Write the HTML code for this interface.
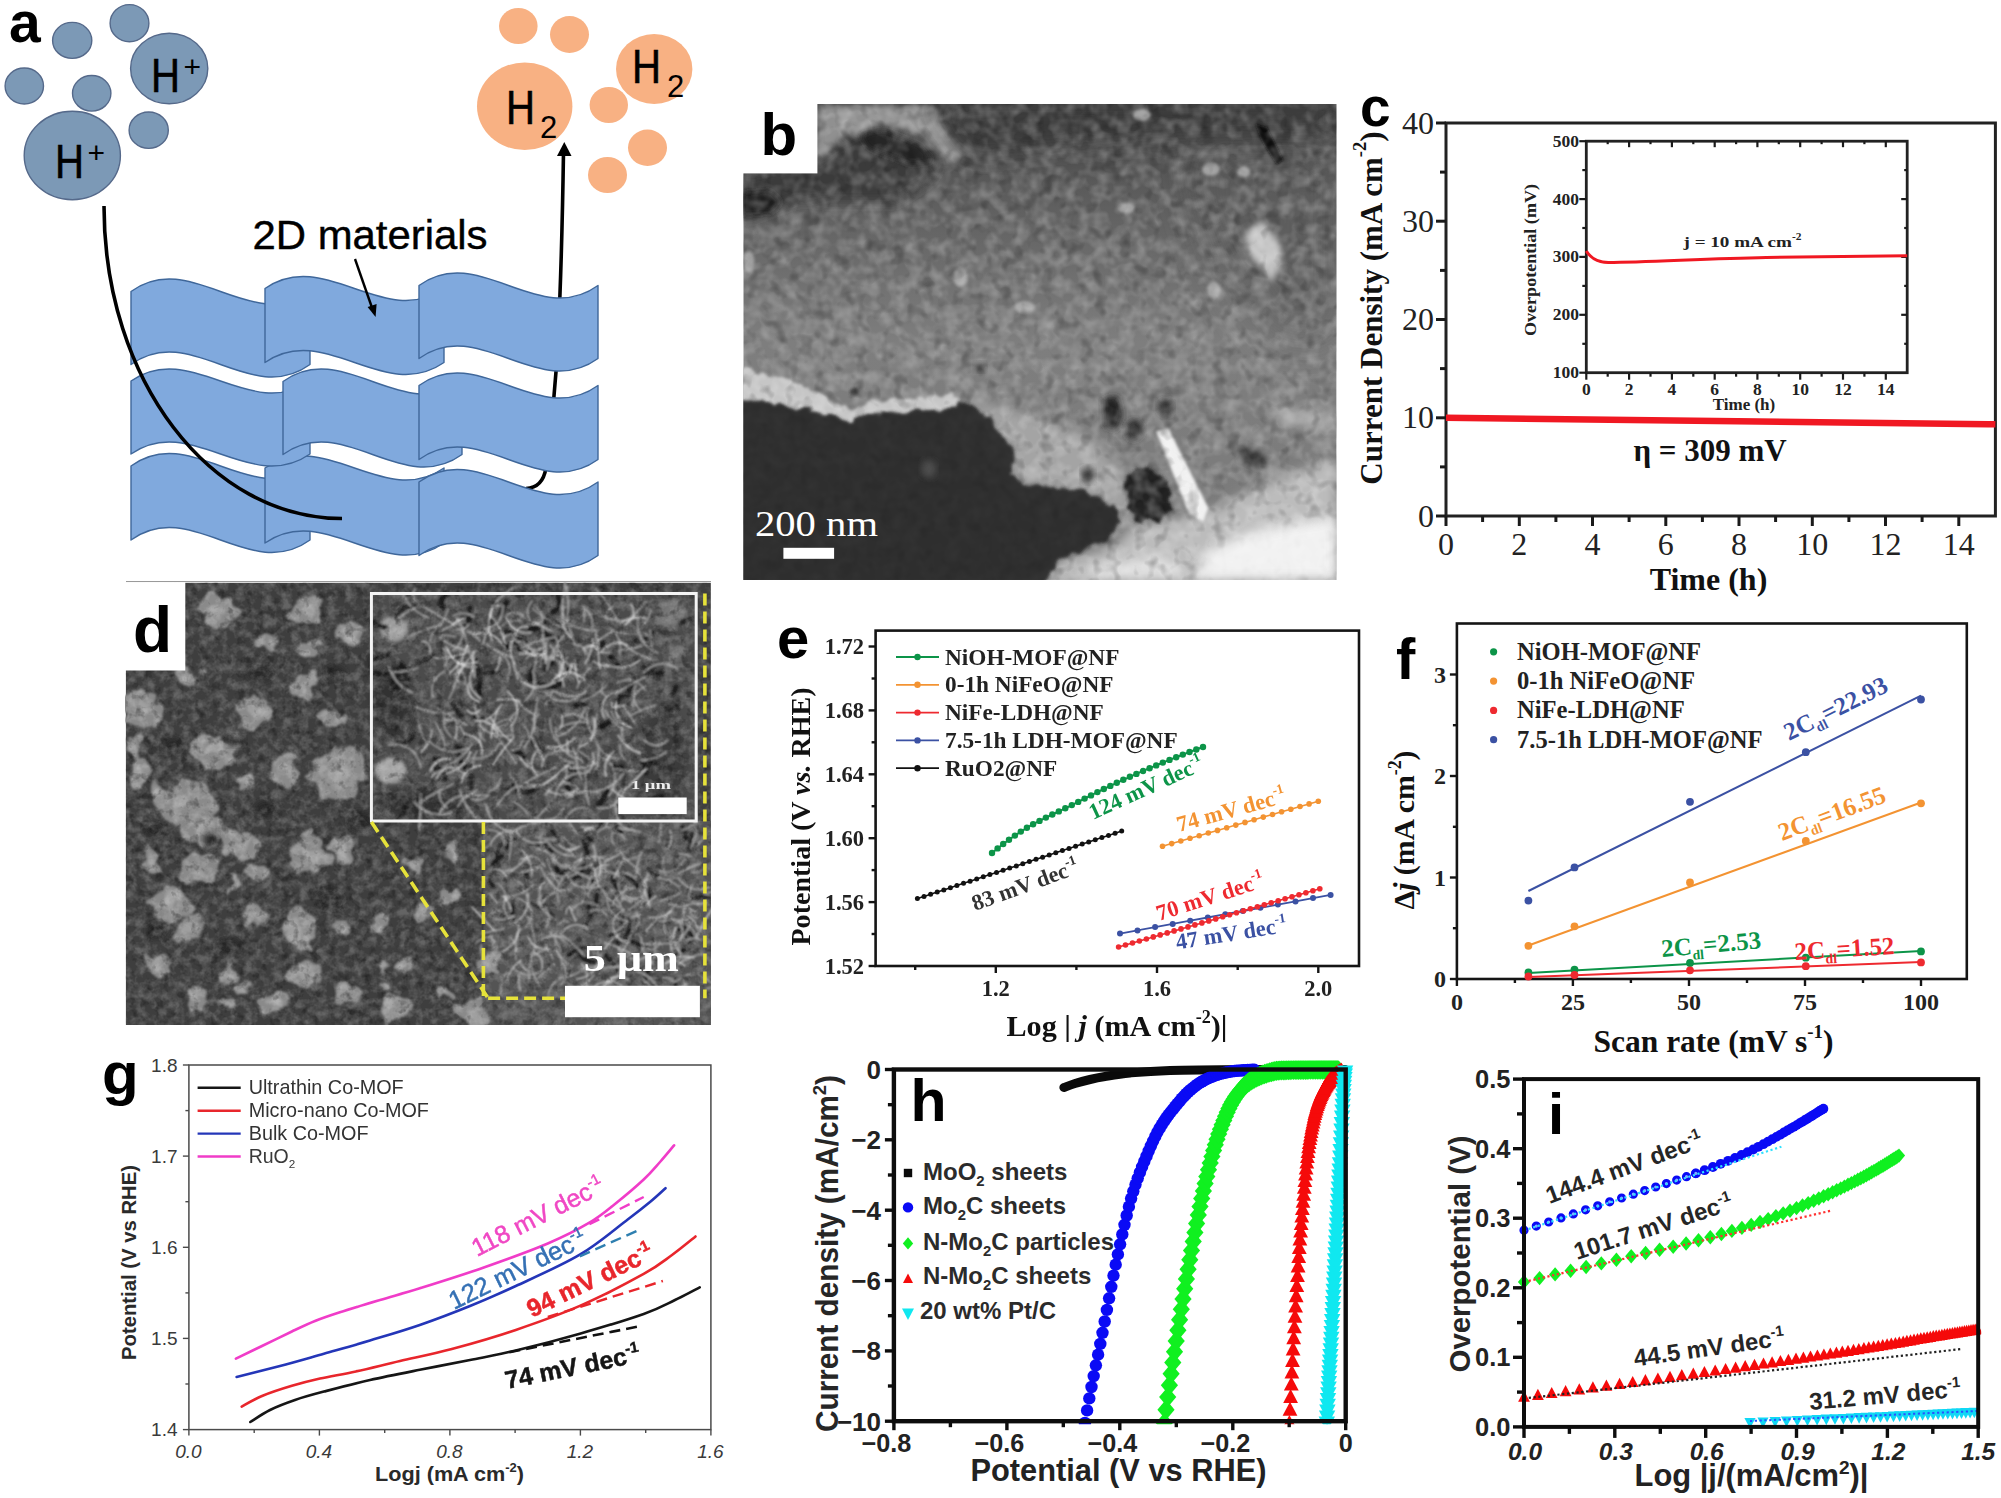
<!DOCTYPE html>
<html lang="en"><head><meta charset="utf-8"><title>2D materials electrocatalysis figure</title>
<style>
html,body{margin:0;padding:0;background:#fff;}
body{width:2001px;height:1498px;overflow:hidden;}
svg{display:block;}
.sa{font-family:"Liberation Sans", sans-serif;}
.se{font-family:"Liberation Serif", serif;}
.dj{font-family:"DejaVu Sans", "Liberation Sans", sans-serif;}
</style></head><body>
<svg width="2001" height="1498" viewBox="0 0 2001 1498">
<defs>

<filter id="bl2" x="-20%" y="-20%" width="140%" height="140%"><feGaussianBlur stdDeviation="1.6"/></filter>
<filter id="bl1" x="-20%" y="-20%" width="140%" height="140%"><feGaussianBlur stdDeviation="0.8"/></filter>
<filter id="bl3" x="-20%" y="-20%" width="140%" height="140%"><feGaussianBlur stdDeviation="3"/></filter>
<filter id="bl6" x="-30%" y="-30%" width="160%" height="160%"><feGaussianBlur stdDeviation="6"/></filter>
<filter id="bl12" x="-40%" y="-40%" width="180%" height="180%"><feGaussianBlur stdDeviation="12"/></filter>
<filter id="bl25" x="-50%" y="-50%" width="200%" height="200%"><feGaussianBlur stdDeviation="25"/></filter>
<filter id="roughb" x="-5%" y="-5%" width="110%" height="110%">
<feTurbulence type="fractalNoise" baseFrequency="0.09" numOctaves="2" seed="9" result="t"/>
<feDisplacementMap in="SourceGraphic" in2="t" scale="12" xChannelSelector="R" yChannelSelector="G" result="d"/>
<feGaussianBlur in="d" stdDeviation="1.4"/>
</filter>
<filter id="grainb" x="0" y="0" width="100%" height="100%">
<feTurbulence type="fractalNoise" baseFrequency="0.075" numOctaves="2" seed="7" result="n"/>
<feColorMatrix in="n" type="matrix" values="0 0 0 0 0  0 0 0 0 0  0 0 0 0 0  2.0 0 0 0 -0.75" result="a"/>
<feFlood flood-color="#fff"/><feComposite in2="a" operator="in"/>
</filter>
<filter id="graind" x="0" y="0" width="100%" height="100%">
<feTurbulence type="fractalNoise" baseFrequency="0.075" numOctaves="2" seed="3" result="n"/>
<feColorMatrix in="n" type="matrix" values="0 0 0 0 0  0 0 0 0 0  0 0 0 0 0  -2.0 0 0 0 0.95" result="a"/>
<feFlood flood-color="#000"/><feComposite in2="a" operator="in"/>
</filter>
<clipPath id="clipb"><rect x="743.3" y="104.0" width="593.3" height="475.9"/></clipPath>
<linearGradient id="gb1" x1="0" y1="0" x2="0" y2="1"><stop offset="0" stop-color="#454545"/><stop offset="0.22" stop-color="#606060"/><stop offset="0.5" stop-color="#7e7e7e"/><stop offset="0.75" stop-color="#7c7c7c"/><stop offset="1" stop-color="#787878"/></linearGradient>

<clipPath id="clipd"><rect x="125.7" y="582.6" width="585.2" height="442.4"/></clipPath>
<filter id="rough" x="-5%" y="-5%" width="110%" height="110%">
<feTurbulence type="fractalNoise" baseFrequency="0.055" numOctaves="2" seed="4" result="t"/>
<feDisplacementMap in="SourceGraphic" in2="t" scale="22" xChannelSelector="R" yChannelSelector="G" result="d"/>
<feGaussianBlur in="d" stdDeviation="1.3"/>
</filter>
<filter id="grainw2" x="0" y="0" width="100%" height="100%">
<feTurbulence type="fractalNoise" baseFrequency="0.11" numOctaves="3" seed="11" result="n"/>
<feColorMatrix in="n" type="matrix" values="0 0 0 0 0  0 0 0 0 0  0 0 0 0 0  2.4 0 0 0 -0.9" result="a"/>
<feFlood flood-color="#fff"/><feComposite in2="a" operator="in"/>
</filter>
<filter id="graink2" x="0" y="0" width="100%" height="100%">
<feTurbulence type="fractalNoise" baseFrequency="0.11" numOctaves="3" seed="23" result="n"/>
<feColorMatrix in="n" type="matrix" values="0 0 0 0 0  0 0 0 0 0  0 0 0 0 0  -2.4 0 0 0 1.1" result="a"/>
<feFlood flood-color="#000"/><feComposite in2="a" operator="in"/>
</filter>
<clipPath id="cliph"><rect x="885.9" y="1060.5" width="467.8" height="363.7"/></clipPath><clipPath id="clipi"><rect x="1516.0" y="1079.1" width="465.2" height="353.8"/></clipPath>
</defs>
<rect width="2001" height="1498" fill="#fff"/>
<g id="pa"><text class="sa" font-size="57" font-weight="bold" x="9.0" y="42.0">a</text>
<ellipse cx="72.2" cy="40.4" rx="19.6" ry="18" fill="#7c99b6" stroke="#55698a" stroke-width="1.4"/>
<ellipse cx="129.5" cy="23.2" rx="19.4" ry="18.6" fill="#7c99b6" stroke="#55698a" stroke-width="1.4"/>
<ellipse cx="24.3" cy="86" rx="19.2" ry="18" fill="#7c99b6" stroke="#55698a" stroke-width="1.4"/>
<ellipse cx="91.7" cy="93.3" rx="19.2" ry="17.8" fill="#7c99b6" stroke="#55698a" stroke-width="1.4"/>
<ellipse cx="148.7" cy="130.2" rx="19.6" ry="18.2" fill="#7c99b6" stroke="#55698a" stroke-width="1.4"/>
<ellipse cx="169.2" cy="68.5" rx="38.6" ry="35.3" fill="#7c99b6" stroke="#55698a" stroke-width="1.4"/>
<ellipse cx="72.3" cy="155.5" rx="48.1" ry="44.3" fill="#7c99b6" stroke="#55698a" stroke-width="1.4"/>
<text class="sa" font-size="48" textLength="29" lengthAdjust="spacingAndGlyphs" x="151.0" y="92.0" stroke="#000" stroke-width="0.6">H</text>
<text class="sa" font-size="30" x="183.5" y="77.0">+</text>
<text class="sa" font-size="48" textLength="29" lengthAdjust="spacingAndGlyphs" x="55.0" y="178.0" stroke="#000" stroke-width="0.6">H</text>
<text class="sa" font-size="30" x="87.5" y="163.0">+</text>
<ellipse cx="518.3" cy="26" rx="19.3" ry="18" fill="#f8b183"/>
<ellipse cx="569.5" cy="34.5" rx="19.5" ry="18.5" fill="#f8b183"/>
<ellipse cx="608.8" cy="105" rx="19.2" ry="18" fill="#f8b183"/>
<ellipse cx="647.5" cy="147.8" rx="19.5" ry="18.2" fill="#f8b183"/>
<ellipse cx="607.5" cy="175" rx="19.5" ry="18" fill="#f8b183"/>
<ellipse cx="524.7" cy="106.2" rx="47.7" ry="43.8" fill="#f8b183"/>
<ellipse cx="654.2" cy="69" rx="38.2" ry="35" fill="#f8b183"/>
<text class="sa" font-size="48" textLength="29" lengthAdjust="spacingAndGlyphs" x="506.0" y="124.0" stroke="#000" stroke-width="0.6">H</text>
<text class="sa" font-size="31" x="540.0" y="138.0">2</text>
<text class="sa" font-size="48" textLength="29" lengthAdjust="spacingAndGlyphs" x="632.0" y="83.0" stroke="#000" stroke-width="0.6">H</text>
<text class="sa" font-size="31" x="667.0" y="97.0">2</text>
<path d="M526,488.5 C538,488 544,480 546,468 C551,430 556,380 558,340 C560,300 562,250 563.5,152" fill="none" stroke="#000" stroke-width="3.6"/>
<path d="M564.3,142 L571.5,156 L557,156 Z" fill="#000"/>
<path d="M131,466 C190.7,422.7 250.3,509.3 310,466 L310,540 C250.3,583.3 190.7,496.7 131,540 Z" fill="#80a9dd" stroke="#3f679a" stroke-width="1.4" stroke-linejoin="round"/>
<path d="M265,468 C324.7,426.4 384.3,509.6 444,468 L444,543 C384.3,584.6 324.7,501.4 265,543 Z" fill="#80a9dd" stroke="#3f679a" stroke-width="1.4" stroke-linejoin="round"/>
<path d="M419,482 C478.7,438.7 538.3,525.3 598,482 L598,555.5 C538.3,598.8 478.7,512.2 419,555.5 Z" fill="#80a9dd" stroke="#3f679a" stroke-width="1.4" stroke-linejoin="round"/>
<path d="M131,381 C190.7,339.4 250.3,422.6 310,381 L310,454 C250.3,495.6 190.7,412.4 131,454 Z" fill="#80a9dd" stroke="#3f679a" stroke-width="1.4" stroke-linejoin="round"/>
<path d="M283,381.5 C342.7,338.2 402.3,424.8 462,381.5 L462,454.5 C402.3,497.8 342.7,411.2 283,454.5 Z" fill="#80a9dd" stroke="#3f679a" stroke-width="1.4" stroke-linejoin="round"/>
<path d="M419,385.5 C478.7,342.2 538.3,428.8 598,385.5 L598,459.5 C538.3,502.8 478.7,416.2 419,459.5 Z" fill="#80a9dd" stroke="#3f679a" stroke-width="1.4" stroke-linejoin="round"/>
<path d="M131,291.5 C190.7,248.2 250.3,334.8 310,291.5 L310,364.5 C250.3,407.8 190.7,321.2 131,364.5 Z" fill="#80a9dd" stroke="#3f679a" stroke-width="1.4" stroke-linejoin="round"/>
<path d="M265,288.5 C324.7,246.9 384.3,330.1 444,288.5 L444,362.5 C384.3,404.1 324.7,320.9 265,362.5 Z" fill="#80a9dd" stroke="#3f679a" stroke-width="1.4" stroke-linejoin="round"/>
<path d="M419,285.5 C478.7,242.2 538.3,328.8 598,285.5 L598,358.5 C538.3,401.8 478.7,315.2 419,358.5 Z" fill="#80a9dd" stroke="#3f679a" stroke-width="1.4" stroke-linejoin="round"/>
<path d="M104,206 C104,380 210,518.5 342,518.5" fill="none" stroke="#000" stroke-width="3.6"/>
<text class="sa" font-size="40" textLength="235" lengthAdjust="spacingAndGlyphs" x="252.5" y="249.0" stroke="#000" stroke-width="0.4">2D materials</text>
<line x1="355.0" y1="259.0" x2="372.8" y2="310.0" stroke="#000" stroke-width="2.4" />
<path d="M375.6,317 L367.6,307 L376.6,304 Z" fill="#000"/></g>
<g id="pb"><g clip-path="url(#clipb)">
<rect x="743.3" y="104.0" width="593.3" height="475.9" fill="url(#gb1)" />
<polygon points="1189.8,145.0 1336.7,145.0 1336.7,339.9 1279.7,339.9 1219.8,249.9" fill="#5c5c5c" filter="url(#bl25)" opacity="0.7"/>
<polygon points="815.0,160.0 839.0,142.0 865.9,130.0 919.9,145.0 937.9,163.0 931.9,178.0 895.9,201.9 830.0,201.9 800.0,199.0 743.0,219.9 743.0,175.0" fill="#3a3a3a" filter="url(#bl6)"/>
<polygon points="817.4,106.0 931.9,106.0 963.4,154.0 948.4,161.5 922.9,134.5 883.9,124.0 841.9,137.5 817.4,161.5" fill="#909090" filter="url(#bl3)"/>
<polygon points="859.9,134.5 883.9,130.0 919.9,145.0 933.4,161.5 910.9,164.5 868.9,148.0" fill="#262626" filter="url(#bl3)"/>
<polygon points="743.0,193.0 770.0,190.0 782.0,201.9 773.0,212.4 743.0,215.4" fill="#1e1e1e" filter="url(#bl3)"/>
<polygon points="931.9,103.0 1336.7,103.0 1336.7,133.0 1189.8,136.0 1069.8,145.0 1009.9,151.0 967.9,154.0" fill="#383838" filter="url(#bl12)" opacity="0.9"/>
<polygon points="1255.1,124.0 1267.1,127.6 1283.3,160.0 1276.7,164.5 1262.3,142.0" fill="#101010" filter="url(#bl2)"/>
<polygon points="1245.2,233.4 1261.7,219.9 1279.7,243.9 1283.3,258.9 1271.3,283.5 1262.3,267.9 1246.7,251.4" fill="#c2c2c2" filter="url(#bl3)"/>
<ellipse cx="960.4" cy="276.9" rx="7.2" ry="9.6" fill="#a6a6a6" filter="url(#bl2)" opacity="0.9"/>
<ellipse cx="1213.8" cy="290.4" rx="6.6" ry="9.0" fill="#a6a6a6" filter="url(#bl2)" opacity="0.9"/>
<ellipse cx="1024.9" cy="306.9" rx="10.2" ry="6.0" fill="#a6a6a6" filter="url(#bl2)" opacity="0.9"/>
<ellipse cx="749.0" cy="261.9" rx="5.4" ry="10.8" fill="#a6a6a6" filter="url(#bl2)" opacity="0.9"/>
<ellipse cx="1210.8" cy="169.0" rx="9.0" ry="6.6" fill="#a6a6a6" filter="url(#bl2)" opacity="0.9"/>
<ellipse cx="1141.8" cy="115.0" rx="9.0" ry="6.0" fill="#a6a6a6" filter="url(#bl2)" opacity="0.9"/>
<ellipse cx="1243.7" cy="172.0" rx="6.6" ry="5.4" fill="#a6a6a6" filter="url(#bl2)" opacity="0.9"/>
<ellipse cx="1126.8" cy="207.9" rx="7.8" ry="5.4" fill="#a6a6a6" filter="url(#bl2)" opacity="0.9"/>
<polygon points="949.9,391.0 988.9,404.5 1039.9,418.0 1084.8,436.0 1117.8,465.9 1129.8,495.9 1126.8,525.9 1111.8,507.9 1084.8,491.4 1024.9,485.4 1006.9,471.9 1015.9,453.9 1000.9,436.0 976.9,409.0" fill="#a4a4a4" filter="url(#bl6)"/>
<polygon points="1273.7,404.5 1336.7,415.0 1336.7,433.0 1273.7,421.0" fill="#a8a8a8" filter="url(#bl6)"/>
<polygon points="1039.9,579.9 1063.8,560.4 1114.8,546.9 1132.8,525.9 1174.8,519.9 1219.8,507.9 1264.7,483.9 1336.7,458.4 1336.7,579.9" fill="#bcbcbc" filter="url(#bl6)"/>
<polygon points="1069.8,579.9 1114.8,561.9 1165.8,555.9 1189.8,579.9" fill="#dedede" filter="url(#bl6)"/>
<polygon points="728.0,365.5 764.0,373.0 785.0,379.0 809.0,389.5 830.0,400.0 850.9,408.4 874.9,400.9 919.9,397.6 949.9,395.8 958.9,400.0 949.9,409.6 919.9,411.4 874.9,415.0 850.9,422.5 830.0,416.5 785.0,406.0 728.0,401.5" fill="#c6c6c6" filter="url(#roughb)"/>
<polygon points="1102.8,398.5 1117.8,395.5 1122.3,415.0 1116.3,431.5 1104.3,427.0" fill="#232323" filter="url(#bl3)"/>
<ellipse cx="1134.3" cy="430.0" rx="8.4" ry="10.2" fill="#2a2a2a" filter="url(#bl3)"/>
<ellipse cx="1165.8" cy="407.5" rx="7.2" ry="8.4" fill="#2e2e2e" filter="url(#bl3)"/>
<polygon points="1126.8,474.9 1147.8,467.4 1168.8,480.9 1171.8,507.9 1159.8,521.4 1132.8,519.9 1125.3,495.9" fill="#222" filter="url(#roughb)"/>
<ellipse cx="1252.7" cy="456.9" rx="15.6" ry="9.0" fill="#3a3a3a" filter="url(#bl3)" transform="rotate(25 1252.7 456.9)"/>
<ellipse cx="853.9" cy="391.6" rx="3.9" ry="3.9" fill="#3a3a3a" filter="url(#bl2)"/>
<ellipse cx="979.9" cy="367.0" rx="5.4" ry="4.8" fill="#444" filter="url(#bl3)"/>
<ellipse cx="1087.8" cy="474.9" rx="6.0" ry="7.8" fill="#3a3a3a" filter="url(#bl3)"/>
<polygon points="1156.2,431.5 1168.2,427.9 1208.4,507.9 1203.3,521.7 1189.2,513.9" fill="#f0f0f0" filter="url(#bl2)"/>
<rect x="743.3" y="104.0" width="593.3" height="475.9" filter="url(#grainb)" opacity="0.27"/>
<rect x="743.3" y="104.0" width="593.3" height="475.9" filter="url(#graind)" opacity="0.34"/>
<polygon points="728.0,398.5 785.0,404.2 830.0,415.0 850.9,421.3 874.9,413.8 919.9,410.8 949.9,409.0 956.5,401.2 976.9,407.8 989.5,418.6 1003.9,439.0 1016.5,453.9 1009.9,471.9 1024.9,483.9 1054.8,487.5 1084.8,490.5 1109.4,502.5 1121.4,520.5 1109.4,538.5 1084.8,550.5 1060.8,559.5 1039.9,594.9 728.0,594.9" fill="#202020" filter="url(#roughb)" opacity="0.86"/>
<ellipse cx="928.9" cy="468.9" rx="7.2" ry="9.0" fill="#4e4e4e" filter="url(#bl3)"/>
<polygon points="1189.8,579.9 1207.8,551.4 1249.7,531.9 1294.7,522.9 1336.7,516.9 1336.7,579.9" fill="#fbfbfb" filter="url(#bl6)" opacity="0.85"/>
</g>
<rect x="742.3" y="103.0" width="75.1" height="70.4" fill="#fff" />
<text class="sa" font-size="60" font-weight="bold" x="760.5" y="155.0">b</text>
<rect x="783.4" y="547.8" width="50.7" height="11.0" fill="#fff" />
<text class="se" font-size="36" fill="#fff" textLength="123" lengthAdjust="spacingAndGlyphs" x="755.0" y="535.5">200 nm</text></g>
<g id="pc"><rect x="1446.0" y="123.0" width="549.4" height="393.0" fill="none" stroke="#222" stroke-width="3.0" />
<line x1="1436.0" y1="516.0" x2="1446.0" y2="516.0" stroke="#1a1a1a" stroke-width="3" />
<line x1="1440.0" y1="466.9" x2="1446.0" y2="466.9" stroke="#1a1a1a" stroke-width="3" />
<line x1="1436.0" y1="417.8" x2="1446.0" y2="417.8" stroke="#1a1a1a" stroke-width="3" />
<line x1="1440.0" y1="368.6" x2="1446.0" y2="368.6" stroke="#1a1a1a" stroke-width="3" />
<line x1="1436.0" y1="319.5" x2="1446.0" y2="319.5" stroke="#1a1a1a" stroke-width="3" />
<line x1="1440.0" y1="270.4" x2="1446.0" y2="270.4" stroke="#1a1a1a" stroke-width="3" />
<line x1="1436.0" y1="221.2" x2="1446.0" y2="221.2" stroke="#1a1a1a" stroke-width="3" />
<line x1="1440.0" y1="172.1" x2="1446.0" y2="172.1" stroke="#1a1a1a" stroke-width="3" />
<line x1="1436.0" y1="123.0" x2="1446.0" y2="123.0" stroke="#1a1a1a" stroke-width="3" />
<line x1="1446.0" y1="516.0" x2="1446.0" y2="526.0" stroke="#1a1a1a" stroke-width="3" />
<line x1="1482.6" y1="516.0" x2="1482.6" y2="522.0" stroke="#1a1a1a" stroke-width="3" />
<line x1="1519.3" y1="516.0" x2="1519.3" y2="526.0" stroke="#1a1a1a" stroke-width="3" />
<line x1="1555.9" y1="516.0" x2="1555.9" y2="522.0" stroke="#1a1a1a" stroke-width="3" />
<line x1="1592.5" y1="516.0" x2="1592.5" y2="526.0" stroke="#1a1a1a" stroke-width="3" />
<line x1="1629.1" y1="516.0" x2="1629.1" y2="522.0" stroke="#1a1a1a" stroke-width="3" />
<line x1="1665.8" y1="516.0" x2="1665.8" y2="526.0" stroke="#1a1a1a" stroke-width="3" />
<line x1="1702.4" y1="516.0" x2="1702.4" y2="522.0" stroke="#1a1a1a" stroke-width="3" />
<line x1="1739.0" y1="516.0" x2="1739.0" y2="526.0" stroke="#1a1a1a" stroke-width="3" />
<line x1="1775.6" y1="516.0" x2="1775.6" y2="522.0" stroke="#1a1a1a" stroke-width="3" />
<line x1="1812.3" y1="516.0" x2="1812.3" y2="526.0" stroke="#1a1a1a" stroke-width="3" />
<line x1="1848.9" y1="516.0" x2="1848.9" y2="522.0" stroke="#1a1a1a" stroke-width="3" />
<line x1="1885.5" y1="516.0" x2="1885.5" y2="526.0" stroke="#1a1a1a" stroke-width="3" />
<line x1="1922.1" y1="516.0" x2="1922.1" y2="522.0" stroke="#1a1a1a" stroke-width="3" />
<line x1="1958.8" y1="516.0" x2="1958.8" y2="526.0" stroke="#1a1a1a" stroke-width="3" />
<text class="se" font-size="32" fill="#222" text-anchor="end" x="1434.0" y="526.5">0</text>
<text class="se" font-size="32" fill="#222" text-anchor="end" x="1434.0" y="428.2">10</text>
<text class="se" font-size="32" fill="#222" text-anchor="end" x="1434.0" y="330.0">20</text>
<text class="se" font-size="32" fill="#222" text-anchor="end" x="1434.0" y="231.8">30</text>
<text class="se" font-size="32" fill="#222" text-anchor="end" x="1434.0" y="133.5">40</text>
<text class="se" font-size="32" fill="#222" text-anchor="middle" x="1446.0" y="555.0">0</text>
<text class="se" font-size="32" fill="#222" text-anchor="middle" x="1519.3" y="555.0">2</text>
<text class="se" font-size="32" fill="#222" text-anchor="middle" x="1592.5" y="555.0">4</text>
<text class="se" font-size="32" fill="#222" text-anchor="middle" x="1665.8" y="555.0">6</text>
<text class="se" font-size="32" fill="#222" text-anchor="middle" x="1739.0" y="555.0">8</text>
<text class="se" font-size="32" fill="#222" text-anchor="middle" x="1812.3" y="555.0">10</text>
<text class="se" font-size="32" fill="#222" text-anchor="middle" x="1885.5" y="555.0">12</text>
<text class="se" font-size="32" fill="#222" text-anchor="middle" x="1958.8" y="555.0">14</text>
<text class="se" font-size="32" font-weight="bold" fill="#111" text-anchor="middle" x="1708.5" y="590.0">Time (h)</text>
<text class="se" font-size="31" font-weight="bold" fill="#111" text-anchor="middle" transform="translate(1381.5 308.0) rotate(-90)">Current Density (mA cm<tspan dy="-15.50" font-size="18.60">-2</tspan><tspan dy="15.50">&#8203;</tspan>)</text>
<text class="sa" font-size="55" font-weight="bold" x="1360.0" y="126.0">c</text>
<path d="M1446,417.8 C1596,421 1796,423 1995.4,424.2" fill="none" stroke="#f01822" stroke-width="6.5"/>
<text class="se" font-size="31" font-weight="bold" fill="#111" text-anchor="middle" x="1710.0" y="461.0">η = 309 mV</text>
<rect x="1586.3" y="141.2" width="320.9" height="231.5" fill="none" stroke="#222" stroke-width="2.8" />
<line x1="1579.3" y1="372.7" x2="1586.3" y2="372.7" stroke="#1a1a1a" stroke-width="2.2" />
<line x1="1582.3" y1="343.8" x2="1586.3" y2="343.8" stroke="#1a1a1a" stroke-width="2.2" />
<line x1="1904.2" y1="343.8" x2="1907.2" y2="343.8" stroke="#1a1a1a" stroke-width="2.2" />
<line x1="1579.3" y1="314.8" x2="1586.3" y2="314.8" stroke="#1a1a1a" stroke-width="2.2" />
<line x1="1901.2" y1="314.8" x2="1907.2" y2="314.8" stroke="#1a1a1a" stroke-width="2.2" />
<line x1="1582.3" y1="285.9" x2="1586.3" y2="285.9" stroke="#1a1a1a" stroke-width="2.2" />
<line x1="1904.2" y1="285.9" x2="1907.2" y2="285.9" stroke="#1a1a1a" stroke-width="2.2" />
<line x1="1579.3" y1="256.9" x2="1586.3" y2="256.9" stroke="#1a1a1a" stroke-width="2.2" />
<line x1="1901.2" y1="256.9" x2="1907.2" y2="256.9" stroke="#1a1a1a" stroke-width="2.2" />
<line x1="1582.3" y1="228.0" x2="1586.3" y2="228.0" stroke="#1a1a1a" stroke-width="2.2" />
<line x1="1904.2" y1="228.0" x2="1907.2" y2="228.0" stroke="#1a1a1a" stroke-width="2.2" />
<line x1="1579.3" y1="199.1" x2="1586.3" y2="199.1" stroke="#1a1a1a" stroke-width="2.2" />
<line x1="1901.2" y1="199.1" x2="1907.2" y2="199.1" stroke="#1a1a1a" stroke-width="2.2" />
<line x1="1582.3" y1="170.1" x2="1586.3" y2="170.1" stroke="#1a1a1a" stroke-width="2.2" />
<line x1="1904.2" y1="170.1" x2="1907.2" y2="170.1" stroke="#1a1a1a" stroke-width="2.2" />
<line x1="1579.3" y1="141.2" x2="1586.3" y2="141.2" stroke="#1a1a1a" stroke-width="2.2" />
<line x1="1586.3" y1="372.7" x2="1586.3" y2="379.7" stroke="#1a1a1a" stroke-width="2.2" />
<line x1="1607.7" y1="372.7" x2="1607.7" y2="376.7" stroke="#1a1a1a" stroke-width="2.2" />
<line x1="1607.7" y1="141.2" x2="1607.7" y2="144.2" stroke="#1a1a1a" stroke-width="2.2" />
<line x1="1629.1" y1="372.7" x2="1629.1" y2="379.7" stroke="#1a1a1a" stroke-width="2.2" />
<line x1="1629.1" y1="141.2" x2="1629.1" y2="147.2" stroke="#1a1a1a" stroke-width="2.2" />
<line x1="1650.5" y1="372.7" x2="1650.5" y2="376.7" stroke="#1a1a1a" stroke-width="2.2" />
<line x1="1650.5" y1="141.2" x2="1650.5" y2="144.2" stroke="#1a1a1a" stroke-width="2.2" />
<line x1="1671.9" y1="372.7" x2="1671.9" y2="379.7" stroke="#1a1a1a" stroke-width="2.2" />
<line x1="1671.9" y1="141.2" x2="1671.9" y2="147.2" stroke="#1a1a1a" stroke-width="2.2" />
<line x1="1693.3" y1="372.7" x2="1693.3" y2="376.7" stroke="#1a1a1a" stroke-width="2.2" />
<line x1="1693.3" y1="141.2" x2="1693.3" y2="144.2" stroke="#1a1a1a" stroke-width="2.2" />
<line x1="1714.7" y1="372.7" x2="1714.7" y2="379.7" stroke="#1a1a1a" stroke-width="2.2" />
<line x1="1714.7" y1="141.2" x2="1714.7" y2="147.2" stroke="#1a1a1a" stroke-width="2.2" />
<line x1="1736.1" y1="372.7" x2="1736.1" y2="376.7" stroke="#1a1a1a" stroke-width="2.2" />
<line x1="1736.1" y1="141.2" x2="1736.1" y2="144.2" stroke="#1a1a1a" stroke-width="2.2" />
<line x1="1757.4" y1="372.7" x2="1757.4" y2="379.7" stroke="#1a1a1a" stroke-width="2.2" />
<line x1="1757.4" y1="141.2" x2="1757.4" y2="147.2" stroke="#1a1a1a" stroke-width="2.2" />
<line x1="1778.8" y1="372.7" x2="1778.8" y2="376.7" stroke="#1a1a1a" stroke-width="2.2" />
<line x1="1778.8" y1="141.2" x2="1778.8" y2="144.2" stroke="#1a1a1a" stroke-width="2.2" />
<line x1="1800.2" y1="372.7" x2="1800.2" y2="379.7" stroke="#1a1a1a" stroke-width="2.2" />
<line x1="1800.2" y1="141.2" x2="1800.2" y2="147.2" stroke="#1a1a1a" stroke-width="2.2" />
<line x1="1821.6" y1="372.7" x2="1821.6" y2="376.7" stroke="#1a1a1a" stroke-width="2.2" />
<line x1="1821.6" y1="141.2" x2="1821.6" y2="144.2" stroke="#1a1a1a" stroke-width="2.2" />
<line x1="1843.0" y1="372.7" x2="1843.0" y2="379.7" stroke="#1a1a1a" stroke-width="2.2" />
<line x1="1843.0" y1="141.2" x2="1843.0" y2="147.2" stroke="#1a1a1a" stroke-width="2.2" />
<line x1="1864.4" y1="372.7" x2="1864.4" y2="376.7" stroke="#1a1a1a" stroke-width="2.2" />
<line x1="1864.4" y1="141.2" x2="1864.4" y2="144.2" stroke="#1a1a1a" stroke-width="2.2" />
<line x1="1885.8" y1="372.7" x2="1885.8" y2="379.7" stroke="#1a1a1a" stroke-width="2.2" />
<line x1="1885.8" y1="141.2" x2="1885.8" y2="147.2" stroke="#1a1a1a" stroke-width="2.2" />
<text class="se" font-size="17.5" font-weight="bold" fill="#222" text-anchor="end" x="1579.0" y="378.2">100</text>
<text class="se" font-size="17.5" font-weight="bold" fill="#222" text-anchor="end" x="1579.0" y="320.3">200</text>
<text class="se" font-size="17.5" font-weight="bold" fill="#222" text-anchor="end" x="1579.0" y="262.4">300</text>
<text class="se" font-size="17.5" font-weight="bold" fill="#222" text-anchor="end" x="1579.0" y="204.6">400</text>
<text class="se" font-size="17.5" font-weight="bold" fill="#222" text-anchor="end" x="1579.0" y="146.7">500</text>
<text class="se" font-size="17.5" font-weight="bold" fill="#222" text-anchor="middle" x="1586.3" y="394.5">0</text>
<text class="se" font-size="17.5" font-weight="bold" fill="#222" text-anchor="middle" x="1629.1" y="394.5">2</text>
<text class="se" font-size="17.5" font-weight="bold" fill="#222" text-anchor="middle" x="1671.9" y="394.5">4</text>
<text class="se" font-size="17.5" font-weight="bold" fill="#222" text-anchor="middle" x="1714.7" y="394.5">6</text>
<text class="se" font-size="17.5" font-weight="bold" fill="#222" text-anchor="middle" x="1757.4" y="394.5">8</text>
<text class="se" font-size="17.5" font-weight="bold" fill="#222" text-anchor="middle" x="1800.2" y="394.5">10</text>
<text class="se" font-size="17.5" font-weight="bold" fill="#222" text-anchor="middle" x="1843.0" y="394.5">12</text>
<text class="se" font-size="17.5" font-weight="bold" fill="#222" text-anchor="middle" x="1885.8" y="394.5">14</text>
<text class="se" font-size="17" font-weight="bold" fill="#222" text-anchor="middle" x="1744.0" y="410.0">Time (h)</text>
<text class="se" font-size="16.5" font-weight="bold" fill="#222" text-anchor="middle" textLength="152" lengthAdjust="spacingAndGlyphs" transform="translate(1535.5 260.0) rotate(-90)">Overpotential (mV)</text>
<text class="se" font-size="15.5" font-weight="bold" fill="#222" textLength="118" lengthAdjust="spacingAndGlyphs" x="1683.5" y="246.5">j = 10 mA cm<tspan dy="-6.98" font-size="9.30">-2</tspan><tspan dy="6.98">&#8203;</tspan></text>
<path d="M1586.3,251 C1589.3,256 1596.3,262.5 1608.3,262.5 C1646.3,262.5 1706.3,258.5 1766.3,257.5 C1826.3,256.6 1876.3,256 1907.2,255.8" fill="none" stroke="#f01822" stroke-width="3"/></g>
<g id="pd"><line x1="126.0" y1="581.5" x2="711.0" y2="581.5" stroke="#9a9a9a" stroke-width="1.2" />
<g clip-path="url(#clipd)">
<rect x="125.7" y="582.6" width="585.2" height="442.4" fill="#3e3e3e" />
<rect x="483.4" y="821.0" width="227.5" height="204.0" fill="#545454" />
<g filter="url(#rough)">
<ellipse cx="215.0" cy="604.1" rx="10.2" ry="8.5" fill="#8a8a8a" opacity="0.95"/>
<ellipse cx="226.4" cy="612.9" rx="11.9" ry="10.0" fill="#8a8a8a" opacity="0.95"/>
<ellipse cx="215.1" cy="612.6" rx="12.2" ry="10.3" fill="#8a8a8a" opacity="0.95"/>
<ellipse cx="220.7" cy="606.9" rx="11.4" ry="9.6" fill="#8a8a8a" opacity="0.95"/>
<ellipse cx="225.9" cy="613.1" rx="9.6" ry="8.0" fill="#8a8a8a" opacity="0.95"/>
<ellipse cx="210.6" cy="611.0" rx="10.0" ry="8.4" fill="#8a8a8a" opacity="0.95"/>
<ellipse cx="217.3" cy="603.9" rx="12.4" ry="10.4" fill="#8a8a8a" opacity="0.95"/>
<ellipse cx="219.0" cy="608.3" rx="11.5" ry="9.6" fill="#8a8a8a" opacity="0.95"/>
<ellipse cx="216.5" cy="612.5" rx="6.6" ry="5.5" fill="#a6a6a6" opacity="0.75"/>
<ellipse cx="303.3" cy="614.6" rx="11.9" ry="10.7" fill="#8a8a8a" opacity="0.95"/>
<ellipse cx="308.8" cy="605.6" rx="9.7" ry="8.8" fill="#8a8a8a" opacity="0.95"/>
<ellipse cx="298.7" cy="611.2" rx="9.8" ry="8.9" fill="#8a8a8a" opacity="0.95"/>
<ellipse cx="303.5" cy="614.4" rx="8.5" ry="7.7" fill="#8a8a8a" opacity="0.95"/>
<ellipse cx="299.4" cy="615.3" rx="11.7" ry="10.6" fill="#8a8a8a" opacity="0.95"/>
<ellipse cx="301.3" cy="607.8" rx="9.2" ry="8.4" fill="#8a8a8a" opacity="0.95"/>
<ellipse cx="307.4" cy="612.4" rx="11.0" ry="10.0" fill="#8a8a8a" opacity="0.95"/>
<ellipse cx="306.4" cy="610.1" rx="5.5" ry="5.0" fill="#a6a6a6" opacity="0.75"/>
<ellipse cx="305.7" cy="647.5" rx="9.1" ry="10.1" fill="#8a8a8a" opacity="0.95"/>
<ellipse cx="301.9" cy="648.3" rx="8.0" ry="8.9" fill="#8a8a8a" opacity="0.95"/>
<ellipse cx="303.7" cy="650.0" rx="8.4" ry="9.4" fill="#8a8a8a" opacity="0.95"/>
<ellipse cx="305.1" cy="647.8" rx="7.8" ry="8.6" fill="#8a8a8a" opacity="0.95"/>
<ellipse cx="308.9" cy="651.4" rx="8.7" ry="9.7" fill="#8a8a8a" opacity="0.95"/>
<ellipse cx="308.7" cy="653.5" rx="7.6" ry="8.5" fill="#8a8a8a" opacity="0.95"/>
<ellipse cx="302.8" cy="649.4" rx="9.5" ry="10.6" fill="#8a8a8a" opacity="0.95"/>
<ellipse cx="305.3" cy="654.6" rx="4.7" ry="5.3" fill="#a6a6a6" opacity="0.75"/>
<ellipse cx="298.7" cy="687.9" rx="9.3" ry="8.2" fill="#8a8a8a" opacity="0.95"/>
<ellipse cx="302.9" cy="682.0" rx="9.6" ry="8.6" fill="#8a8a8a" opacity="0.95"/>
<ellipse cx="304.7" cy="681.4" rx="10.1" ry="9.0" fill="#8a8a8a" opacity="0.95"/>
<ellipse cx="305.3" cy="683.6" rx="8.6" ry="7.6" fill="#8a8a8a" opacity="0.95"/>
<ellipse cx="304.2" cy="688.7" rx="10.0" ry="8.8" fill="#8a8a8a" opacity="0.95"/>
<ellipse cx="296.6" cy="685.1" rx="9.2" ry="8.2" fill="#8a8a8a" opacity="0.95"/>
<ellipse cx="301.1" cy="682.3" rx="9.4" ry="8.4" fill="#8a8a8a" opacity="0.95"/>
<ellipse cx="301.8" cy="685.4" rx="4.7" ry="4.2" fill="#a6a6a6" opacity="0.75"/>
<ellipse cx="137.7" cy="711.4" rx="16.2" ry="14.4" fill="#8a8a8a" opacity="0.95"/>
<ellipse cx="139.0" cy="702.3" rx="11.8" ry="10.5" fill="#8a8a8a" opacity="0.95"/>
<ellipse cx="147.9" cy="712.8" rx="15.5" ry="13.7" fill="#8a8a8a" opacity="0.95"/>
<ellipse cx="146.1" cy="715.2" rx="15.4" ry="13.6" fill="#8a8a8a" opacity="0.95"/>
<ellipse cx="150.9" cy="709.6" rx="13.0" ry="11.5" fill="#8a8a8a" opacity="0.95"/>
<ellipse cx="148.2" cy="709.2" rx="13.5" ry="12.0" fill="#8a8a8a" opacity="0.95"/>
<ellipse cx="146.4" cy="711.6" rx="11.9" ry="10.5" fill="#8a8a8a" opacity="0.95"/>
<ellipse cx="138.8" cy="709.2" rx="15.2" ry="13.5" fill="#8a8a8a" opacity="0.95"/>
<ellipse cx="140.5" cy="705.8" rx="16.9" ry="15.0" fill="#8a8a8a" opacity="0.95"/>
<ellipse cx="142.0" cy="707.6" rx="8.2" ry="7.2" fill="#a6a6a6" opacity="0.75"/>
<ellipse cx="253.4" cy="719.0" rx="10.4" ry="9.6" fill="#8a8a8a" opacity="0.95"/>
<ellipse cx="256.7" cy="710.4" rx="10.0" ry="9.2" fill="#8a8a8a" opacity="0.95"/>
<ellipse cx="252.0" cy="712.5" rx="12.5" ry="11.5" fill="#8a8a8a" opacity="0.95"/>
<ellipse cx="251.0" cy="719.2" rx="14.5" ry="13.4" fill="#8a8a8a" opacity="0.95"/>
<ellipse cx="256.5" cy="710.0" rx="13.8" ry="12.7" fill="#8a8a8a" opacity="0.95"/>
<ellipse cx="251.3" cy="710.8" rx="10.5" ry="9.7" fill="#8a8a8a" opacity="0.95"/>
<ellipse cx="249.3" cy="711.1" rx="14.5" ry="13.4" fill="#8a8a8a" opacity="0.95"/>
<ellipse cx="260.6" cy="713.2" rx="11.5" ry="10.6" fill="#8a8a8a" opacity="0.95"/>
<ellipse cx="256.3" cy="711.8" rx="6.9" ry="6.3" fill="#a6a6a6" opacity="0.75"/>
<ellipse cx="222.0" cy="752.6" rx="14.3" ry="12.3" fill="#8a8a8a" opacity="0.95"/>
<ellipse cx="221.3" cy="753.7" rx="15.8" ry="13.6" fill="#8a8a8a" opacity="0.95"/>
<ellipse cx="212.5" cy="752.4" rx="12.2" ry="10.5" fill="#8a8a8a" opacity="0.95"/>
<ellipse cx="214.2" cy="757.0" rx="13.0" ry="11.2" fill="#8a8a8a" opacity="0.95"/>
<ellipse cx="225.8" cy="746.9" rx="14.2" ry="12.2" fill="#8a8a8a" opacity="0.95"/>
<ellipse cx="216.1" cy="757.3" rx="13.6" ry="11.7" fill="#8a8a8a" opacity="0.95"/>
<ellipse cx="212.3" cy="751.1" rx="16.3" ry="14.0" fill="#8a8a8a" opacity="0.95"/>
<ellipse cx="211.9" cy="749.1" rx="13.5" ry="11.7" fill="#8a8a8a" opacity="0.95"/>
<ellipse cx="214.8" cy="749.5" rx="7.6" ry="6.6" fill="#a6a6a6" opacity="0.75"/>
<ellipse cx="332.4" cy="772.9" rx="22.3" ry="18.3" fill="#8a8a8a" opacity="0.95"/>
<ellipse cx="341.0" cy="767.8" rx="20.3" ry="16.7" fill="#8a8a8a" opacity="0.95"/>
<ellipse cx="337.0" cy="782.2" rx="22.3" ry="18.3" fill="#8a8a8a" opacity="0.95"/>
<ellipse cx="339.2" cy="776.5" rx="17.2" ry="14.2" fill="#8a8a8a" opacity="0.95"/>
<ellipse cx="346.2" cy="770.4" rx="20.9" ry="17.2" fill="#8a8a8a" opacity="0.95"/>
<ellipse cx="328.3" cy="772.2" rx="20.8" ry="17.2" fill="#8a8a8a" opacity="0.95"/>
<ellipse cx="338.8" cy="766.5" rx="22.1" ry="18.2" fill="#8a8a8a" opacity="0.95"/>
<ellipse cx="336.0" cy="778.4" rx="18.7" ry="15.4" fill="#8a8a8a" opacity="0.95"/>
<ellipse cx="336.3" cy="778.4" rx="19.7" ry="16.2" fill="#8a8a8a" opacity="0.95"/>
<ellipse cx="331.4" cy="778.4" rx="20.7" ry="17.1" fill="#8a8a8a" opacity="0.95"/>
<ellipse cx="345.6" cy="772.1" rx="19.6" ry="16.2" fill="#8a8a8a" opacity="0.95"/>
<ellipse cx="341.1" cy="772.8" rx="11.2" ry="9.2" fill="#a6a6a6" opacity="0.75"/>
<ellipse cx="283.7" cy="770.3" rx="11.0" ry="10.5" fill="#8a8a8a" opacity="0.95"/>
<ellipse cx="281.2" cy="772.9" rx="10.7" ry="10.2" fill="#8a8a8a" opacity="0.95"/>
<ellipse cx="282.7" cy="767.6" rx="11.5" ry="11.0" fill="#8a8a8a" opacity="0.95"/>
<ellipse cx="282.7" cy="773.4" rx="11.3" ry="10.7" fill="#8a8a8a" opacity="0.95"/>
<ellipse cx="286.9" cy="774.0" rx="11.2" ry="10.7" fill="#8a8a8a" opacity="0.95"/>
<ellipse cx="291.6" cy="773.3" rx="10.7" ry="10.1" fill="#8a8a8a" opacity="0.95"/>
<ellipse cx="282.5" cy="772.2" rx="11.0" ry="10.5" fill="#8a8a8a" opacity="0.95"/>
<ellipse cx="287.8" cy="769.0" rx="5.5" ry="5.3" fill="#a6a6a6" opacity="0.75"/>
<ellipse cx="172.4" cy="803.1" rx="20.0" ry="14.1" fill="#8a8a8a" opacity="0.95"/>
<ellipse cx="179.4" cy="805.7" rx="20.7" ry="14.6" fill="#8a8a8a" opacity="0.95"/>
<ellipse cx="184.0" cy="799.1" rx="17.8" ry="12.6" fill="#8a8a8a" opacity="0.95"/>
<ellipse cx="187.4" cy="794.2" rx="21.3" ry="15.0" fill="#8a8a8a" opacity="0.95"/>
<ellipse cx="193.7" cy="803.5" rx="23.8" ry="16.8" fill="#8a8a8a" opacity="0.95"/>
<ellipse cx="193.6" cy="802.1" rx="16.4" ry="11.6" fill="#8a8a8a" opacity="0.95"/>
<ellipse cx="185.6" cy="798.4" rx="21.2" ry="14.9" fill="#8a8a8a" opacity="0.95"/>
<ellipse cx="193.3" cy="799.8" rx="17.1" ry="12.1" fill="#8a8a8a" opacity="0.95"/>
<ellipse cx="178.5" cy="811.6" rx="17.2" ry="12.1" fill="#8a8a8a" opacity="0.95"/>
<ellipse cx="175.7" cy="798.4" rx="17.3" ry="12.2" fill="#8a8a8a" opacity="0.95"/>
<ellipse cx="179.0" cy="800.0" rx="16.9" ry="11.9" fill="#8a8a8a" opacity="0.95"/>
<ellipse cx="181.6" cy="800.0" rx="11.2" ry="7.9" fill="#a6a6a6" opacity="0.75"/>
<ellipse cx="211.9" cy="829.4" rx="18.1" ry="12.9" fill="#8a8a8a" opacity="0.95"/>
<ellipse cx="207.4" cy="825.1" rx="16.0" ry="11.4" fill="#8a8a8a" opacity="0.95"/>
<ellipse cx="200.8" cy="832.9" rx="16.4" ry="11.7" fill="#8a8a8a" opacity="0.95"/>
<ellipse cx="210.2" cy="825.5" rx="13.5" ry="9.7" fill="#8a8a8a" opacity="0.95"/>
<ellipse cx="202.6" cy="824.2" rx="17.3" ry="12.4" fill="#8a8a8a" opacity="0.95"/>
<ellipse cx="192.8" cy="827.0" rx="16.8" ry="12.0" fill="#8a8a8a" opacity="0.95"/>
<ellipse cx="200.1" cy="824.5" rx="16.8" ry="12.0" fill="#8a8a8a" opacity="0.95"/>
<ellipse cx="203.9" cy="834.4" rx="16.6" ry="11.8" fill="#8a8a8a" opacity="0.95"/>
<ellipse cx="207.7" cy="830.1" rx="15.6" ry="11.2" fill="#8a8a8a" opacity="0.95"/>
<ellipse cx="205.3" cy="825.7" rx="9.2" ry="6.6" fill="#a6a6a6" opacity="0.75"/>
<ellipse cx="240.2" cy="837.3" rx="10.8" ry="8.8" fill="#8a8a8a" opacity="0.95"/>
<ellipse cx="240.2" cy="840.7" rx="11.0" ry="9.0" fill="#8a8a8a" opacity="0.95"/>
<ellipse cx="238.3" cy="841.1" rx="14.9" ry="12.2" fill="#8a8a8a" opacity="0.95"/>
<ellipse cx="237.0" cy="843.5" rx="14.5" ry="11.8" fill="#8a8a8a" opacity="0.95"/>
<ellipse cx="249.2" cy="844.1" rx="10.6" ry="8.7" fill="#8a8a8a" opacity="0.95"/>
<ellipse cx="247.1" cy="849.1" rx="13.9" ry="11.4" fill="#8a8a8a" opacity="0.95"/>
<ellipse cx="242.4" cy="845.7" rx="15.4" ry="12.6" fill="#8a8a8a" opacity="0.95"/>
<ellipse cx="237.6" cy="837.2" rx="11.1" ry="9.1" fill="#8a8a8a" opacity="0.95"/>
<ellipse cx="242.4" cy="842.3" rx="7.2" ry="5.9" fill="#a6a6a6" opacity="0.75"/>
<ellipse cx="201.5" cy="875.2" rx="13.5" ry="11.1" fill="#8a8a8a" opacity="0.95"/>
<ellipse cx="197.9" cy="874.7" rx="11.1" ry="9.0" fill="#8a8a8a" opacity="0.95"/>
<ellipse cx="204.4" cy="866.2" rx="14.5" ry="11.9" fill="#8a8a8a" opacity="0.95"/>
<ellipse cx="193.3" cy="874.0" rx="13.0" ry="10.7" fill="#8a8a8a" opacity="0.95"/>
<ellipse cx="195.5" cy="868.3" rx="14.2" ry="11.6" fill="#8a8a8a" opacity="0.95"/>
<ellipse cx="198.4" cy="872.9" rx="10.5" ry="8.6" fill="#8a8a8a" opacity="0.95"/>
<ellipse cx="201.8" cy="873.5" rx="15.0" ry="12.2" fill="#8a8a8a" opacity="0.95"/>
<ellipse cx="193.2" cy="872.0" rx="10.4" ry="8.5" fill="#8a8a8a" opacity="0.95"/>
<ellipse cx="200.8" cy="873.2" rx="7.2" ry="5.9" fill="#a6a6a6" opacity="0.75"/>
<ellipse cx="306.4" cy="849.0" rx="13.9" ry="11.6" fill="#8a8a8a" opacity="0.95"/>
<ellipse cx="314.0" cy="854.3" rx="12.2" ry="10.2" fill="#8a8a8a" opacity="0.95"/>
<ellipse cx="306.8" cy="855.8" rx="16.3" ry="13.6" fill="#8a8a8a" opacity="0.95"/>
<ellipse cx="313.5" cy="855.6" rx="12.9" ry="10.7" fill="#8a8a8a" opacity="0.95"/>
<ellipse cx="313.4" cy="855.9" rx="12.6" ry="10.5" fill="#8a8a8a" opacity="0.95"/>
<ellipse cx="307.8" cy="852.7" rx="16.5" ry="13.8" fill="#8a8a8a" opacity="0.95"/>
<ellipse cx="304.1" cy="858.4" rx="15.2" ry="12.7" fill="#8a8a8a" opacity="0.95"/>
<ellipse cx="307.9" cy="847.7" rx="16.6" ry="13.9" fill="#8a8a8a" opacity="0.95"/>
<ellipse cx="316.6" cy="856.8" rx="12.9" ry="10.8" fill="#8a8a8a" opacity="0.95"/>
<ellipse cx="311.7" cy="853.5" rx="7.9" ry="6.6" fill="#a6a6a6" opacity="0.75"/>
<ellipse cx="346.8" cy="853.0" rx="7.6" ry="6.7" fill="#8a8a8a" opacity="0.95"/>
<ellipse cx="345.6" cy="852.8" rx="9.0" ry="7.9" fill="#8a8a8a" opacity="0.95"/>
<ellipse cx="349.0" cy="850.3" rx="8.7" ry="7.6" fill="#8a8a8a" opacity="0.95"/>
<ellipse cx="342.1" cy="851.4" rx="10.3" ry="9.0" fill="#8a8a8a" opacity="0.95"/>
<ellipse cx="344.8" cy="848.5" rx="8.4" ry="7.4" fill="#8a8a8a" opacity="0.95"/>
<ellipse cx="342.2" cy="845.7" rx="10.0" ry="8.7" fill="#8a8a8a" opacity="0.95"/>
<ellipse cx="339.2" cy="853.3" rx="7.6" ry="6.6" fill="#8a8a8a" opacity="0.95"/>
<ellipse cx="343.1" cy="852.2" rx="5.3" ry="4.6" fill="#a6a6a6" opacity="0.75"/>
<ellipse cx="256.0" cy="873.6" rx="7.7" ry="7.2" fill="#8a8a8a" opacity="0.95"/>
<ellipse cx="261.1" cy="872.6" rx="7.1" ry="6.6" fill="#8a8a8a" opacity="0.95"/>
<ellipse cx="259.0" cy="873.7" rx="8.7" ry="8.2" fill="#8a8a8a" opacity="0.95"/>
<ellipse cx="252.2" cy="873.1" rx="6.2" ry="5.8" fill="#8a8a8a" opacity="0.95"/>
<ellipse cx="257.5" cy="874.4" rx="7.2" ry="6.8" fill="#8a8a8a" opacity="0.95"/>
<ellipse cx="259.8" cy="873.7" rx="7.3" ry="6.8" fill="#8a8a8a" opacity="0.95"/>
<ellipse cx="256.5" cy="870.5" rx="4.2" ry="4.0" fill="#a6a6a6" opacity="0.75"/>
<ellipse cx="181.8" cy="904.4" rx="11.3" ry="9.2" fill="#8a8a8a" opacity="0.95"/>
<ellipse cx="167.4" cy="902.4" rx="13.1" ry="10.7" fill="#8a8a8a" opacity="0.95"/>
<ellipse cx="176.9" cy="904.6" rx="10.9" ry="8.9" fill="#8a8a8a" opacity="0.95"/>
<ellipse cx="164.1" cy="900.7" rx="13.5" ry="11.0" fill="#8a8a8a" opacity="0.95"/>
<ellipse cx="175.3" cy="900.0" rx="10.4" ry="8.5" fill="#8a8a8a" opacity="0.95"/>
<ellipse cx="167.0" cy="901.4" rx="13.3" ry="10.9" fill="#8a8a8a" opacity="0.95"/>
<ellipse cx="167.8" cy="906.6" rx="14.1" ry="11.5" fill="#8a8a8a" opacity="0.95"/>
<ellipse cx="176.8" cy="900.6" rx="12.7" ry="10.4" fill="#8a8a8a" opacity="0.95"/>
<ellipse cx="174.4" cy="901.2" rx="7.2" ry="5.9" fill="#a6a6a6" opacity="0.75"/>
<ellipse cx="190.0" cy="930.0" rx="9.4" ry="7.9" fill="#8a8a8a" opacity="0.95"/>
<ellipse cx="187.9" cy="921.8" rx="10.5" ry="8.7" fill="#8a8a8a" opacity="0.95"/>
<ellipse cx="188.8" cy="929.4" rx="10.1" ry="8.5" fill="#8a8a8a" opacity="0.95"/>
<ellipse cx="191.1" cy="929.7" rx="11.6" ry="9.7" fill="#8a8a8a" opacity="0.95"/>
<ellipse cx="187.0" cy="929.9" rx="12.2" ry="10.2" fill="#8a8a8a" opacity="0.95"/>
<ellipse cx="190.2" cy="928.6" rx="10.3" ry="8.6" fill="#8a8a8a" opacity="0.95"/>
<ellipse cx="184.9" cy="929.4" rx="10.9" ry="9.1" fill="#8a8a8a" opacity="0.95"/>
<ellipse cx="184.2" cy="932.9" rx="11.5" ry="9.6" fill="#8a8a8a" opacity="0.95"/>
<ellipse cx="188.9" cy="928.5" rx="6.3" ry="5.3" fill="#a6a6a6" opacity="0.75"/>
<ellipse cx="295.6" cy="924.3" rx="14.3" ry="12.6" fill="#8a8a8a" opacity="0.95"/>
<ellipse cx="298.4" cy="924.3" rx="17.2" ry="15.3" fill="#8a8a8a" opacity="0.95"/>
<ellipse cx="294.0" cy="923.5" rx="13.2" ry="11.7" fill="#8a8a8a" opacity="0.95"/>
<ellipse cx="297.4" cy="926.0" rx="12.4" ry="11.0" fill="#8a8a8a" opacity="0.95"/>
<ellipse cx="299.0" cy="932.4" rx="13.2" ry="11.7" fill="#8a8a8a" opacity="0.95"/>
<ellipse cx="292.8" cy="926.8" rx="12.0" ry="10.7" fill="#8a8a8a" opacity="0.95"/>
<ellipse cx="295.8" cy="924.4" rx="11.8" ry="10.5" fill="#8a8a8a" opacity="0.95"/>
<ellipse cx="298.9" cy="931.9" rx="13.8" ry="12.2" fill="#8a8a8a" opacity="0.95"/>
<ellipse cx="301.7" cy="923.8" rx="15.2" ry="13.5" fill="#8a8a8a" opacity="0.95"/>
<ellipse cx="293.8" cy="930.5" rx="8.2" ry="7.2" fill="#a6a6a6" opacity="0.75"/>
<ellipse cx="255.2" cy="917.3" rx="7.6" ry="6.1" fill="#8a8a8a" opacity="0.95"/>
<ellipse cx="252.3" cy="912.7" rx="10.3" ry="8.2" fill="#8a8a8a" opacity="0.95"/>
<ellipse cx="261.2" cy="917.2" rx="8.2" ry="6.5" fill="#8a8a8a" opacity="0.95"/>
<ellipse cx="256.4" cy="912.0" rx="11.1" ry="8.9" fill="#8a8a8a" opacity="0.95"/>
<ellipse cx="258.2" cy="913.2" rx="8.7" ry="7.0" fill="#8a8a8a" opacity="0.95"/>
<ellipse cx="261.1" cy="913.4" rx="9.2" ry="7.3" fill="#8a8a8a" opacity="0.95"/>
<ellipse cx="252.1" cy="916.8" rx="11.1" ry="8.8" fill="#8a8a8a" opacity="0.95"/>
<ellipse cx="257.6" cy="917.5" rx="5.3" ry="4.2" fill="#a6a6a6" opacity="0.75"/>
<ellipse cx="302.2" cy="973.4" rx="12.7" ry="10.6" fill="#8a8a8a" opacity="0.95"/>
<ellipse cx="302.3" cy="975.8" rx="13.5" ry="11.2" fill="#8a8a8a" opacity="0.95"/>
<ellipse cx="310.2" cy="975.7" rx="11.2" ry="9.3" fill="#8a8a8a" opacity="0.95"/>
<ellipse cx="307.9" cy="972.2" rx="10.0" ry="8.3" fill="#8a8a8a" opacity="0.95"/>
<ellipse cx="304.0" cy="977.6" rx="11.6" ry="9.6" fill="#8a8a8a" opacity="0.95"/>
<ellipse cx="300.3" cy="979.2" rx="10.1" ry="8.4" fill="#8a8a8a" opacity="0.95"/>
<ellipse cx="302.3" cy="977.3" rx="13.5" ry="11.2" fill="#8a8a8a" opacity="0.95"/>
<ellipse cx="308.5" cy="969.6" rx="11.8" ry="9.9" fill="#8a8a8a" opacity="0.95"/>
<ellipse cx="304.0" cy="973.0" rx="6.3" ry="5.3" fill="#a6a6a6" opacity="0.75"/>
<ellipse cx="158.8" cy="962.7" rx="6.1" ry="5.4" fill="#8a8a8a" opacity="0.95"/>
<ellipse cx="158.0" cy="966.8" rx="8.2" ry="7.2" fill="#8a8a8a" opacity="0.95"/>
<ellipse cx="158.9" cy="964.2" rx="8.4" ry="7.4" fill="#8a8a8a" opacity="0.95"/>
<ellipse cx="155.2" cy="968.7" rx="8.6" ry="7.5" fill="#8a8a8a" opacity="0.95"/>
<ellipse cx="153.7" cy="962.5" rx="7.2" ry="6.3" fill="#8a8a8a" opacity="0.95"/>
<ellipse cx="160.6" cy="965.6" rx="7.8" ry="6.8" fill="#8a8a8a" opacity="0.95"/>
<ellipse cx="155.5" cy="964.8" rx="4.2" ry="3.7" fill="#a6a6a6" opacity="0.75"/>
<ellipse cx="272.4" cy="1002.8" rx="8.3" ry="6.5" fill="#8a8a8a" opacity="0.95"/>
<ellipse cx="270.2" cy="1003.6" rx="9.7" ry="7.6" fill="#8a8a8a" opacity="0.95"/>
<ellipse cx="267.9" cy="1004.5" rx="10.1" ry="8.0" fill="#8a8a8a" opacity="0.95"/>
<ellipse cx="277.7" cy="999.6" rx="9.6" ry="7.5" fill="#8a8a8a" opacity="0.95"/>
<ellipse cx="267.7" cy="1000.4" rx="8.5" ry="6.7" fill="#8a8a8a" opacity="0.95"/>
<ellipse cx="269.0" cy="999.2" rx="9.0" ry="7.1" fill="#8a8a8a" opacity="0.95"/>
<ellipse cx="272.7" cy="1003.1" rx="7.5" ry="5.9" fill="#8a8a8a" opacity="0.95"/>
<ellipse cx="272.4" cy="1001.8" rx="5.0" ry="4.0" fill="#a6a6a6" opacity="0.75"/>
<ellipse cx="392.7" cy="1001.2" rx="9.1" ry="7.8" fill="#8a8a8a" opacity="0.95"/>
<ellipse cx="395.5" cy="1004.9" rx="10.7" ry="9.2" fill="#8a8a8a" opacity="0.95"/>
<ellipse cx="397.7" cy="1008.4" rx="10.6" ry="9.0" fill="#8a8a8a" opacity="0.95"/>
<ellipse cx="398.9" cy="1004.6" rx="10.6" ry="9.1" fill="#8a8a8a" opacity="0.95"/>
<ellipse cx="395.5" cy="1001.9" rx="10.3" ry="8.8" fill="#8a8a8a" opacity="0.95"/>
<ellipse cx="393.6" cy="1010.0" rx="11.5" ry="9.8" fill="#8a8a8a" opacity="0.95"/>
<ellipse cx="392.9" cy="1012.2" rx="10.1" ry="8.6" fill="#8a8a8a" opacity="0.95"/>
<ellipse cx="391.9" cy="1003.7" rx="5.5" ry="4.7" fill="#a6a6a6" opacity="0.75"/>
<ellipse cx="487.7" cy="963.5" rx="9.0" ry="7.5" fill="#8a8a8a" opacity="0.95"/>
<ellipse cx="494.4" cy="959.4" rx="8.9" ry="7.4" fill="#8a8a8a" opacity="0.95"/>
<ellipse cx="488.0" cy="963.4" rx="9.1" ry="7.6" fill="#8a8a8a" opacity="0.95"/>
<ellipse cx="485.0" cy="960.9" rx="8.0" ry="6.7" fill="#8a8a8a" opacity="0.95"/>
<ellipse cx="491.7" cy="960.8" rx="7.8" ry="6.5" fill="#8a8a8a" opacity="0.95"/>
<ellipse cx="489.2" cy="965.9" rx="9.8" ry="8.2" fill="#8a8a8a" opacity="0.95"/>
<ellipse cx="491.9" cy="965.5" rx="9.4" ry="7.8" fill="#8a8a8a" opacity="0.95"/>
<ellipse cx="488.3" cy="960.0" rx="4.7" ry="4.0" fill="#a6a6a6" opacity="0.75"/>
<ellipse cx="466.8" cy="1010.0" rx="14.1" ry="10.8" fill="#8a8a8a" opacity="0.95"/>
<ellipse cx="473.3" cy="1008.5" rx="11.9" ry="9.1" fill="#8a8a8a" opacity="0.95"/>
<ellipse cx="465.8" cy="1011.3" rx="11.3" ry="8.7" fill="#8a8a8a" opacity="0.95"/>
<ellipse cx="472.8" cy="1017.3" rx="14.5" ry="11.2" fill="#8a8a8a" opacity="0.95"/>
<ellipse cx="475.0" cy="1014.3" rx="10.4" ry="8.0" fill="#8a8a8a" opacity="0.95"/>
<ellipse cx="468.1" cy="1010.5" rx="10.7" ry="8.2" fill="#8a8a8a" opacity="0.95"/>
<ellipse cx="476.3" cy="1017.0" rx="13.0" ry="10.0" fill="#8a8a8a" opacity="0.95"/>
<ellipse cx="471.3" cy="1007.3" rx="10.1" ry="7.8" fill="#8a8a8a" opacity="0.95"/>
<ellipse cx="473.9" cy="1014.1" rx="6.9" ry="5.3" fill="#a6a6a6" opacity="0.75"/>
<ellipse cx="413.7" cy="864.3" rx="8.0" ry="7.0" fill="#8a8a8a" opacity="0.95"/>
<ellipse cx="408.2" cy="861.6" rx="6.3" ry="5.5" fill="#8a8a8a" opacity="0.95"/>
<ellipse cx="409.7" cy="861.2" rx="7.0" ry="6.1" fill="#8a8a8a" opacity="0.95"/>
<ellipse cx="412.9" cy="866.0" rx="6.1" ry="5.3" fill="#8a8a8a" opacity="0.95"/>
<ellipse cx="412.9" cy="865.9" rx="7.4" ry="6.4" fill="#8a8a8a" opacity="0.95"/>
<ellipse cx="414.6" cy="867.2" rx="7.7" ry="6.7" fill="#8a8a8a" opacity="0.95"/>
<ellipse cx="412.8" cy="866.5" rx="4.0" ry="3.4" fill="#a6a6a6" opacity="0.75"/>
<ellipse cx="451.0" cy="848.6" rx="7.2" ry="6.7" fill="#8a8a8a" opacity="0.95"/>
<ellipse cx="448.9" cy="849.5" rx="5.1" ry="4.8" fill="#8a8a8a" opacity="0.95"/>
<ellipse cx="453.2" cy="853.2" rx="5.4" ry="5.0" fill="#8a8a8a" opacity="0.95"/>
<ellipse cx="450.1" cy="854.2" rx="6.6" ry="6.1" fill="#8a8a8a" opacity="0.95"/>
<ellipse cx="451.9" cy="851.0" rx="5.9" ry="5.4" fill="#8a8a8a" opacity="0.95"/>
<ellipse cx="449.7" cy="851.8" rx="5.2" ry="4.8" fill="#8a8a8a" opacity="0.95"/>
<ellipse cx="452.5" cy="851.8" rx="3.4" ry="3.2" fill="#a6a6a6" opacity="0.75"/>
<ellipse cx="422.6" cy="909.6" rx="7.3" ry="6.7" fill="#8a8a8a" opacity="0.95"/>
<ellipse cx="425.1" cy="911.6" rx="6.8" ry="6.2" fill="#8a8a8a" opacity="0.95"/>
<ellipse cx="423.4" cy="910.0" rx="5.2" ry="4.8" fill="#8a8a8a" opacity="0.95"/>
<ellipse cx="421.4" cy="912.3" rx="6.7" ry="6.2" fill="#8a8a8a" opacity="0.95"/>
<ellipse cx="425.9" cy="910.9" rx="5.6" ry="5.2" fill="#8a8a8a" opacity="0.95"/>
<ellipse cx="420.3" cy="912.0" rx="6.8" ry="6.3" fill="#8a8a8a" opacity="0.95"/>
<ellipse cx="424.2" cy="911.0" rx="3.4" ry="3.2" fill="#a6a6a6" opacity="0.75"/>
<ellipse cx="345.3" cy="994.4" rx="9.5" ry="7.1" fill="#8a8a8a" opacity="0.95"/>
<ellipse cx="352.3" cy="991.4" rx="8.4" ry="6.3" fill="#8a8a8a" opacity="0.95"/>
<ellipse cx="347.3" cy="989.0" rx="8.6" ry="6.4" fill="#8a8a8a" opacity="0.95"/>
<ellipse cx="352.0" cy="992.3" rx="11.2" ry="8.4" fill="#8a8a8a" opacity="0.95"/>
<ellipse cx="344.8" cy="989.7" rx="11.0" ry="8.3" fill="#8a8a8a" opacity="0.95"/>
<ellipse cx="351.5" cy="992.0" rx="10.6" ry="7.9" fill="#8a8a8a" opacity="0.95"/>
<ellipse cx="354.2" cy="990.6" rx="8.9" ry="6.7" fill="#8a8a8a" opacity="0.95"/>
<ellipse cx="346.0" cy="989.2" rx="5.3" ry="4.0" fill="#a6a6a6" opacity="0.75"/>
<ellipse cx="226.0" cy="975.5" rx="8.3" ry="6.6" fill="#8a8a8a" opacity="0.95"/>
<ellipse cx="231.7" cy="975.5" rx="9.8" ry="7.8" fill="#8a8a8a" opacity="0.95"/>
<ellipse cx="225.8" cy="975.8" rx="6.9" ry="5.5" fill="#8a8a8a" opacity="0.95"/>
<ellipse cx="228.2" cy="979.4" rx="8.9" ry="7.1" fill="#8a8a8a" opacity="0.95"/>
<ellipse cx="227.4" cy="974.7" rx="7.9" ry="6.3" fill="#8a8a8a" opacity="0.95"/>
<ellipse cx="229.9" cy="972.0" rx="8.5" ry="6.8" fill="#8a8a8a" opacity="0.95"/>
<ellipse cx="231.3" cy="975.5" rx="4.6" ry="3.7" fill="#a6a6a6" opacity="0.75"/>
<ellipse cx="137.2" cy="769.3" rx="5.7" ry="7.6" fill="#8a8a8a" opacity="0.95"/>
<ellipse cx="138.6" cy="766.9" rx="8.1" ry="10.8" fill="#8a8a8a" opacity="0.95"/>
<ellipse cx="140.5" cy="765.1" rx="6.7" ry="9.0" fill="#8a8a8a" opacity="0.95"/>
<ellipse cx="142.5" cy="770.8" rx="8.2" ry="10.9" fill="#8a8a8a" opacity="0.95"/>
<ellipse cx="140.8" cy="775.5" rx="6.8" ry="9.1" fill="#8a8a8a" opacity="0.95"/>
<ellipse cx="143.3" cy="769.6" rx="6.3" ry="8.3" fill="#8a8a8a" opacity="0.95"/>
<ellipse cx="137.8" cy="769.7" rx="4.0" ry="5.3" fill="#a6a6a6" opacity="0.75"/>
<ellipse cx="147.9" cy="862.3" rx="8.8" ry="7.5" fill="#8a8a8a" opacity="0.95"/>
<ellipse cx="152.5" cy="863.2" rx="8.1" ry="6.9" fill="#8a8a8a" opacity="0.95"/>
<ellipse cx="153.8" cy="863.1" rx="9.5" ry="8.2" fill="#8a8a8a" opacity="0.95"/>
<ellipse cx="152.7" cy="860.4" rx="6.7" ry="5.7" fill="#8a8a8a" opacity="0.95"/>
<ellipse cx="153.6" cy="857.4" rx="8.6" ry="7.3" fill="#8a8a8a" opacity="0.95"/>
<ellipse cx="152.6" cy="863.6" rx="9.6" ry="8.2" fill="#8a8a8a" opacity="0.95"/>
<ellipse cx="153.0" cy="859.5" rx="4.6" ry="4.0" fill="#a6a6a6" opacity="0.75"/>
<ellipse cx="349.9" cy="635.5" rx="7.5" ry="6.4" fill="#8a8a8a" opacity="0.95"/>
<ellipse cx="348.5" cy="629.9" rx="9.1" ry="7.8" fill="#8a8a8a" opacity="0.95"/>
<ellipse cx="350.7" cy="635.5" rx="9.8" ry="8.4" fill="#8a8a8a" opacity="0.95"/>
<ellipse cx="347.9" cy="631.1" rx="7.0" ry="6.0" fill="#8a8a8a" opacity="0.95"/>
<ellipse cx="346.4" cy="630.5" rx="7.8" ry="6.7" fill="#8a8a8a" opacity="0.95"/>
<ellipse cx="344.3" cy="633.3" rx="9.8" ry="8.4" fill="#8a8a8a" opacity="0.95"/>
<ellipse cx="347.2" cy="633.1" rx="4.6" ry="4.0" fill="#a6a6a6" opacity="0.75"/>
<ellipse cx="329.4" cy="720.5" rx="7.7" ry="6.7" fill="#8a8a8a" opacity="0.95"/>
<ellipse cx="331.8" cy="719.6" rx="7.6" ry="6.6" fill="#8a8a8a" opacity="0.95"/>
<ellipse cx="334.0" cy="717.7" rx="6.8" ry="5.9" fill="#8a8a8a" opacity="0.95"/>
<ellipse cx="325.9" cy="717.4" rx="7.9" ry="6.8" fill="#8a8a8a" opacity="0.95"/>
<ellipse cx="332.7" cy="718.5" rx="5.8" ry="5.0" fill="#8a8a8a" opacity="0.95"/>
<ellipse cx="327.6" cy="719.0" rx="5.7" ry="4.9" fill="#8a8a8a" opacity="0.95"/>
<ellipse cx="328.6" cy="717.2" rx="4.0" ry="3.4" fill="#a6a6a6" opacity="0.75"/>
<ellipse cx="264.1" cy="638.7" rx="6.7" ry="5.8" fill="#8a8a8a" opacity="0.95"/>
<ellipse cx="262.9" cy="641.5" rx="8.3" ry="7.2" fill="#8a8a8a" opacity="0.95"/>
<ellipse cx="271.8" cy="640.8" rx="6.5" ry="5.6" fill="#8a8a8a" opacity="0.95"/>
<ellipse cx="269.3" cy="645.9" rx="5.9" ry="5.1" fill="#8a8a8a" opacity="0.95"/>
<ellipse cx="262.9" cy="643.3" rx="7.1" ry="6.2" fill="#8a8a8a" opacity="0.95"/>
<ellipse cx="263.1" cy="644.9" rx="6.5" ry="5.6" fill="#8a8a8a" opacity="0.95"/>
<ellipse cx="267.1" cy="643.8" rx="4.0" ry="3.4" fill="#a6a6a6" opacity="0.75"/>
<ellipse cx="190.8" cy="675.6" rx="9.4" ry="7.0" fill="#8a8a8a" opacity="0.95"/>
<ellipse cx="185.8" cy="672.7" rx="9.2" ry="6.9" fill="#8a8a8a" opacity="0.95"/>
<ellipse cx="190.6" cy="674.2" rx="8.8" ry="6.6" fill="#8a8a8a" opacity="0.95"/>
<ellipse cx="192.6" cy="677.5" rx="8.5" ry="6.4" fill="#8a8a8a" opacity="0.95"/>
<ellipse cx="187.5" cy="677.9" rx="10.3" ry="7.7" fill="#8a8a8a" opacity="0.95"/>
<ellipse cx="188.0" cy="678.1" rx="9.9" ry="7.4" fill="#8a8a8a" opacity="0.95"/>
<ellipse cx="184.6" cy="676.0" rx="8.5" ry="6.3" fill="#8a8a8a" opacity="0.95"/>
<ellipse cx="187.3" cy="675.4" rx="5.3" ry="4.0" fill="#a6a6a6" opacity="0.75"/>
<ellipse cx="375.4" cy="926.1" rx="6.1" ry="5.3" fill="#8a8a8a" opacity="0.95"/>
<ellipse cx="380.9" cy="925.6" rx="7.7" ry="6.7" fill="#8a8a8a" opacity="0.95"/>
<ellipse cx="378.5" cy="924.1" rx="5.8" ry="5.0" fill="#8a8a8a" opacity="0.95"/>
<ellipse cx="381.3" cy="922.0" rx="8.1" ry="7.0" fill="#8a8a8a" opacity="0.95"/>
<ellipse cx="383.4" cy="925.3" rx="6.0" ry="5.2" fill="#8a8a8a" opacity="0.95"/>
<ellipse cx="379.2" cy="921.4" rx="7.4" ry="6.4" fill="#8a8a8a" opacity="0.95"/>
<ellipse cx="378.4" cy="926.8" rx="4.0" ry="3.4" fill="#a6a6a6" opacity="0.75"/>
<ellipse cx="343.0" cy="928.1" rx="7.0" ry="6.4" fill="#8a8a8a" opacity="0.95"/>
<ellipse cx="343.1" cy="928.0" rx="6.4" ry="5.9" fill="#8a8a8a" opacity="0.95"/>
<ellipse cx="339.3" cy="924.0" rx="7.1" ry="6.5" fill="#8a8a8a" opacity="0.95"/>
<ellipse cx="345.1" cy="928.6" rx="7.4" ry="6.8" fill="#8a8a8a" opacity="0.95"/>
<ellipse cx="344.7" cy="929.7" rx="5.9" ry="5.4" fill="#8a8a8a" opacity="0.95"/>
<ellipse cx="341.5" cy="928.4" rx="7.2" ry="6.6" fill="#8a8a8a" opacity="0.95"/>
<ellipse cx="341.9" cy="929.3" rx="3.6" ry="3.4" fill="#a6a6a6" opacity="0.75"/>
<ellipse cx="380.7" cy="989.3" rx="3.8" ry="4.3" fill="#8a8a8a" opacity="0.95"/>
<ellipse cx="381.6" cy="992.4" rx="3.8" ry="4.3" fill="#8a8a8a" opacity="0.95"/>
<ellipse cx="383.3" cy="990.0" rx="3.6" ry="4.0" fill="#8a8a8a" opacity="0.95"/>
<ellipse cx="379.8" cy="990.2" rx="4.6" ry="5.2" fill="#8a8a8a" opacity="0.95"/>
<ellipse cx="382.4" cy="990.2" rx="4.3" ry="4.8" fill="#8a8a8a" opacity="0.95"/>
<ellipse cx="382.8" cy="988.7" rx="2.4" ry="2.7" fill="#a6a6a6" opacity="0.75"/>
<ellipse cx="447.3" cy="894.3" rx="5.8" ry="3.5" fill="#8a8a8a" opacity="0.95"/>
<ellipse cx="451.1" cy="897.4" rx="6.9" ry="4.1" fill="#8a8a8a" opacity="0.95"/>
<ellipse cx="454.2" cy="894.3" rx="7.2" ry="4.3" fill="#8a8a8a" opacity="0.95"/>
<ellipse cx="447.8" cy="896.7" rx="7.7" ry="4.6" fill="#8a8a8a" opacity="0.95"/>
<ellipse cx="451.0" cy="896.5" rx="6.1" ry="3.6" fill="#8a8a8a" opacity="0.95"/>
<ellipse cx="448.6" cy="897.6" rx="6.1" ry="3.7" fill="#8a8a8a" opacity="0.95"/>
<ellipse cx="452.1" cy="896.2" rx="3.8" ry="2.3" fill="#a6a6a6" opacity="0.75"/>
<ellipse cx="290.7" cy="757.5" rx="6.4" ry="5.7" fill="#8a8a8a" opacity="0.95"/>
<ellipse cx="288.5" cy="759.0" rx="6.1" ry="5.4" fill="#8a8a8a" opacity="0.95"/>
<ellipse cx="290.9" cy="755.7" rx="4.7" ry="4.2" fill="#8a8a8a" opacity="0.95"/>
<ellipse cx="291.6" cy="757.5" rx="6.1" ry="5.4" fill="#8a8a8a" opacity="0.95"/>
<ellipse cx="288.9" cy="756.2" rx="5.6" ry="4.9" fill="#8a8a8a" opacity="0.95"/>
<ellipse cx="288.6" cy="759.0" rx="4.8" ry="4.2" fill="#8a8a8a" opacity="0.95"/>
<ellipse cx="290.3" cy="757.4" rx="3.2" ry="2.9" fill="#a6a6a6" opacity="0.75"/>
<ellipse cx="134.1" cy="746.7" rx="4.6" ry="5.5" fill="#8a8a8a" opacity="0.95"/>
<ellipse cx="134.8" cy="751.4" rx="5.6" ry="6.6" fill="#8a8a8a" opacity="0.95"/>
<ellipse cx="135.2" cy="746.0" rx="4.2" ry="5.0" fill="#8a8a8a" opacity="0.95"/>
<ellipse cx="131.9" cy="748.6" rx="4.1" ry="4.8" fill="#8a8a8a" opacity="0.95"/>
<ellipse cx="131.7" cy="746.8" rx="4.2" ry="5.0" fill="#8a8a8a" opacity="0.95"/>
<ellipse cx="133.4" cy="749.8" rx="2.8" ry="3.3" fill="#a6a6a6" opacity="0.75"/>
<ellipse cx="341.8" cy="716.0" rx="3.6" ry="4.9" fill="#8a8a8a" opacity="0.95"/>
<ellipse cx="340.1" cy="715.4" rx="4.3" ry="5.9" fill="#8a8a8a" opacity="0.95"/>
<ellipse cx="342.7" cy="719.0" rx="4.3" ry="5.9" fill="#8a8a8a" opacity="0.95"/>
<ellipse cx="338.7" cy="717.6" rx="4.3" ry="5.9" fill="#8a8a8a" opacity="0.95"/>
<ellipse cx="341.8" cy="716.5" rx="3.7" ry="5.1" fill="#8a8a8a" opacity="0.95"/>
<ellipse cx="340.1" cy="719.0" rx="2.4" ry="3.3" fill="#a6a6a6" opacity="0.75"/>
<ellipse cx="197.7" cy="749.4" rx="8.2" ry="6.8" fill="#8a8a8a" opacity="0.95"/>
<ellipse cx="198.4" cy="750.5" rx="7.1" ry="5.9" fill="#8a8a8a" opacity="0.95"/>
<ellipse cx="201.5" cy="748.3" rx="8.2" ry="6.8" fill="#8a8a8a" opacity="0.95"/>
<ellipse cx="197.5" cy="747.8" rx="8.2" ry="6.8" fill="#8a8a8a" opacity="0.95"/>
<ellipse cx="197.5" cy="746.0" rx="6.4" ry="5.3" fill="#8a8a8a" opacity="0.95"/>
<ellipse cx="200.4" cy="745.3" rx="6.9" ry="5.7" fill="#8a8a8a" opacity="0.95"/>
<ellipse cx="201.8" cy="747.8" rx="3.9" ry="3.3" fill="#a6a6a6" opacity="0.75"/>
<ellipse cx="229.0" cy="1003.6" rx="6.2" ry="5.8" fill="#8a8a8a" opacity="0.95"/>
<ellipse cx="227.6" cy="1001.0" rx="6.9" ry="6.4" fill="#8a8a8a" opacity="0.95"/>
<ellipse cx="228.9" cy="1003.5" rx="4.8" ry="4.5" fill="#8a8a8a" opacity="0.95"/>
<ellipse cx="224.9" cy="1003.3" rx="6.6" ry="6.1" fill="#8a8a8a" opacity="0.95"/>
<ellipse cx="229.5" cy="1005.0" rx="4.8" ry="4.5" fill="#8a8a8a" opacity="0.95"/>
<ellipse cx="226.1" cy="1001.5" rx="5.4" ry="5.1" fill="#8a8a8a" opacity="0.95"/>
<ellipse cx="225.5" cy="1003.5" rx="3.2" ry="3.0" fill="#a6a6a6" opacity="0.75"/>
<ellipse cx="201.6" cy="997.9" rx="5.8" ry="5.6" fill="#8a8a8a" opacity="0.95"/>
<ellipse cx="196.1" cy="993.6" rx="6.2" ry="6.0" fill="#8a8a8a" opacity="0.95"/>
<ellipse cx="201.9" cy="992.4" rx="5.6" ry="5.5" fill="#8a8a8a" opacity="0.95"/>
<ellipse cx="196.8" cy="998.9" rx="5.3" ry="5.2" fill="#8a8a8a" opacity="0.95"/>
<ellipse cx="196.6" cy="996.6" rx="7.4" ry="7.2" fill="#8a8a8a" opacity="0.95"/>
<ellipse cx="201.2" cy="997.8" rx="6.8" ry="6.7" fill="#8a8a8a" opacity="0.95"/>
<ellipse cx="200.0" cy="992.9" rx="3.5" ry="3.4" fill="#a6a6a6" opacity="0.75"/>
<ellipse cx="254.0" cy="729.8" rx="5.3" ry="4.5" fill="#8a8a8a" opacity="0.95"/>
<ellipse cx="251.3" cy="728.9" rx="5.3" ry="4.4" fill="#8a8a8a" opacity="0.95"/>
<ellipse cx="251.6" cy="729.0" rx="5.1" ry="4.3" fill="#8a8a8a" opacity="0.95"/>
<ellipse cx="249.7" cy="730.2" rx="4.9" ry="4.1" fill="#8a8a8a" opacity="0.95"/>
<ellipse cx="252.7" cy="729.2" rx="4.6" ry="3.9" fill="#8a8a8a" opacity="0.95"/>
<ellipse cx="249.9" cy="731.8" rx="2.6" ry="2.2" fill="#a6a6a6" opacity="0.75"/>
<ellipse cx="232.3" cy="876.4" rx="3.5" ry="4.4" fill="#8a8a8a" opacity="0.95"/>
<ellipse cx="230.0" cy="879.3" rx="3.6" ry="4.5" fill="#8a8a8a" opacity="0.95"/>
<ellipse cx="232.8" cy="883.5" rx="4.8" ry="6.1" fill="#8a8a8a" opacity="0.95"/>
<ellipse cx="232.1" cy="883.3" rx="4.5" ry="5.7" fill="#8a8a8a" opacity="0.95"/>
<ellipse cx="230.2" cy="881.7" rx="3.8" ry="4.8" fill="#8a8a8a" opacity="0.95"/>
<ellipse cx="230.8" cy="877.4" rx="2.4" ry="3.0" fill="#a6a6a6" opacity="0.75"/>
<ellipse cx="242.5" cy="777.5" rx="7.2" ry="5.4" fill="#8a8a8a" opacity="0.95"/>
<ellipse cx="241.6" cy="779.5" rx="6.0" ry="4.5" fill="#8a8a8a" opacity="0.95"/>
<ellipse cx="244.2" cy="777.6" rx="6.8" ry="5.1" fill="#8a8a8a" opacity="0.95"/>
<ellipse cx="244.5" cy="777.4" rx="7.0" ry="5.3" fill="#8a8a8a" opacity="0.95"/>
<ellipse cx="246.4" cy="780.2" rx="7.4" ry="5.6" fill="#8a8a8a" opacity="0.95"/>
<ellipse cx="245.3" cy="780.5" rx="5.3" ry="3.9" fill="#8a8a8a" opacity="0.95"/>
<ellipse cx="245.7" cy="777.6" rx="3.7" ry="2.7" fill="#a6a6a6" opacity="0.75"/>
<ellipse cx="234.2" cy="838.6" rx="7.0" ry="4.4" fill="#8a8a8a" opacity="0.95"/>
<ellipse cx="233.9" cy="838.4" rx="5.0" ry="3.2" fill="#8a8a8a" opacity="0.95"/>
<ellipse cx="237.9" cy="835.8" rx="6.5" ry="4.1" fill="#8a8a8a" opacity="0.95"/>
<ellipse cx="238.5" cy="836.4" rx="6.8" ry="4.2" fill="#8a8a8a" opacity="0.95"/>
<ellipse cx="238.8" cy="836.5" rx="5.0" ry="3.2" fill="#8a8a8a" opacity="0.95"/>
<ellipse cx="240.2" cy="836.2" rx="5.5" ry="3.4" fill="#8a8a8a" opacity="0.95"/>
<ellipse cx="234.7" cy="837.3" rx="3.5" ry="2.2" fill="#a6a6a6" opacity="0.75"/>
<ellipse cx="386.6" cy="963.8" rx="3.6" ry="4.7" fill="#8a8a8a" opacity="0.95"/>
<ellipse cx="385.4" cy="963.6" rx="4.2" ry="5.5" fill="#8a8a8a" opacity="0.95"/>
<ellipse cx="384.5" cy="965.7" rx="4.1" ry="5.4" fill="#8a8a8a" opacity="0.95"/>
<ellipse cx="386.8" cy="965.9" rx="5.0" ry="6.5" fill="#8a8a8a" opacity="0.95"/>
<ellipse cx="384.8" cy="960.9" rx="4.1" ry="5.4" fill="#8a8a8a" opacity="0.95"/>
<ellipse cx="385.0" cy="962.0" rx="2.4" ry="3.1" fill="#a6a6a6" opacity="0.75"/>
<ellipse cx="255.9" cy="871.7" rx="4.7" ry="4.3" fill="#8a8a8a" opacity="0.95"/>
<ellipse cx="253.1" cy="869.0" rx="4.6" ry="4.2" fill="#8a8a8a" opacity="0.95"/>
<ellipse cx="254.3" cy="868.8" rx="5.0" ry="4.5" fill="#8a8a8a" opacity="0.95"/>
<ellipse cx="254.5" cy="869.8" rx="4.5" ry="4.1" fill="#8a8a8a" opacity="0.95"/>
<ellipse cx="252.5" cy="869.2" rx="4.6" ry="4.2" fill="#8a8a8a" opacity="0.95"/>
<ellipse cx="253.8" cy="869.9" rx="2.4" ry="2.2" fill="#a6a6a6" opacity="0.75"/>
<ellipse cx="190.0" cy="1001.9" rx="5.1" ry="5.9" fill="#8a8a8a" opacity="0.95"/>
<ellipse cx="190.9" cy="998.6" rx="4.9" ry="5.6" fill="#8a8a8a" opacity="0.95"/>
<ellipse cx="191.7" cy="998.4" rx="4.0" ry="4.6" fill="#8a8a8a" opacity="0.95"/>
<ellipse cx="189.2" cy="998.9" rx="4.1" ry="4.8" fill="#8a8a8a" opacity="0.95"/>
<ellipse cx="190.5" cy="1001.3" rx="4.1" ry="4.8" fill="#8a8a8a" opacity="0.95"/>
<ellipse cx="190.3" cy="998.2" rx="2.7" ry="3.1" fill="#a6a6a6" opacity="0.75"/>
<ellipse cx="449.3" cy="995.8" rx="6.2" ry="5.4" fill="#8a8a8a" opacity="0.95"/>
<ellipse cx="447.8" cy="994.3" rx="6.1" ry="5.4" fill="#8a8a8a" opacity="0.95"/>
<ellipse cx="448.1" cy="996.4" rx="4.2" ry="3.7" fill="#8a8a8a" opacity="0.95"/>
<ellipse cx="449.3" cy="996.6" rx="5.7" ry="5.1" fill="#8a8a8a" opacity="0.95"/>
<ellipse cx="443.5" cy="996.1" rx="5.1" ry="4.5" fill="#8a8a8a" opacity="0.95"/>
<ellipse cx="448.9" cy="996.3" rx="2.9" ry="2.6" fill="#a6a6a6" opacity="0.75"/>
<ellipse cx="307.0" cy="938.4" rx="4.4" ry="5.4" fill="#8a8a8a" opacity="0.95"/>
<ellipse cx="305.6" cy="940.1" rx="4.0" ry="4.9" fill="#8a8a8a" opacity="0.95"/>
<ellipse cx="307.5" cy="942.2" rx="3.8" ry="4.6" fill="#8a8a8a" opacity="0.95"/>
<ellipse cx="306.9" cy="938.4" rx="4.8" ry="5.9" fill="#8a8a8a" opacity="0.95"/>
<ellipse cx="307.3" cy="938.0" rx="5.0" ry="6.0" fill="#8a8a8a" opacity="0.95"/>
<ellipse cx="307.8" cy="937.9" rx="2.5" ry="3.1" fill="#a6a6a6" opacity="0.75"/>
<ellipse cx="403.1" cy="964.7" rx="4.0" ry="5.5" fill="#8a8a8a" opacity="0.95"/>
<ellipse cx="401.0" cy="966.1" rx="4.4" ry="6.0" fill="#8a8a8a" opacity="0.95"/>
<ellipse cx="403.5" cy="969.2" rx="5.1" ry="7.0" fill="#8a8a8a" opacity="0.95"/>
<ellipse cx="400.9" cy="966.6" rx="4.4" ry="6.0" fill="#8a8a8a" opacity="0.95"/>
<ellipse cx="399.6" cy="968.1" rx="3.7" ry="5.2" fill="#8a8a8a" opacity="0.95"/>
<ellipse cx="400.4" cy="967.3" rx="2.4" ry="3.4" fill="#a6a6a6" opacity="0.75"/>
<ellipse cx="163.0" cy="791.5" rx="5.3" ry="5.3" fill="#8a8a8a" opacity="0.95"/>
<ellipse cx="159.6" cy="791.5" rx="5.5" ry="5.5" fill="#8a8a8a" opacity="0.95"/>
<ellipse cx="161.9" cy="789.2" rx="5.0" ry="5.0" fill="#8a8a8a" opacity="0.95"/>
<ellipse cx="157.6" cy="793.5" rx="5.0" ry="4.9" fill="#8a8a8a" opacity="0.95"/>
<ellipse cx="159.0" cy="791.6" rx="6.4" ry="6.4" fill="#8a8a8a" opacity="0.95"/>
<ellipse cx="158.6" cy="790.4" rx="6.8" ry="6.8" fill="#8a8a8a" opacity="0.95"/>
<ellipse cx="159.1" cy="791.0" rx="3.3" ry="3.3" fill="#a6a6a6" opacity="0.75"/>
<ellipse cx="241.4" cy="990.5" rx="4.8" ry="3.7" fill="#8a8a8a" opacity="0.95"/>
<ellipse cx="245.4" cy="991.2" rx="5.2" ry="4.1" fill="#8a8a8a" opacity="0.95"/>
<ellipse cx="246.3" cy="987.7" rx="5.4" ry="4.2" fill="#8a8a8a" opacity="0.95"/>
<ellipse cx="241.3" cy="989.5" rx="5.9" ry="4.6" fill="#8a8a8a" opacity="0.95"/>
<ellipse cx="242.1" cy="990.4" rx="6.0" ry="4.7" fill="#8a8a8a" opacity="0.95"/>
<ellipse cx="243.1" cy="990.7" rx="4.9" ry="3.8" fill="#8a8a8a" opacity="0.95"/>
<ellipse cx="244.8" cy="991.5" rx="3.2" ry="2.5" fill="#a6a6a6" opacity="0.75"/>
<ellipse cx="236.6" cy="735.8" rx="4.6" ry="4.3" fill="#8a8a8a" opacity="0.95"/>
<ellipse cx="236.1" cy="733.6" rx="4.4" ry="4.0" fill="#8a8a8a" opacity="0.95"/>
<ellipse cx="237.1" cy="733.3" rx="3.8" ry="3.5" fill="#8a8a8a" opacity="0.95"/>
<ellipse cx="237.3" cy="731.4" rx="3.7" ry="3.4" fill="#8a8a8a" opacity="0.95"/>
<ellipse cx="239.3" cy="735.3" rx="4.1" ry="3.8" fill="#8a8a8a" opacity="0.95"/>
<ellipse cx="238.0" cy="731.9" rx="2.5" ry="2.3" fill="#a6a6a6" opacity="0.75"/>
</g>
<ellipse cx="210.4" cy="839.8" rx="6.9" ry="10.7" fill="#262626" filter="url(#bl3)" opacity="0.9"/>
<ellipse cx="235.5" cy="741.0" rx="8.8" ry="5.6" fill="#262626" filter="url(#bl3)" opacity="0.9"/>
<ellipse cx="172.8" cy="745.7" rx="9.4" ry="7.8" fill="#262626" filter="url(#bl3)" opacity="0.9"/>
<ellipse cx="266.9" cy="808.5" rx="12.6" ry="7.8" fill="#262626" filter="url(#bl3)" opacity="0.9"/>
<ellipse cx="153.9" cy="830.4" rx="9.4" ry="6.9" fill="#262626" filter="url(#bl3)" opacity="0.9"/>
<ellipse cx="361.0" cy="821.0" rx="12.6" ry="9.4" fill="#262626" filter="url(#bl3)" opacity="0.9"/>
<ellipse cx="329.6" cy="899.5" rx="12.6" ry="9.4" fill="#262626" filter="url(#bl3)" opacity="0.9"/>
<ellipse cx="229.2" cy="946.5" rx="12.6" ry="8.8" fill="#262626" filter="url(#bl3)" opacity="0.9"/>
<ellipse cx="379.8" cy="664.1" rx="12.6" ry="15.7" fill="#262626" filter="url(#bl3)" opacity="0.9"/>
<ellipse cx="335.9" cy="673.5" rx="9.4" ry="7.5" fill="#262626" filter="url(#bl3)" opacity="0.9"/>
<ellipse cx="157.1" cy="930.8" rx="9.4" ry="7.8" fill="#262626" filter="url(#bl3)" opacity="0.9"/>
<ellipse cx="260.6" cy="673.5" rx="12.6" ry="7.8" fill="#262626" filter="url(#bl3)" opacity="0.9"/>
<g filter="url(#bl1)">
<path d="M588,853Q586,847 583,841M674,964Q674,954 684,950M592,878Q594,889 604,889M569,955Q578,948 589,947M675,989Q677,985 675,980M588,872Q581,871 579,877M576,868Q567,869 560,874M587,873Q590,870 591,865M541,908Q533,901 525,908M658,876Q650,875 648,868M692,833Q690,841 689,848M498,863Q495,851 503,842M588,831Q585,838 591,840M556,867Q557,873 563,872M649,977Q647,966 653,958M525,870Q525,875 529,878M595,828Q602,825 602,818M647,946Q636,945 628,939M613,872Q613,877 613,881M515,839Q507,840 507,848M594,963Q585,961 579,953M574,878Q583,874 584,865M553,851Q548,850 546,846M490,876Q489,881 493,886M615,872Q611,883 620,890M514,923Q513,914 512,905M678,929Q688,929 693,938M590,915Q588,911 589,906M592,912Q587,921 585,930M620,933Q619,940 618,946M619,932Q614,933 610,935M531,843Q541,844 552,846M552,831Q557,835 559,841M686,839Q686,832 682,827M493,864Q497,859 502,856M544,905Q547,912 553,917M645,904Q653,897 647,889M622,833Q616,828 614,820M637,886Q633,879 625,875M690,942Q682,935 685,925M622,928Q620,923 622,919M595,912Q596,903 597,894M693,899Q701,895 709,898M644,983Q646,979 645,974M606,955Q612,963 618,971M622,941Q632,933 629,920" fill="none" stroke="#1f1f1f" stroke-width="4.0" stroke-linecap="round"/>
<path d="M502,896Q520,898 533,885M561,952Q558,941 550,932M677,943Q660,944 643,944M631,918Q636,915 642,915M597,833Q602,827 610,827M553,959Q550,952 546,945M683,904Q685,913 682,922M488,846Q482,850 483,858M693,884Q689,891 689,900M593,845Q599,857 590,868M659,843Q661,833 661,823M678,878Q691,895 710,887M581,827Q589,829 597,825M649,959Q647,964 645,969M686,975Q693,975 700,974M555,840Q544,839 535,837M556,981Q547,989 548,1001M542,895Q536,902 542,908M624,912Q618,900 611,889M568,850Q573,853 576,858M491,937Q495,945 492,955M596,860Q582,875 565,864M507,972Q499,982 501,995M498,972Q478,965 482,944M581,963Q590,973 587,987M502,912Q494,909 489,916M684,907Q684,926 704,928M677,905Q658,916 667,935M559,978Q575,978 586,966M504,872Q518,869 526,858M497,883Q506,889 506,899M601,887Q590,885 587,896M618,949Q632,965 650,956M509,858Q513,844 510,830M592,944Q601,952 599,963M513,832Q527,822 544,822M578,872Q564,882 549,873M681,978Q676,983 670,981M627,885Q623,892 622,901M598,906Q583,897 572,910M584,956Q574,943 560,933M660,943Q656,951 647,950M493,939Q501,948 492,957M493,936Q483,937 476,943M686,941Q693,936 701,940M615,932Q622,928 628,921M643,849Q636,862 636,878M649,879Q638,882 641,893M631,903Q620,897 618,884M505,844Q502,828 485,830M623,966Q607,969 590,967M591,887Q573,890 566,874M696,912Q684,906 669,904M614,845Q611,839 612,832M516,960Q514,946 519,932M517,951Q516,942 510,937M548,826Q553,815 554,803M702,863Q689,867 677,874M554,864Q551,849 536,849M620,908Q609,900 602,889M546,938Q557,934 565,942M566,939Q553,931 541,940M559,884Q551,872 547,858M682,830Q696,827 696,813M530,958Q539,950 551,949M633,931Q627,948 615,960M516,938Q516,931 522,929M530,982Q527,971 531,960M541,886Q534,907 553,918M680,938Q686,929 678,921M617,862Q630,861 641,855M521,859Q537,851 545,867M570,868Q579,874 589,878M635,878Q625,869 612,874M614,931Q610,916 624,910M513,968Q528,981 543,969M621,966Q619,983 602,985M655,942Q656,953 652,964M692,902Q700,908 707,901M527,858Q517,868 506,876M637,871Q647,881 644,894M607,896Q607,917 627,921M545,882Q537,886 540,894M567,963Q552,951 556,932M582,853Q583,863 574,867M636,912Q642,920 636,929M513,898Q507,900 502,896M656,870Q675,877 685,859M538,978Q545,971 554,964M606,868Q589,872 587,889M642,896Q643,902 641,907M569,922Q563,919 559,924M696,939Q693,920 675,923M660,901Q671,898 681,893M619,876Q605,866 593,878M706,989Q725,980 737,998M562,962Q571,974 561,985M543,847Q538,840 542,833M525,928Q530,923 531,916M679,945Q680,959 676,972M571,890Q553,888 542,903M626,840Q621,832 612,833M539,867Q530,871 521,872M690,926Q685,933 680,940M523,890Q524,883 517,881M684,924Q675,919 666,917M527,915Q532,925 534,935M670,931Q669,940 672,949M609,875Q598,879 591,887M679,887Q670,879 658,878M541,867Q547,883 561,892M545,907Q552,916 546,927M697,832Q694,826 696,819M531,953Q529,971 540,986M575,990Q587,985 594,975M517,898Q534,903 532,921M704,977Q714,987 728,987M703,954Q690,956 678,964M690,908Q689,916 697,917M643,979Q647,985 653,988M582,902Q587,895 583,886M646,896Q638,904 629,910M559,903Q553,883 570,872M634,960Q646,961 648,949M504,929Q494,930 485,933M675,929Q666,945 676,961M574,856Q557,856 548,842M683,907Q695,901 709,904M607,916Q600,906 590,912M640,870Q628,863 620,852M634,888Q617,890 612,906M553,854Q555,865 566,867M705,894Q714,893 717,884M542,876Q554,880 556,892M575,846Q568,844 564,837M687,984Q679,995 683,1009M562,969Q563,957 555,950M641,949Q648,955 652,964M697,832Q695,840 691,848M678,854Q684,853 690,856M646,900Q633,903 621,898M577,833Q562,818 573,800M533,954Q538,943 532,932M520,961Q522,969 530,972M666,876Q661,866 664,857M585,989Q593,991 597,984M705,866Q700,874 692,872M689,920Q674,920 659,921M696,847Q702,841 706,834M658,989Q652,975 636,971" fill="none" stroke="#a8a8a8" stroke-width="1.4" stroke-linecap="round"/>
<path d="M604,862Q612,858 620,854M495,931Q483,919 472,907M588,929Q574,920 563,931M681,954Q670,942 676,927M595,870Q601,864 609,865M666,963Q676,958 685,966M629,942Q618,942 614,931M631,954Q619,947 605,943M489,870Q501,866 507,878M697,938Q700,924 688,916M626,896Q638,903 646,892M521,960Q510,968 507,981M548,948Q533,951 528,936M685,983Q675,995 677,1010M514,916Q505,921 496,919M504,897Q510,903 511,911M515,830Q527,848 547,841M580,846Q569,854 559,845M606,827Q610,817 602,811M527,893Q532,913 514,923M542,968Q544,956 533,952M624,858Q619,868 614,878M622,986Q609,977 596,985M599,858Q604,872 595,884M573,906Q566,906 566,914M599,886Q596,876 593,866M576,921Q572,914 570,906M642,883Q646,895 650,907M595,829Q588,827 583,832M665,964Q677,953 694,958M521,849Q532,860 532,876M519,975Q518,983 520,990M641,832Q630,829 618,828M601,957Q606,942 620,934M497,903Q494,899 491,895M651,963Q642,951 641,937M646,931Q651,925 657,920M604,858Q588,854 574,863M672,911Q661,920 648,917M662,977Q668,978 673,979M506,898Q501,907 507,916M615,977Q608,981 604,987M656,896Q650,900 646,906M699,933Q704,919 714,907M598,963Q592,978 576,979M648,874Q644,882 647,890M629,980Q616,972 605,982M519,923Q520,943 502,952M513,831Q497,830 490,845M670,830Q673,839 669,848" fill="none" stroke="#d6d6d6" stroke-width="1.2" stroke-linecap="round"/>
</g>
<rect x="371.4" y="593.5" width="324.8" height="227.5" fill="#4b4b4b" />
<g filter="url(#bl1)">
<ellipse cx="394.0" cy="629.6" rx="14.1" ry="12.6" fill="#9a9a9a" filter="url(#bl2)"/>
<ellipse cx="390.8" cy="770.8" rx="15.7" ry="12.6" fill="#a0a0a0" filter="url(#bl2)"/>
<ellipse cx="671.7" cy="613.9" rx="12.6" ry="14.1" fill="#777" filter="url(#bl3)"/>
<ellipse cx="674.8" cy="654.7" rx="7.8" ry="9.4" fill="#777" filter="url(#bl3)"/>
<ellipse cx="392.4" cy="701.8" rx="18.8" ry="37.7" fill="#303030" filter="url(#bl3)"/>
<ellipse cx="662.2" cy="758.3" rx="25.1" ry="47.1" fill="#3a3a3a" filter="url(#bl3)"/>
<ellipse cx="423.8" cy="802.2" rx="47.1" ry="15.7" fill="#333" filter="url(#bl3)"/>
<path d="M388,655Q382,656 376,659M681,624Q684,620 690,619M545,665Q555,663 563,657M408,679Q398,679 392,672M501,614Q503,608 507,602M522,637Q516,643 507,646M617,664Q615,659 611,657M396,674Q385,675 375,673M419,662Q428,660 433,654M676,687Q675,691 672,694M397,619Q400,606 413,606M405,807Q406,813 401,817M443,608Q438,600 446,594M530,629Q542,630 546,618M543,631Q549,640 559,639M471,788Q471,782 471,776M453,704Q456,711 461,716M543,748Q535,747 533,740M540,652Q547,659 546,669M401,664Q408,671 403,680M653,667Q647,667 645,673M608,791Q604,797 600,804M397,744Q409,745 414,734M578,770Q571,771 567,765M667,709Q672,710 677,708M445,779Q443,768 432,767M476,660Q476,668 481,675M526,643Q528,648 531,652M660,768Q653,759 642,760M481,679Q478,689 480,699M553,612Q562,607 558,597M508,790Q512,789 515,785M628,695Q628,686 635,681M436,759Q436,769 438,779M535,667Q528,675 531,686M506,632Q519,636 519,649M388,675Q388,681 393,682M457,751Q463,746 468,752M417,801Q423,808 417,816M576,668Q570,668 566,672M484,719Q477,722 474,715M662,796Q655,799 647,799M609,723Q601,728 592,729M601,639Q605,646 602,652M644,667Q651,677 662,672M523,757Q521,752 516,752M468,621Q472,615 470,608M399,669Q405,682 394,690M646,773Q647,765 641,760M636,641Q647,642 652,633M540,684Q551,690 561,683M535,789Q524,796 515,788M567,630Q561,627 556,624M577,773Q564,780 569,793M478,675Q488,673 497,672M623,775Q623,766 614,766M386,628Q376,625 367,619M623,695Q618,697 617,703M576,705Q580,702 584,705M465,767Q458,758 457,747" fill="none" stroke="#1c1c1c" stroke-width="5.0" stroke-linecap="round"/>
<path d="M590,741Q595,728 597,714M540,656Q562,655 567,677M562,611Q570,628 575,645M474,703Q477,717 483,730M645,633Q654,639 651,650M414,802Q430,820 452,812M550,645Q560,661 578,670M573,748Q576,757 584,763M482,728Q496,739 514,735M646,686Q630,693 633,711M465,622Q452,625 440,631M460,796Q446,800 440,813M421,794Q421,812 419,830M421,768Q415,741 388,745M525,783Q540,774 556,767M533,609Q548,622 566,629M556,638Q563,652 549,659M507,681Q516,662 497,651M620,655Q623,639 610,628M445,671Q428,680 433,698M511,750Q520,751 522,741M643,673Q659,657 678,669M429,741Q446,758 468,748M570,701Q562,701 554,700M460,790Q464,806 476,818M555,798Q559,772 585,773M512,634Q521,651 541,650M559,736Q579,728 585,708M562,716Q576,711 588,721M577,688Q581,677 590,668M586,770Q584,788 589,805M523,725Q529,730 529,738M599,766Q590,760 581,752M540,657Q553,663 561,652M440,626Q422,628 406,639M556,728Q556,751 577,759M474,617Q464,610 453,616M550,805Q543,810 538,817M553,747Q559,761 574,763M602,616Q619,624 637,618M561,664Q558,671 560,678M539,772Q531,769 527,760M422,641Q432,643 430,653M645,677Q631,684 616,693M472,799Q482,802 489,795M618,622Q610,604 596,589M547,695Q569,710 586,690M445,713Q440,732 458,741M592,627Q594,614 583,608M651,659Q633,654 620,641M469,624Q465,631 457,629M460,669Q466,675 465,684M645,690Q634,674 617,683M609,796Q622,776 607,759M491,729Q498,720 510,719M651,651Q652,640 650,630M463,628Q467,646 473,663M612,703Q609,720 625,725M556,741Q550,731 550,719M454,676Q465,664 476,651M570,797Q583,788 599,793M621,759Q604,759 597,743M415,608Q398,616 386,630M517,786Q503,794 495,809M463,799Q470,795 477,790M447,808Q439,802 439,792M443,767Q462,761 472,744M565,634Q551,649 547,670M418,668Q405,672 391,672M503,606Q503,625 485,629M500,742Q492,761 471,758M561,727Q573,721 587,722M537,608Q544,614 542,623M453,624Q437,615 421,605M546,661Q542,643 543,625M417,602Q410,596 415,589M519,710Q506,718 513,732M640,760Q655,761 666,752M467,631Q474,634 480,641M557,645Q554,652 550,657M622,788Q610,805 620,823M479,724Q479,738 482,751M474,768Q471,758 478,750M413,693Q395,686 389,666M533,671Q539,688 525,701M651,610Q650,618 644,624M544,705Q551,700 552,691M455,637Q448,634 440,636M584,651Q598,640 614,630M440,638Q453,648 470,651M583,606Q585,614 584,622M615,769Q627,771 638,771M458,662Q458,682 449,699M573,797Q568,791 561,790M442,623Q432,630 430,641M644,740Q656,751 668,740M517,700Q525,711 538,716M582,701Q596,696 606,686M577,787Q557,776 545,795M638,618Q635,643 658,653M565,765Q570,777 560,786M441,625Q445,618 448,610M617,808Q614,823 628,830M438,709Q457,716 464,734M568,622Q569,604 567,586M598,631Q579,630 563,622M607,697Q599,693 602,685M546,647Q534,649 526,659M564,675Q558,665 568,657M551,754Q568,744 581,759M565,766Q581,771 595,763M514,802Q522,806 528,814M418,720Q420,734 428,745M524,748Q535,734 534,715M435,722Q444,735 446,751M536,658Q536,666 533,672M597,808Q621,810 625,786M534,731Q537,724 532,719M494,729Q501,725 508,724M521,648Q538,640 556,637M537,662Q533,643 514,640M416,707Q434,715 454,713M502,626Q510,618 521,621M525,783Q532,786 540,785M561,609Q566,592 565,574M470,795Q479,796 488,795M629,716Q642,709 656,705M486,804Q490,828 514,833M594,646Q600,655 611,652M431,777Q447,762 465,774M606,619Q605,610 614,606M588,808Q572,805 565,820M564,808Q554,826 534,818M625,760Q619,754 620,745M517,635Q509,633 503,638M582,780Q572,761 581,742M597,755Q604,762 612,757M453,784Q435,792 419,803M429,618Q410,611 403,593M457,618Q470,636 453,651M609,667Q600,666 593,661M537,698Q536,711 535,725M641,646Q629,650 618,651M493,733Q506,747 516,764M646,602Q636,613 625,625M586,655Q586,646 577,645M520,798Q519,784 509,774M595,738Q584,724 588,708M623,729Q611,722 605,710M469,793Q462,799 458,807M530,621Q524,610 532,601M527,625Q534,623 541,623M524,617Q516,609 507,615M636,685Q630,700 641,711M445,666Q450,657 443,648M517,671Q527,690 548,693M488,792Q499,789 501,778M486,644Q499,653 513,658M485,741Q479,736 480,727M549,753Q542,759 542,768M577,788Q573,794 567,797M623,706Q630,714 635,724M493,606Q502,594 515,587M519,786Q541,790 557,776M455,677Q465,669 462,657M608,634Q617,630 626,633M554,691Q570,701 586,692M629,747Q620,739 622,727M596,769Q602,755 596,740M596,791Q614,788 624,773" fill="none" stroke="#a4a4a4" stroke-width="1.6" stroke-linecap="round"/>
<path d="M448,649Q455,669 476,667M571,638Q558,624 564,606M498,734Q491,719 475,721M493,765Q502,750 514,737M479,702Q466,697 468,684M488,630Q485,636 483,644M585,680Q569,665 552,681M496,671Q500,664 500,656M616,702Q613,721 632,728M446,647Q455,670 478,662M625,625Q638,617 631,604M537,775Q527,764 536,752M559,651Q570,668 553,680M519,654Q531,653 543,655M474,677Q473,664 473,651M515,664Q507,652 513,638M456,738Q457,729 457,720M449,674Q463,662 467,645M625,790Q636,779 647,768M605,664Q624,673 640,660M618,735Q625,749 640,753M448,773Q465,768 471,751M486,720Q496,714 502,704M511,741Q498,732 491,718M561,715Q565,723 559,729M531,633Q512,634 506,617M568,753Q567,747 567,740M606,776Q602,761 614,751M575,738Q563,750 547,747M505,643Q502,629 493,618M585,664Q592,653 593,639M466,664Q458,672 458,682M505,650Q497,629 474,634M515,635Q518,625 527,627M446,720Q457,719 467,725M546,643Q546,653 546,664M604,718Q597,698 617,691M451,759Q436,757 430,771M481,699Q464,687 473,668M482,766Q465,766 461,783M534,770Q526,766 520,758M432,730Q431,743 421,752M512,726Q525,706 507,691M491,618Q489,608 499,605M579,789Q564,799 548,791M595,647Q588,643 583,649M625,705Q619,707 613,707M559,680Q571,676 572,663M480,710Q473,717 467,710M554,682Q537,693 520,681M579,683Q574,671 575,658M534,622Q543,627 552,631M525,651Q535,661 546,652M600,669Q598,651 596,633M491,738Q493,722 499,707M601,652Q615,636 632,648M464,734Q483,736 482,755M612,789Q625,803 643,802M518,679Q514,670 513,660M464,619Q457,620 452,625M543,785Q557,775 569,764M532,737Q537,749 544,761M520,701Q508,698 497,700M492,641Q485,623 493,605M593,753Q596,764 588,772M435,658Q452,659 468,652M621,623Q632,615 646,618M436,779Q444,763 460,768M593,717Q601,738 580,747M555,674Q564,677 564,687" fill="none" stroke="#dadada" stroke-width="1.3" stroke-linecap="round"/>
</g>
<rect x="125.7" y="582.6" width="585.2" height="442.4" filter="url(#grainw2)" opacity="0.2"/>
<rect x="125.7" y="582.6" width="585.2" height="442.4" filter="url(#graink2)" opacity="0.42"/>
</g>
<rect x="371.4" y="593.5" width="324.8" height="227.5" fill="none" stroke="#f4f4f4" stroke-width="3" />
<line x1="371.4" y1="822.0" x2="488.1" y2="998.3" stroke="#e6e23a" stroke-width="3.6" stroke-dasharray="12 6"/>
<line x1="483.4" y1="822.0" x2="483.4" y2="998.3" stroke="#e6e23a" stroke-width="3.6" stroke-dasharray="12 6"/>
<line x1="488.1" y1="998.3" x2="565.0" y2="998.3" stroke="#e6e23a" stroke-width="3.6" stroke-dasharray="12 6"/>
<line x1="704.9" y1="593.5" x2="704.9" y2="998.3" stroke="#e6e23a" stroke-width="3.6" stroke-dasharray="12 6"/>
<rect x="565.0" y="985.8" width="134.9" height="31.4" fill="#fff" />
<text class="se" font-size="38" font-weight="bold" fill="#fff" textLength="95" lengthAdjust="spacingAndGlyphs" x="583.8" y="970.7">5 μm</text>
<rect x="618.3" y="797.5" width="68.4" height="16.6" fill="#fff" />
<text class="se" font-size="13" font-weight="bold" fill="#eee" textLength="40" lengthAdjust="spacingAndGlyphs" x="630.9" y="789.0">1 μm</text>
<rect x="124.7" y="582.1" width="60.6" height="88.4" fill="#fff" />
<text class="sa" font-size="64" font-weight="bold" x="133.0" y="651.5">d</text></g>
<g id="pe"><rect x="875.6" y="630.6" width="483.4" height="335.4" fill="none" stroke="#151515" stroke-width="2.6" />
<line x1="868.6" y1="966.0" x2="875.6" y2="966.0" stroke="#151515" stroke-width="2.4" />
<line x1="871.6" y1="934.0" x2="875.6" y2="934.0" stroke="#151515" stroke-width="2.4" />
<line x1="868.6" y1="902.1" x2="875.6" y2="902.1" stroke="#151515" stroke-width="2.4" />
<line x1="871.6" y1="870.1" x2="875.6" y2="870.1" stroke="#151515" stroke-width="2.4" />
<line x1="868.6" y1="838.2" x2="875.6" y2="838.2" stroke="#151515" stroke-width="2.4" />
<line x1="871.6" y1="806.2" x2="875.6" y2="806.2" stroke="#151515" stroke-width="2.4" />
<line x1="868.6" y1="774.3" x2="875.6" y2="774.3" stroke="#151515" stroke-width="2.4" />
<line x1="871.6" y1="742.3" x2="875.6" y2="742.3" stroke="#151515" stroke-width="2.4" />
<line x1="868.6" y1="710.4" x2="875.6" y2="710.4" stroke="#151515" stroke-width="2.4" />
<line x1="871.6" y1="678.5" x2="875.6" y2="678.5" stroke="#151515" stroke-width="2.4" />
<line x1="868.6" y1="646.5" x2="875.6" y2="646.5" stroke="#151515" stroke-width="2.4" />
<line x1="915.2" y1="966.0" x2="915.2" y2="970.0" stroke="#151515" stroke-width="2.4" />
<line x1="995.8" y1="966.0" x2="995.8" y2="973.0" stroke="#151515" stroke-width="2.4" />
<line x1="1076.4" y1="966.0" x2="1076.4" y2="970.0" stroke="#151515" stroke-width="2.4" />
<line x1="1157.0" y1="966.0" x2="1157.0" y2="973.0" stroke="#151515" stroke-width="2.4" />
<line x1="1237.7" y1="966.0" x2="1237.7" y2="970.0" stroke="#151515" stroke-width="2.4" />
<line x1="1318.3" y1="966.0" x2="1318.3" y2="973.0" stroke="#151515" stroke-width="2.4" />
<text class="se" font-size="22.5" font-weight="bold" fill="#222" text-anchor="end" x="864.0" y="973.5">1.52</text>
<text class="se" font-size="22.5" font-weight="bold" fill="#222" text-anchor="end" x="864.0" y="909.6">1.56</text>
<text class="se" font-size="22.5" font-weight="bold" fill="#222" text-anchor="end" x="864.0" y="845.7">1.60</text>
<text class="se" font-size="22.5" font-weight="bold" fill="#222" text-anchor="end" x="864.0" y="781.8">1.64</text>
<text class="se" font-size="22.5" font-weight="bold" fill="#222" text-anchor="end" x="864.0" y="717.9">1.68</text>
<text class="se" font-size="22.5" font-weight="bold" fill="#222" text-anchor="end" x="864.0" y="654.0">1.72</text>
<text class="se" font-size="22.5" font-weight="bold" fill="#222" text-anchor="middle" x="995.8" y="996.0">1.2</text>
<text class="se" font-size="22.5" font-weight="bold" fill="#222" text-anchor="middle" x="1157.0" y="996.0">1.6</text>
<text class="se" font-size="22.5" font-weight="bold" fill="#222" text-anchor="middle" x="1318.3" y="996.0">2.0</text>
<text class="se" font-size="30" font-weight="bold" fill="#111" text-anchor="middle" textLength="221" lengthAdjust="spacingAndGlyphs" x="1117.0" y="1036.0">Log | <tspan font-style="italic">j</tspan> (mA cm<tspan dy="-13.50" font-size="18.00">-2</tspan><tspan dy="13.50">&#8203;</tspan>)|</text>
<text class="se" font-size="28" font-weight="bold" fill="#111" text-anchor="middle" textLength="258" lengthAdjust="spacingAndGlyphs" transform="translate(810.0 816.5) rotate(-90)">Potential (V <tspan font-style="italic">vs.</tspan> RHE)</text>
<text class="sa" font-size="58" font-weight="bold" x="777.0" y="658.0">e</text>
<line x1="896.0" y1="657.0" x2="939.0" y2="657.0" stroke="#0c9448" stroke-width="1.8" />
<circle cx="917.5" cy="657.0" r="3.2" fill="#0c9448"/>
<text class="se" font-size="23.3" font-weight="bold" fill="#222" x="945.0" y="664.5">NiOH-MOF@NF</text>
<line x1="896.0" y1="684.8" x2="939.0" y2="684.8" stroke="#f39332" stroke-width="1.8" />
<circle cx="917.5" cy="684.8" r="3.2" fill="#f39332"/>
<text class="se" font-size="23.3" font-weight="bold" fill="#222" x="945.0" y="692.3">0-1h NiFeO@NF</text>
<line x1="896.0" y1="712.6" x2="939.0" y2="712.6" stroke="#ee2a30" stroke-width="1.8" />
<circle cx="917.5" cy="712.6" r="3.2" fill="#ee2a30"/>
<text class="se" font-size="23.3" font-weight="bold" fill="#222" x="945.0" y="720.1">NiFe-LDH@NF</text>
<line x1="896.0" y1="740.4" x2="939.0" y2="740.4" stroke="#3b51a3" stroke-width="1.8" />
<circle cx="917.5" cy="740.4" r="3.2" fill="#3b51a3"/>
<text class="se" font-size="23.3" font-weight="bold" fill="#222" x="945.0" y="747.9">7.5-1h LDH-MOF@NF</text>
<line x1="896.0" y1="768.2" x2="939.0" y2="768.2" stroke="#111" stroke-width="1.8" />
<circle cx="917.5" cy="768.2" r="3.2" fill="#111"/>
<text class="se" font-size="23.3" font-weight="bold" fill="#222" x="945.0" y="775.7">RuO2@NF</text>
<polyline points="992.0,853.0 997.6,848.4 1003.2,844.0 1009.0,839.7 1014.9,835.6 1020.8,831.6 1026.9,827.8 1033.1,824.2 1039.5,820.9 1045.9,817.6 1052.3,814.5 1058.8,811.4 1065.3,808.3 1071.8,805.1 1078.2,801.9 1084.6,798.6 1091.0,795.4 1097.4,792.1 1103.8,789.0 1110.3,785.9 1116.8,782.8 1123.3,779.8 1129.9,776.8 1136.4,773.9 1143.0,771.0 1149.6,768.2 1156.2,765.4 1162.8,762.6 1169.5,759.9 1176.2,757.3 1182.8,754.6 1189.5,752.0 1196.3,749.5 1203.0,747.0" fill="none" stroke="#0c9448" stroke-width="2.0" /><g fill="#0c9448"><circle cx="992.0" cy="853.0" r="3.2"/><circle cx="997.6" cy="848.4" r="3.2"/><circle cx="1003.2" cy="844.0" r="3.2"/><circle cx="1009.0" cy="839.7" r="3.2"/><circle cx="1014.9" cy="835.6" r="3.2"/><circle cx="1020.8" cy="831.6" r="3.2"/><circle cx="1026.9" cy="827.8" r="3.2"/><circle cx="1033.1" cy="824.2" r="3.2"/><circle cx="1039.5" cy="820.9" r="3.2"/><circle cx="1045.9" cy="817.6" r="3.2"/><circle cx="1052.3" cy="814.5" r="3.2"/><circle cx="1058.8" cy="811.4" r="3.2"/><circle cx="1065.3" cy="808.3" r="3.2"/><circle cx="1071.8" cy="805.1" r="3.2"/><circle cx="1078.2" cy="801.9" r="3.2"/><circle cx="1084.6" cy="798.6" r="3.2"/><circle cx="1091.0" cy="795.4" r="3.2"/><circle cx="1097.4" cy="792.1" r="3.2"/><circle cx="1103.8" cy="789.0" r="3.2"/><circle cx="1110.3" cy="785.9" r="3.2"/><circle cx="1116.8" cy="782.8" r="3.2"/><circle cx="1123.3" cy="779.8" r="3.2"/><circle cx="1129.9" cy="776.8" r="3.2"/><circle cx="1136.4" cy="773.9" r="3.2"/><circle cx="1143.0" cy="771.0" r="3.2"/><circle cx="1149.6" cy="768.2" r="3.2"/><circle cx="1156.2" cy="765.4" r="3.2"/><circle cx="1162.8" cy="762.6" r="3.2"/><circle cx="1169.5" cy="759.9" r="3.2"/><circle cx="1176.2" cy="757.3" r="3.2"/><circle cx="1182.8" cy="754.6" r="3.2"/><circle cx="1189.5" cy="752.0" r="3.2"/><circle cx="1196.3" cy="749.5" r="3.2"/><circle cx="1203.0" cy="747.0" r="3.2"/></g>
<polyline points="917.4,898.6 924.0,896.4 930.6,894.2 937.2,892.1 943.8,889.9 950.4,887.7 956.9,885.5 963.5,883.3 970.1,881.2 976.7,879.0 983.3,876.8 989.9,874.6 996.5,872.4 1003.1,870.3 1009.7,868.1 1016.3,865.9 1022.8,863.7 1029.4,861.5 1036.0,859.3 1042.6,857.2 1049.2,855.0 1055.8,852.8 1062.4,850.6 1069.0,848.4 1075.6,846.3 1082.2,844.1 1088.7,841.9 1095.3,839.7 1101.9,837.5 1108.5,835.4 1115.1,833.2 1121.7,831.0" fill="none" stroke="#111" stroke-width="1.6" /><g fill="#111"><circle cx="917.4" cy="898.6" r="2.5"/><circle cx="924.0" cy="896.4" r="2.5"/><circle cx="930.6" cy="894.2" r="2.5"/><circle cx="937.2" cy="892.1" r="2.5"/><circle cx="943.8" cy="889.9" r="2.5"/><circle cx="950.4" cy="887.7" r="2.5"/><circle cx="956.9" cy="885.5" r="2.5"/><circle cx="963.5" cy="883.3" r="2.5"/><circle cx="970.1" cy="881.2" r="2.5"/><circle cx="976.7" cy="879.0" r="2.5"/><circle cx="983.3" cy="876.8" r="2.5"/><circle cx="989.9" cy="874.6" r="2.5"/><circle cx="996.5" cy="872.4" r="2.5"/><circle cx="1003.1" cy="870.3" r="2.5"/><circle cx="1009.7" cy="868.1" r="2.5"/><circle cx="1016.3" cy="865.9" r="2.5"/><circle cx="1022.8" cy="863.7" r="2.5"/><circle cx="1029.4" cy="861.5" r="2.5"/><circle cx="1036.0" cy="859.3" r="2.5"/><circle cx="1042.6" cy="857.2" r="2.5"/><circle cx="1049.2" cy="855.0" r="2.5"/><circle cx="1055.8" cy="852.8" r="2.5"/><circle cx="1062.4" cy="850.6" r="2.5"/><circle cx="1069.0" cy="848.4" r="2.5"/><circle cx="1075.6" cy="846.3" r="2.5"/><circle cx="1082.2" cy="844.1" r="2.5"/><circle cx="1088.7" cy="841.9" r="2.5"/><circle cx="1095.3" cy="839.7" r="2.5"/><circle cx="1101.9" cy="837.5" r="2.5"/><circle cx="1108.5" cy="835.4" r="2.5"/><circle cx="1115.1" cy="833.2" r="2.5"/><circle cx="1121.7" cy="831.0" r="2.5"/></g>
<polyline points="1162.5,846.3 1171.7,843.6 1180.8,841.0 1190.0,838.3 1199.2,835.7 1208.3,833.0 1217.5,830.4 1226.7,827.7 1235.8,825.1 1245.0,822.4 1254.1,819.8 1263.3,817.1 1272.5,814.5 1281.6,811.8 1290.8,809.2 1300.0,806.5 1309.1,803.9 1318.3,801.2" fill="none" stroke="#f39332" stroke-width="1.6" /><g fill="#f39332"><circle cx="1162.5" cy="846.3" r="2.8"/><circle cx="1171.7" cy="843.6" r="2.8"/><circle cx="1180.8" cy="841.0" r="2.8"/><circle cx="1190.0" cy="838.3" r="2.8"/><circle cx="1199.2" cy="835.7" r="2.8"/><circle cx="1208.3" cy="833.0" r="2.8"/><circle cx="1217.5" cy="830.4" r="2.8"/><circle cx="1226.7" cy="827.7" r="2.8"/><circle cx="1235.8" cy="825.1" r="2.8"/><circle cx="1245.0" cy="822.4" r="2.8"/><circle cx="1254.1" cy="819.8" r="2.8"/><circle cx="1263.3" cy="817.1" r="2.8"/><circle cx="1272.5" cy="814.5" r="2.8"/><circle cx="1281.6" cy="811.8" r="2.8"/><circle cx="1290.8" cy="809.2" r="2.8"/><circle cx="1300.0" cy="806.5" r="2.8"/><circle cx="1309.1" cy="803.9" r="2.8"/><circle cx="1318.3" cy="801.2" r="2.8"/></g>
<polyline points="1120.0,933.6 1137.5,930.4 1155.1,927.1 1172.7,923.9 1190.2,920.7 1207.8,917.5 1225.3,914.2 1242.8,911.0 1260.4,907.8 1277.9,904.6 1295.5,901.4 1313.0,898.1 1330.6,894.9" fill="none" stroke="#3b51a3" stroke-width="1.8" /><g fill="#3b51a3"><circle cx="1120.0" cy="933.6" r="3.0"/><circle cx="1137.5" cy="930.4" r="3.0"/><circle cx="1155.1" cy="927.1" r="3.0"/><circle cx="1172.7" cy="923.9" r="3.0"/><circle cx="1190.2" cy="920.7" r="3.0"/><circle cx="1207.8" cy="917.5" r="3.0"/><circle cx="1225.3" cy="914.2" r="3.0"/><circle cx="1242.8" cy="911.0" r="3.0"/><circle cx="1260.4" cy="907.8" r="3.0"/><circle cx="1277.9" cy="904.6" r="3.0"/><circle cx="1295.5" cy="901.4" r="3.0"/><circle cx="1313.0" cy="898.1" r="3.0"/><circle cx="1330.6" cy="894.9" r="3.0"/></g>
<polyline points="1118.6,947.0 1125.5,945.0 1132.5,943.0 1139.4,941.0 1146.4,939.0 1153.3,936.9 1160.2,934.9 1167.2,932.9 1174.1,930.9 1181.0,928.9 1188.0,926.9 1194.9,924.9 1201.9,922.9 1208.8,920.9 1215.7,918.9 1222.7,916.8 1229.6,914.8 1236.5,912.8 1243.5,910.8 1250.4,908.8 1257.4,906.8 1264.3,904.8 1271.2,902.8 1278.2,900.8 1285.1,898.8 1292.0,896.7 1299.0,894.7 1305.9,892.7 1312.9,890.7 1319.8,888.7" fill="none" stroke="#ee2a30" stroke-width="1.6" /><g fill="#ee2a30"><circle cx="1118.6" cy="947.0" r="2.8"/><circle cx="1125.5" cy="945.0" r="2.8"/><circle cx="1132.5" cy="943.0" r="2.8"/><circle cx="1139.4" cy="941.0" r="2.8"/><circle cx="1146.4" cy="939.0" r="2.8"/><circle cx="1153.3" cy="936.9" r="2.8"/><circle cx="1160.2" cy="934.9" r="2.8"/><circle cx="1167.2" cy="932.9" r="2.8"/><circle cx="1174.1" cy="930.9" r="2.8"/><circle cx="1181.0" cy="928.9" r="2.8"/><circle cx="1188.0" cy="926.9" r="2.8"/><circle cx="1194.9" cy="924.9" r="2.8"/><circle cx="1201.9" cy="922.9" r="2.8"/><circle cx="1208.8" cy="920.9" r="2.8"/><circle cx="1215.7" cy="918.9" r="2.8"/><circle cx="1222.7" cy="916.8" r="2.8"/><circle cx="1229.6" cy="914.8" r="2.8"/><circle cx="1236.5" cy="912.8" r="2.8"/><circle cx="1243.5" cy="910.8" r="2.8"/><circle cx="1250.4" cy="908.8" r="2.8"/><circle cx="1257.4" cy="906.8" r="2.8"/><circle cx="1264.3" cy="904.8" r="2.8"/><circle cx="1271.2" cy="902.8" r="2.8"/><circle cx="1278.2" cy="900.8" r="2.8"/><circle cx="1285.1" cy="898.8" r="2.8"/><circle cx="1292.0" cy="896.7" r="2.8"/><circle cx="1299.0" cy="894.7" r="2.8"/><circle cx="1305.9" cy="892.7" r="2.8"/><circle cx="1312.9" cy="890.7" r="2.8"/><circle cx="1319.8" cy="888.7" r="2.8"/></g>
<text class="se" font-size="22.5" font-weight="bold" fill="#0c9448" transform="translate(1093.0 820.0) rotate(-24.5)">124 mV dec<tspan dy="-10.12" font-size="13.50">-1</tspan><tspan dy="10.12">&#8203;</tspan></text>
<text class="se" font-size="22.5" font-weight="bold" fill="#333" transform="translate(975.0 911.0) rotate(-20)">83 mV dec<tspan dy="-10.12" font-size="13.50">-1</tspan><tspan dy="10.12">&#8203;</tspan></text>
<text class="se" font-size="22.5" font-weight="bold" fill="#f39332" transform="translate(1179.0 832.0) rotate(-15.5)">74 mV dec<tspan dy="-10.12" font-size="13.50">-1</tspan><tspan dy="10.12">&#8203;</tspan></text>
<text class="se" font-size="22.5" font-weight="bold" fill="#ee2a30" transform="translate(1159.0 921.0) rotate(-18)">70 mV dec<tspan dy="-10.12" font-size="13.50">-1</tspan><tspan dy="10.12">&#8203;</tspan></text>
<text class="se" font-size="22.5" font-weight="bold" fill="#3b51a3" transform="translate(1177.0 949.5) rotate(-9)">47 mV dec<tspan dy="-10.12" font-size="13.50">-1</tspan><tspan dy="10.12">&#8203;</tspan></text></g>
<g id="pf"><rect x="1456.9" y="623.5" width="509.9" height="355.5" fill="none" stroke="#151515" stroke-width="2.6" />
<line x1="1449.9" y1="979.0" x2="1456.9" y2="979.0" stroke="#151515" stroke-width="2.4" />
<line x1="1452.9" y1="928.2" x2="1456.9" y2="928.2" stroke="#151515" stroke-width="2.4" />
<line x1="1449.9" y1="877.5" x2="1456.9" y2="877.5" stroke="#151515" stroke-width="2.4" />
<line x1="1452.9" y1="826.8" x2="1456.9" y2="826.8" stroke="#151515" stroke-width="2.4" />
<line x1="1449.9" y1="776.0" x2="1456.9" y2="776.0" stroke="#151515" stroke-width="2.4" />
<line x1="1452.9" y1="725.2" x2="1456.9" y2="725.2" stroke="#151515" stroke-width="2.4" />
<line x1="1449.9" y1="674.5" x2="1456.9" y2="674.5" stroke="#151515" stroke-width="2.4" />
<line x1="1456.9" y1="979.0" x2="1456.9" y2="986.0" stroke="#151515" stroke-width="2.4" />
<line x1="1514.9" y1="979.0" x2="1514.9" y2="983.0" stroke="#151515" stroke-width="2.4" />
<line x1="1572.9" y1="979.0" x2="1572.9" y2="986.0" stroke="#151515" stroke-width="2.4" />
<line x1="1630.9" y1="979.0" x2="1630.9" y2="983.0" stroke="#151515" stroke-width="2.4" />
<line x1="1689.0" y1="979.0" x2="1689.0" y2="986.0" stroke="#151515" stroke-width="2.4" />
<line x1="1747.0" y1="979.0" x2="1747.0" y2="983.0" stroke="#151515" stroke-width="2.4" />
<line x1="1805.0" y1="979.0" x2="1805.0" y2="986.0" stroke="#151515" stroke-width="2.4" />
<line x1="1863.0" y1="979.0" x2="1863.0" y2="983.0" stroke="#151515" stroke-width="2.4" />
<line x1="1921.0" y1="979.0" x2="1921.0" y2="986.0" stroke="#151515" stroke-width="2.4" />
<text class="se" font-size="24" font-weight="bold" fill="#222" text-anchor="end" x="1446.0" y="987.0">0</text>
<text class="se" font-size="24" font-weight="bold" fill="#222" text-anchor="end" x="1446.0" y="885.5">1</text>
<text class="se" font-size="24" font-weight="bold" fill="#222" text-anchor="end" x="1446.0" y="784.0">2</text>
<text class="se" font-size="24" font-weight="bold" fill="#222" text-anchor="end" x="1446.0" y="682.5">3</text>
<text class="se" font-size="24" font-weight="bold" fill="#222" text-anchor="middle" x="1456.9" y="1010.0">0</text>
<text class="se" font-size="24" font-weight="bold" fill="#222" text-anchor="middle" x="1572.9" y="1010.0">25</text>
<text class="se" font-size="24" font-weight="bold" fill="#222" text-anchor="middle" x="1689.0" y="1010.0">50</text>
<text class="se" font-size="24" font-weight="bold" fill="#222" text-anchor="middle" x="1805.0" y="1010.0">75</text>
<text class="se" font-size="24" font-weight="bold" fill="#222" text-anchor="middle" x="1921.0" y="1010.0">100</text>
<text class="se" font-size="31" font-weight="bold" fill="#111" text-anchor="middle" textLength="240" lengthAdjust="spacingAndGlyphs" x="1713.5" y="1052.0">Scan rate (mV s<tspan dy="-13.95" font-size="18.60">-1</tspan><tspan dy="13.95">&#8203;</tspan>)</text>
<text class="se" font-size="30" font-weight="bold" fill="#111" text-anchor="middle" textLength="159" lengthAdjust="spacingAndGlyphs" transform="translate(1414.0 830.0) rotate(-90)">Δ<tspan font-style="italic">j </tspan>(mA cm<tspan dy="-13.50" font-size="18.00">-2</tspan><tspan dy="13.50">&#8203;</tspan>)</text>
<text class="sa" font-size="58" font-weight="bold" x="1396.0" y="678.5">f</text>
<circle cx="1493.6" cy="651.8" r="3.6" fill="#0c9448"/>
<text class="se" font-size="24.6" font-weight="bold" fill="#222" x="1517.0" y="659.8">NiOH-MOF@NF</text>
<circle cx="1493.6" cy="681.1" r="3.6" fill="#f39332"/>
<text class="se" font-size="24.6" font-weight="bold" fill="#222" x="1517.0" y="689.1">0-1h NiFeO@NF</text>
<circle cx="1493.6" cy="710.4" r="3.6" fill="#ee2a30"/>
<text class="se" font-size="24.6" font-weight="bold" fill="#222" x="1517.0" y="718.4">NiFe-LDH@NF</text>
<circle cx="1493.6" cy="739.7" r="3.6" fill="#3b51a3"/>
<text class="se" font-size="24.6" font-weight="bold" fill="#222" x="1517.0" y="747.7">7.5-1h LDH-MOF@NF</text>
<line x1="1528.4" y1="973.0" x2="1921.0" y2="951.0" stroke="#0c9448" stroke-width="2" />
<g fill="#0c9448"><circle cx="1528.4" cy="972.5" r="3.9"/><circle cx="1574.5" cy="969.6" r="3.9"/><circle cx="1690" cy="963" r="3.9"/><circle cx="1805.8" cy="957.7" r="3.9"/><circle cx="1921" cy="951.4" r="3.9"/></g>
<line x1="1528.4" y1="977.0" x2="1921.0" y2="962.0" stroke="#ee2a30" stroke-width="2" />
<g fill="#ee2a30"><circle cx="1528.4" cy="976.5" r="3.9"/><circle cx="1574.5" cy="975" r="3.9"/><circle cx="1690" cy="970.3" r="3.9"/><circle cx="1805.8" cy="966.2" r="3.9"/><circle cx="1921" cy="962.4" r="3.9"/></g>
<line x1="1528.4" y1="945.5" x2="1921.0" y2="802.5" stroke="#f39332" stroke-width="2" />
<g fill="#f39332"><circle cx="1528.4" cy="945.8" r="3.9"/><circle cx="1574.5" cy="926.3" r="3.9"/><circle cx="1690" cy="882.4" r="3.9"/><circle cx="1805.8" cy="841" r="3.9"/><circle cx="1921" cy="803.3" r="3.9"/></g>
<line x1="1528.4" y1="891.0" x2="1921.0" y2="695.7" stroke="#3b51a3" stroke-width="2" />
<g fill="#3b51a3"><circle cx="1528.4" cy="900.6" r="3.9"/><circle cx="1574.5" cy="867.4" r="3.9"/><circle cx="1690" cy="801.8" r="3.9"/><circle cx="1805.8" cy="752.2" r="3.9"/><circle cx="1921" cy="699.5" r="3.9"/></g>
<text class="se" font-size="25" font-weight="bold" fill="#3b51a3" transform="translate(1789.0 741.0) rotate(-26.5)">2C<tspan dy="5.50" font-size="13.75">dl</tspan><tspan dy="-5.50">&#8203;</tspan>=22.93</text>
<text class="se" font-size="25" font-weight="bold" fill="#f39332" transform="translate(1782.0 841.0) rotate(-20.5)">2C<tspan dy="5.50" font-size="13.75">dl</tspan><tspan dy="-5.50">&#8203;</tspan>=16.55</text>
<text class="se" font-size="25" font-weight="bold" fill="#0c9448" transform="translate(1662.0 957.0) rotate(-5)">2C<tspan dy="5.50" font-size="13.75">dl</tspan><tspan dy="-5.50">&#8203;</tspan>=2.53</text>
<text class="se" font-size="25" font-weight="bold" fill="#ee2a30" transform="translate(1795.0 960.0) rotate(-3.5)">2C<tspan dy="5.50" font-size="13.75">dl</tspan><tspan dy="-5.50">&#8203;</tspan>=1.52</text></g>
<g id="pg"><rect x="188.9" y="1065.0" width="522.0" height="364.6" fill="none" stroke="#4a4a4a" stroke-width="1.5" />
<line x1="182.9" y1="1429.6" x2="188.9" y2="1429.6" stroke="#4a4a4a" stroke-width="1.4" />
<line x1="185.4" y1="1384.0" x2="188.9" y2="1384.0" stroke="#4a4a4a" stroke-width="1.4" />
<line x1="182.9" y1="1338.4" x2="188.9" y2="1338.4" stroke="#4a4a4a" stroke-width="1.4" />
<line x1="185.4" y1="1292.9" x2="188.9" y2="1292.9" stroke="#4a4a4a" stroke-width="1.4" />
<line x1="182.9" y1="1247.3" x2="188.9" y2="1247.3" stroke="#4a4a4a" stroke-width="1.4" />
<line x1="185.4" y1="1201.7" x2="188.9" y2="1201.7" stroke="#4a4a4a" stroke-width="1.4" />
<line x1="182.9" y1="1156.1" x2="188.9" y2="1156.1" stroke="#4a4a4a" stroke-width="1.4" />
<line x1="185.4" y1="1110.6" x2="188.9" y2="1110.6" stroke="#4a4a4a" stroke-width="1.4" />
<line x1="182.9" y1="1065.0" x2="188.9" y2="1065.0" stroke="#4a4a4a" stroke-width="1.4" />
<line x1="188.9" y1="1429.6" x2="188.9" y2="1435.6" stroke="#4a4a4a" stroke-width="1.4" />
<line x1="254.2" y1="1429.6" x2="254.2" y2="1433.1" stroke="#4a4a4a" stroke-width="1.4" />
<line x1="319.4" y1="1429.6" x2="319.4" y2="1435.6" stroke="#4a4a4a" stroke-width="1.4" />
<line x1="384.7" y1="1429.6" x2="384.7" y2="1433.1" stroke="#4a4a4a" stroke-width="1.4" />
<line x1="449.9" y1="1429.6" x2="449.9" y2="1435.6" stroke="#4a4a4a" stroke-width="1.4" />
<line x1="515.1" y1="1429.6" x2="515.1" y2="1433.1" stroke="#4a4a4a" stroke-width="1.4" />
<line x1="580.4" y1="1429.6" x2="580.4" y2="1435.6" stroke="#4a4a4a" stroke-width="1.4" />
<line x1="645.7" y1="1429.6" x2="645.7" y2="1433.1" stroke="#4a4a4a" stroke-width="1.4" />
<line x1="710.9" y1="1429.6" x2="710.9" y2="1435.6" stroke="#4a4a4a" stroke-width="1.4" />
<text class="sa" font-size="19" fill="#3a3a3a" text-anchor="end" x="177.5" y="1436.1">1.4</text>
<text class="sa" font-size="19" fill="#3a3a3a" text-anchor="end" x="177.5" y="1344.9">1.5</text>
<text class="sa" font-size="19" fill="#3a3a3a" text-anchor="end" x="177.5" y="1253.8">1.6</text>
<text class="sa" font-size="19" fill="#3a3a3a" text-anchor="end" x="177.5" y="1162.6">1.7</text>
<text class="sa" font-size="19" fill="#3a3a3a" text-anchor="end" x="177.5" y="1071.5">1.8</text>
<text class="sa" font-size="19" font-style="italic" fill="#3a3a3a" text-anchor="middle" x="188.4" y="1457.5">0.0</text>
<text class="sa" font-size="19" font-style="italic" fill="#3a3a3a" text-anchor="middle" x="318.9" y="1457.5">0.4</text>
<text class="sa" font-size="19" font-style="italic" fill="#3a3a3a" text-anchor="middle" x="449.4" y="1457.5">0.8</text>
<text class="sa" font-size="19" font-style="italic" fill="#3a3a3a" text-anchor="middle" x="579.9" y="1457.5">1.2</text>
<text class="sa" font-size="19" font-style="italic" fill="#3a3a3a" text-anchor="middle" x="710.4" y="1457.5">1.6</text>
<text class="sa" font-size="20" font-weight="bold" fill="#2a2a2a" text-anchor="middle" textLength="149" lengthAdjust="spacingAndGlyphs" x="449.5" y="1480.5">Logj (mA cm<tspan dy="-8.40" font-size="12.00">-2</tspan><tspan dy="8.40">&#8203;</tspan>)</text>
<text class="sa" font-size="20" font-weight="bold" fill="#2a2a2a" text-anchor="middle" textLength="195" lengthAdjust="spacingAndGlyphs" transform="translate(136.0 1262.5) rotate(-90)">Potential (V vs RHE)</text>
<text class="sa" font-size="60" font-weight="bold" x="102.0" y="1094.0">g</text>
<line x1="197.6" y1="1087.7" x2="240.7" y2="1087.7" stroke="#161616" stroke-width="2.4" />
<text class="sa" font-size="19.8" fill="#333" x="248.7" y="1094.2">Ultrathin Co-MOF</text>
<line x1="197.6" y1="1110.7" x2="240.7" y2="1110.7" stroke="#e8262c" stroke-width="2.4" />
<text class="sa" font-size="19.8" fill="#333" x="248.7" y="1117.2">Micro-nano Co-MOF</text>
<line x1="197.6" y1="1133.6" x2="240.7" y2="1133.6" stroke="#2436b8" stroke-width="2.4" />
<text class="sa" font-size="19.8" fill="#333" x="248.7" y="1140.1">Bulk Co-MOF</text>
<line x1="197.6" y1="1156.5" x2="240.7" y2="1156.5" stroke="#f03cc8" stroke-width="2.4" />
<text class="sa" font-size="19.5" fill="#3a3a3a" x="248.7" y="1163.0">RuO<tspan dy="5.46" font-size="11.70">2</tspan><tspan dy="-5.46">&#8203;</tspan></text>
<path d="M250.3,1422.0 C253.6,1420.0 262.6,1413.7 270.0,1410.0 C277.4,1406.3 286.0,1403.1 295.0,1400.0 C304.0,1396.9 311.4,1394.9 323.9,1391.6 C336.4,1388.3 354.0,1383.6 370.0,1380.0 C386.0,1376.4 403.1,1373.1 419.8,1369.8 C436.5,1366.5 454.0,1363.2 470.0,1360.0 C486.0,1356.8 497.5,1355.0 515.8,1350.6 C534.1,1346.2 558.5,1339.8 579.8,1333.7 C601.1,1327.6 627.8,1319.5 643.7,1313.9 C659.6,1308.3 665.7,1304.4 675.0,1300.0 C684.3,1295.6 695.6,1289.4 699.7,1287.3" fill="none" stroke="#161616" stroke-width="2.6" stroke-linecap="round"/>
<path d="M241.7,1406.6 C245.1,1404.8 253.6,1399.5 262.0,1396.0 C270.4,1392.5 282.2,1388.7 291.9,1385.8 C301.6,1382.9 309.3,1380.9 320.0,1378.5 C330.7,1376.1 342.6,1374.3 355.9,1371.4 C369.2,1368.5 384.0,1364.7 400.0,1361.0 C416.0,1357.3 432.5,1354.2 451.8,1349.0 C471.1,1343.8 494.5,1337.1 515.8,1329.9 C537.1,1322.7 558.5,1315.2 579.8,1305.9 C601.1,1296.6 628.3,1282.4 643.7,1273.9 C659.1,1265.4 663.4,1261.2 672.0,1255.0 C680.6,1248.8 691.6,1239.6 695.5,1236.5" fill="none" stroke="#e8262c" stroke-width="2.6" stroke-linecap="round"/>
<path d="M236.6,1376.9 C243.8,1375.1 265.4,1369.8 280.0,1366.0 C294.6,1362.2 308.9,1358.0 323.9,1353.8 C338.9,1349.5 354.0,1345.3 370.0,1340.5 C386.0,1335.7 403.1,1330.8 419.8,1325.0 C436.5,1319.2 454.0,1312.5 470.0,1306.0 C486.0,1299.5 497.5,1294.5 515.8,1286.0 C534.1,1277.5 561.1,1265.8 579.8,1254.7 C598.4,1243.6 616.0,1228.3 627.7,1219.5 C639.4,1210.7 643.7,1207.2 650.0,1202.0 C656.3,1196.8 662.9,1190.5 665.5,1188.2" fill="none" stroke="#2436b8" stroke-width="2.6" stroke-linecap="round"/>
<path d="M235.9,1358.6 C240.2,1356.5 252.7,1350.5 262.0,1346.0 C271.3,1341.5 283.1,1335.7 291.9,1331.5 C300.7,1327.3 307.0,1324.2 315.0,1321.0 C323.0,1317.8 329.1,1315.8 339.9,1312.3 C350.7,1308.8 366.7,1304.0 380.0,1300.0 C393.3,1296.0 402.5,1293.7 419.8,1288.3 C437.1,1282.9 462.5,1275.0 483.8,1267.5 C505.1,1260.0 530.2,1251.0 547.8,1243.5 C565.4,1236.0 578.2,1229.3 589.4,1222.7 C600.6,1216.1 606.0,1211.2 615.0,1204.0 C624.0,1196.8 636.2,1186.5 643.7,1179.5 C651.2,1172.5 654.9,1167.7 660.0,1162.0 C665.1,1156.3 671.8,1148.1 674.1,1145.3" fill="none" stroke="#f03cc8" stroke-width="2.6" stroke-linecap="round"/>
<line x1="509.4" y1="1352.2" x2="637.3" y2="1326.7" stroke="#111" stroke-width="2.6" stroke-dasharray="11 6"/>
<line x1="547.8" y1="1317.0" x2="662.9" y2="1281.0" stroke="#e8262c" stroke-width="2.4" stroke-dasharray="11 6"/>
<line x1="579.8" y1="1256.3" x2="637.3" y2="1230.7" stroke="#2e7fb0" stroke-width="2.4" stroke-dasharray="11 6"/>
<line x1="589.4" y1="1224.3" x2="643.7" y2="1197.0" stroke="#f03cc8" stroke-width="2.4" stroke-dasharray="11 6"/>
<text class="sa" font-size="25" fill="#f048c4" transform="translate(477.0 1257.0) rotate(-27)" stroke="#f048c4" stroke-width="0.5">118 mV dec<tspan dy="-10.50" font-size="15.00">-1</tspan><tspan dy="10.50">&#8203;</tspan></text>
<text class="sa" font-size="25.5" fill="#3470b4" transform="translate(454.0 1310.0) rotate(-26)" stroke="#3470b4" stroke-width="0.5">122 mV dec<tspan dy="-10.71" font-size="15.30">-1</tspan><tspan dy="10.71">&#8203;</tspan></text>
<text class="sa" font-size="25" font-weight="bold" fill="#e8262c" transform="translate(532.0 1318.0) rotate(-26)" stroke="#e8262c" stroke-width="0.5">94 mV dec<tspan dy="-10.50" font-size="15.00">-1</tspan><tspan dy="10.50">&#8203;</tspan></text>
<text class="sa" font-size="25" font-weight="bold" fill="#161616" transform="translate(507.0 1389.0) rotate(-11.5)" stroke="#161616" stroke-width="0.5">74 mV dec<tspan dy="-10.50" font-size="15.00">-1</tspan><tspan dy="10.50">&#8203;</tspan></text></g>
<g id="ph"><g clip-path="url(#cliph)">
<path d="M1063.9,1087.5 C1065.8,1086.8 1070.7,1084.8 1075.0,1083.5 C1079.3,1082.2 1085.0,1080.7 1090.0,1079.5 C1095.0,1078.3 1098.3,1077.6 1105.0,1076.5 C1111.7,1075.4 1119.2,1074.0 1130.0,1073.0 C1140.8,1072.0 1150.0,1071.1 1170.0,1070.5 C1190.0,1069.9 1220.8,1069.7 1250.0,1069.5 C1279.2,1069.3 1329.2,1069.5 1345.0,1069.5" fill="none" stroke="#0a0a0a" stroke-width="9" stroke-linecap="round"/>
<g fill="#0a0af5"><circle cx="1084.9" cy="1423.0" r="6.2"/><circle cx="1087.1" cy="1410.4" r="6.2"/><circle cx="1089.3" cy="1398.4" r="6.2"/><circle cx="1091.5" cy="1387.0" r="6.2"/><circle cx="1093.7" cy="1376.1" r="6.2"/><circle cx="1095.9" cy="1365.3" r="6.2"/><circle cx="1098.1" cy="1354.7" r="6.2"/><circle cx="1100.3" cy="1343.9" r="6.2"/><circle cx="1102.5" cy="1332.8" r="6.2"/><circle cx="1104.7" cy="1321.5" r="6.2"/><circle cx="1106.9" cy="1309.9" r="6.2"/><circle cx="1109.1" cy="1298.3" r="6.2"/><circle cx="1111.3" cy="1286.8" r="6.2"/><circle cx="1113.5" cy="1275.6" r="6.2"/><circle cx="1115.7" cy="1264.7" r="6.2"/><circle cx="1117.9" cy="1254.4" r="6.2"/><circle cx="1120.1" cy="1244.3" r="6.2"/><circle cx="1122.3" cy="1234.4" r="6.2"/><circle cx="1124.5" cy="1224.8" r="6.2"/><circle cx="1126.7" cy="1215.5" r="6.2"/><circle cx="1128.9" cy="1206.7" r="6.2"/><circle cx="1131.1" cy="1198.6" r="6.2"/><circle cx="1133.3" cy="1191.3" r="6.2"/><circle cx="1135.5" cy="1184.6" r="6.2"/><circle cx="1137.7" cy="1178.3" r="6.2"/><circle cx="1139.9" cy="1172.4" r="6.2"/><circle cx="1142.1" cy="1166.8" r="6.2"/><circle cx="1144.3" cy="1161.4" r="6.2"/><circle cx="1146.5" cy="1156.2" r="6.2"/><circle cx="1148.7" cy="1151.0" r="6.2"/><circle cx="1150.9" cy="1146.0" r="6.2"/><circle cx="1153.1" cy="1141.1" r="6.2"/><circle cx="1155.3" cy="1136.4" r="6.2"/><circle cx="1157.5" cy="1132.1" r="6.2"/><circle cx="1159.7" cy="1128.2" r="6.2"/><circle cx="1161.9" cy="1124.6" r="6.2"/><circle cx="1164.1" cy="1121.2" r="6.2"/><circle cx="1166.3" cy="1118.0" r="6.2"/><circle cx="1168.5" cy="1115.0" r="6.2"/><circle cx="1170.7" cy="1112.1" r="6.2"/><circle cx="1172.9" cy="1109.4" r="6.2"/><circle cx="1175.1" cy="1106.6" r="6.2"/><circle cx="1177.3" cy="1103.9" r="6.2"/><circle cx="1179.5" cy="1101.3" r="6.2"/><circle cx="1181.7" cy="1098.7" r="6.2"/><circle cx="1183.9" cy="1096.3" r="6.2"/><circle cx="1186.1" cy="1094.0" r="6.2"/><circle cx="1188.3" cy="1091.8" r="6.2"/><circle cx="1190.5" cy="1089.9" r="6.2"/><circle cx="1192.7" cy="1088.1" r="6.2"/><circle cx="1194.9" cy="1086.4" r="6.2"/><circle cx="1197.1" cy="1084.7" r="6.2"/><circle cx="1199.3" cy="1083.2" r="6.2"/><circle cx="1201.5" cy="1081.8" r="6.2"/><circle cx="1203.7" cy="1080.6" r="6.2"/><circle cx="1205.9" cy="1079.4" r="6.2"/><circle cx="1208.1" cy="1078.4" r="6.2"/><circle cx="1210.3" cy="1077.4" r="6.2"/><circle cx="1212.5" cy="1076.5" r="6.2"/><circle cx="1214.7" cy="1075.6" r="6.2"/><circle cx="1216.9" cy="1074.9" r="6.2"/><circle cx="1219.1" cy="1074.2" r="6.2"/><circle cx="1221.3" cy="1073.6" r="6.2"/><circle cx="1223.5" cy="1073.1" r="6.2"/><circle cx="1225.7" cy="1072.5" r="6.2"/><circle cx="1227.9" cy="1072.1" r="6.2"/><circle cx="1230.1" cy="1071.7" r="6.2"/><circle cx="1232.3" cy="1071.3" r="6.2"/><circle cx="1234.5" cy="1071.0" r="6.2"/><circle cx="1236.7" cy="1070.8" r="6.2"/><circle cx="1238.9" cy="1070.6" r="6.2"/><circle cx="1241.1" cy="1070.5" r="6.2"/><circle cx="1243.3" cy="1070.3" r="6.2"/><circle cx="1245.5" cy="1070.1" r="6.2"/><circle cx="1247.7" cy="1070.0" r="6.2"/><circle cx="1249.9" cy="1069.9" r="6.2"/><circle cx="1252.1" cy="1069.8" r="6.2"/><circle cx="1254.3" cy="1069.8" r="6.2"/></g>
<g fill="#10f020"><path d="M1164.3,1412.8l8.6,10.2l-8.6,10.2l-8.6,-10.2z"/><path d="M1166.0,1399.5l8.6,10.2l-8.6,10.2l-8.6,-10.2z"/><path d="M1167.7,1386.9l8.6,10.2l-8.6,10.2l-8.6,-10.2z"/><path d="M1169.4,1375.0l8.6,10.2l-8.6,10.2l-8.6,-10.2z"/><path d="M1171.1,1363.5l8.6,10.2l-8.6,10.2l-8.6,-10.2z"/><path d="M1172.8,1352.4l8.6,10.2l-8.6,10.2l-8.6,-10.2z"/><path d="M1174.5,1341.6l8.6,10.2l-8.6,10.2l-8.6,-10.2z"/><path d="M1176.2,1330.8l8.6,10.2l-8.6,10.2l-8.6,-10.2z"/><path d="M1177.9,1320.1l8.6,10.2l-8.6,10.2l-8.6,-10.2z"/><path d="M1179.6,1309.5l8.6,10.2l-8.6,10.2l-8.6,-10.2z"/><path d="M1181.3,1299.1l8.6,10.2l-8.6,10.2l-8.6,-10.2z"/><path d="M1183.0,1288.8l8.6,10.2l-8.6,10.2l-8.6,-10.2z"/><path d="M1184.7,1278.6l8.6,10.2l-8.6,10.2l-8.6,-10.2z"/><path d="M1186.4,1268.7l8.6,10.2l-8.6,10.2l-8.6,-10.2z"/><path d="M1188.1,1259.1l8.6,10.2l-8.6,10.2l-8.6,-10.2z"/><path d="M1189.8,1249.6l8.6,10.2l-8.6,10.2l-8.6,-10.2z"/><path d="M1191.5,1240.4l8.6,10.2l-8.6,10.2l-8.6,-10.2z"/><path d="M1193.2,1231.2l8.6,10.2l-8.6,10.2l-8.6,-10.2z"/><path d="M1194.9,1222.2l8.6,10.2l-8.6,10.2l-8.6,-10.2z"/><path d="M1196.6,1213.3l8.6,10.2l-8.6,10.2l-8.6,-10.2z"/><path d="M1198.3,1204.7l8.6,10.2l-8.6,10.2l-8.6,-10.2z"/><path d="M1200.0,1196.4l8.6,10.2l-8.6,10.2l-8.6,-10.2z"/><path d="M1201.7,1188.3l8.6,10.2l-8.6,10.2l-8.6,-10.2z"/><path d="M1203.4,1180.7l8.6,10.2l-8.6,10.2l-8.6,-10.2z"/><path d="M1205.1,1173.4l8.6,10.2l-8.6,10.2l-8.6,-10.2z"/><path d="M1206.8,1166.4l8.6,10.2l-8.6,10.2l-8.6,-10.2z"/><path d="M1208.5,1159.5l8.6,10.2l-8.6,10.2l-8.6,-10.2z"/><path d="M1210.2,1152.9l8.6,10.2l-8.6,10.2l-8.6,-10.2z"/><path d="M1211.9,1146.4l8.6,10.2l-8.6,10.2l-8.6,-10.2z"/><path d="M1213.6,1140.3l8.6,10.2l-8.6,10.2l-8.6,-10.2z"/><path d="M1215.3,1134.5l8.6,10.2l-8.6,10.2l-8.6,-10.2z"/><path d="M1217.0,1129.0l8.6,10.2l-8.6,10.2l-8.6,-10.2z"/><path d="M1218.7,1123.8l8.6,10.2l-8.6,10.2l-8.6,-10.2z"/><path d="M1220.4,1119.1l8.6,10.2l-8.6,10.2l-8.6,-10.2z"/><path d="M1222.1,1114.6l8.6,10.2l-8.6,10.2l-8.6,-10.2z"/><path d="M1223.8,1110.2l8.6,10.2l-8.6,10.2l-8.6,-10.2z"/><path d="M1225.5,1106.1l8.6,10.2l-8.6,10.2l-8.6,-10.2z"/><path d="M1227.2,1102.1l8.6,10.2l-8.6,10.2l-8.6,-10.2z"/><path d="M1228.9,1098.4l8.6,10.2l-8.6,10.2l-8.6,-10.2z"/><path d="M1230.6,1094.9l8.6,10.2l-8.6,10.2l-8.6,-10.2z"/><path d="M1232.3,1091.8l8.6,10.2l-8.6,10.2l-8.6,-10.2z"/><path d="M1234.0,1089.0l8.6,10.2l-8.6,10.2l-8.6,-10.2z"/><path d="M1235.7,1086.4l8.6,10.2l-8.6,10.2l-8.6,-10.2z"/><path d="M1237.4,1084.1l8.6,10.2l-8.6,10.2l-8.6,-10.2z"/><path d="M1239.1,1081.9l8.6,10.2l-8.6,10.2l-8.6,-10.2z"/><path d="M1240.8,1079.8l8.6,10.2l-8.6,10.2l-8.6,-10.2z"/><path d="M1242.5,1077.8l8.6,10.2l-8.6,10.2l-8.6,-10.2z"/><path d="M1244.2,1076.0l8.6,10.2l-8.6,10.2l-8.6,-10.2z"/><path d="M1245.9,1074.4l8.6,10.2l-8.6,10.2l-8.6,-10.2z"/><path d="M1247.6,1072.9l8.6,10.2l-8.6,10.2l-8.6,-10.2z"/><path d="M1249.3,1071.6l8.6,10.2l-8.6,10.2l-8.6,-10.2z"/><path d="M1251.0,1070.4l8.6,10.2l-8.6,10.2l-8.6,-10.2z"/><path d="M1252.7,1069.4l8.6,10.2l-8.6,10.2l-8.6,-10.2z"/><path d="M1254.4,1068.4l8.6,10.2l-8.6,10.2l-8.6,-10.2z"/><path d="M1256.1,1067.4l8.6,10.2l-8.6,10.2l-8.6,-10.2z"/><path d="M1257.8,1066.6l8.6,10.2l-8.6,10.2l-8.6,-10.2z"/><path d="M1259.5,1065.8l8.6,10.2l-8.6,10.2l-8.6,-10.2z"/><path d="M1261.2,1065.0l8.6,10.2l-8.6,10.2l-8.6,-10.2z"/><path d="M1262.9,1064.4l8.6,10.2l-8.6,10.2l-8.6,-10.2z"/><path d="M1264.6,1063.8l8.6,10.2l-8.6,10.2l-8.6,-10.2z"/><path d="M1266.3,1063.3l8.6,10.2l-8.6,10.2l-8.6,-10.2z"/><path d="M1268.0,1062.7l8.6,10.2l-8.6,10.2l-8.6,-10.2z"/><path d="M1269.7,1062.2l8.6,10.2l-8.6,10.2l-8.6,-10.2z"/><path d="M1271.4,1061.8l8.6,10.2l-8.6,10.2l-8.6,-10.2z"/><path d="M1273.1,1061.3l8.6,10.2l-8.6,10.2l-8.6,-10.2z"/><path d="M1274.8,1060.9l8.6,10.2l-8.6,10.2l-8.6,-10.2z"/><path d="M1276.5,1060.6l8.6,10.2l-8.6,10.2l-8.6,-10.2z"/><path d="M1278.2,1060.4l8.6,10.2l-8.6,10.2l-8.6,-10.2z"/><path d="M1279.9,1060.2l8.6,10.2l-8.6,10.2l-8.6,-10.2z"/><path d="M1281.6,1060.1l8.6,10.2l-8.6,10.2l-8.6,-10.2z"/><path d="M1283.3,1060.1l8.6,10.2l-8.6,10.2l-8.6,-10.2z"/><path d="M1285.0,1060.0l8.6,10.2l-8.6,10.2l-8.6,-10.2z"/><path d="M1286.7,1059.9l8.6,10.2l-8.6,10.2l-8.6,-10.2z"/><path d="M1288.4,1059.8l8.6,10.2l-8.6,10.2l-8.6,-10.2z"/><path d="M1290.1,1059.8l8.6,10.2l-8.6,10.2l-8.6,-10.2z"/><path d="M1291.8,1059.7l8.6,10.2l-8.6,10.2l-8.6,-10.2z"/><path d="M1293.5,1059.7l8.6,10.2l-8.6,10.2l-8.6,-10.2z"/><path d="M1295.2,1059.6l8.6,10.2l-8.6,10.2l-8.6,-10.2z"/><path d="M1296.9,1059.6l8.6,10.2l-8.6,10.2l-8.6,-10.2z"/><path d="M1298.6,1059.6l8.6,10.2l-8.6,10.2l-8.6,-10.2z"/><path d="M1300.3,1059.5l8.6,10.2l-8.6,10.2l-8.6,-10.2z"/><path d="M1302.0,1059.5l8.6,10.2l-8.6,10.2l-8.6,-10.2z"/><path d="M1303.7,1059.5l8.6,10.2l-8.6,10.2l-8.6,-10.2z"/><path d="M1305.4,1059.5l8.6,10.2l-8.6,10.2l-8.6,-10.2z"/><path d="M1307.1,1059.5l8.6,10.2l-8.6,10.2l-8.6,-10.2z"/><path d="M1308.8,1059.4l8.6,10.2l-8.6,10.2l-8.6,-10.2z"/><path d="M1310.5,1059.4l8.6,10.2l-8.6,10.2l-8.6,-10.2z"/><path d="M1312.2,1059.4l8.6,10.2l-8.6,10.2l-8.6,-10.2z"/><path d="M1313.9,1059.4l8.6,10.2l-8.6,10.2l-8.6,-10.2z"/><path d="M1315.6,1059.4l8.6,10.2l-8.6,10.2l-8.6,-10.2z"/><path d="M1317.3,1059.3l8.6,10.2l-8.6,10.2l-8.6,-10.2z"/><path d="M1319.0,1059.3l8.6,10.2l-8.6,10.2l-8.6,-10.2z"/><path d="M1320.7,1059.3l8.6,10.2l-8.6,10.2l-8.6,-10.2z"/><path d="M1322.4,1059.3l8.6,10.2l-8.6,10.2l-8.6,-10.2z"/><path d="M1324.1,1059.3l8.6,10.2l-8.6,10.2l-8.6,-10.2z"/><path d="M1325.8,1059.3l8.6,10.2l-8.6,10.2l-8.6,-10.2z"/><path d="M1327.5,1059.3l8.6,10.2l-8.6,10.2l-8.6,-10.2z"/><path d="M1329.2,1059.3l8.6,10.2l-8.6,10.2l-8.6,-10.2z"/><path d="M1330.9,1059.3l8.6,10.2l-8.6,10.2l-8.6,-10.2z"/><path d="M1332.6,1059.3l8.6,10.2l-8.6,10.2l-8.6,-10.2z"/><path d="M1334.3,1059.3l8.6,10.2l-8.6,10.2l-8.6,-10.2z"/><path d="M1336.0,1059.3l8.6,10.2l-8.6,10.2l-8.6,-10.2z"/><path d="M1337.7,1059.3l8.6,10.2l-8.6,10.2l-8.6,-10.2z"/></g>
<g fill="#f50a0a"><path d="M1289.4,1414.9l7.4,14.1h-14.8z"/><path d="M1290.0,1401.7l7.4,14.1h-14.8z"/><path d="M1290.6,1389.0l7.4,14.1h-14.8z"/><path d="M1291.3,1376.5l7.4,14.1h-14.8z"/><path d="M1291.9,1364.5l7.4,14.1h-14.8z"/><path d="M1292.5,1352.8l7.4,14.1h-14.8z"/><path d="M1293.1,1341.3l7.4,14.1h-14.8z"/><path d="M1293.7,1330.1l7.4,14.1h-14.8z"/><path d="M1294.4,1319.2l7.4,14.1h-14.8z"/><path d="M1295.0,1308.7l7.4,14.1h-14.8z"/><path d="M1295.6,1298.4l7.4,14.1h-14.8z"/><path d="M1296.2,1288.1l7.4,14.1h-14.8z"/><path d="M1296.8,1278.0l7.4,14.1h-14.8z"/><path d="M1297.5,1268.0l7.4,14.1h-14.8z"/><path d="M1298.1,1258.3l7.4,14.1h-14.8z"/><path d="M1298.7,1249.0l7.4,14.1h-14.8z"/><path d="M1299.3,1240.0l7.4,14.1h-14.8z"/><path d="M1299.9,1231.5l7.4,14.1h-14.8z"/><path d="M1300.6,1223.5l7.4,14.1h-14.8z"/><path d="M1301.2,1215.9l7.4,14.1h-14.8z"/><path d="M1301.8,1208.4l7.4,14.1h-14.8z"/><path d="M1302.4,1201.0l7.4,14.1h-14.8z"/><path d="M1303.0,1193.7l7.4,14.1h-14.8z"/><path d="M1303.7,1186.6l7.4,14.1h-14.8z"/><path d="M1304.3,1179.7l7.4,14.1h-14.8z"/><path d="M1304.9,1173.0l7.4,14.1h-14.8z"/><path d="M1305.5,1166.5l7.4,14.1h-14.8z"/><path d="M1306.1,1160.4l7.4,14.1h-14.8z"/><path d="M1306.8,1154.5l7.4,14.1h-14.8z"/><path d="M1307.4,1149.0l7.4,14.1h-14.8z"/><path d="M1308.0,1143.8l7.4,14.1h-14.8z"/><path d="M1308.6,1139.1l7.4,14.1h-14.8z"/><path d="M1309.2,1134.8l7.4,14.1h-14.8z"/><path d="M1309.9,1130.9l7.4,14.1h-14.8z"/><path d="M1310.5,1127.3l7.4,14.1h-14.8z"/><path d="M1311.1,1123.8l7.4,14.1h-14.8z"/><path d="M1311.7,1120.5l7.4,14.1h-14.8z"/><path d="M1312.3,1117.3l7.4,14.1h-14.8z"/><path d="M1313.0,1114.3l7.4,14.1h-14.8z"/><path d="M1313.6,1111.4l7.4,14.1h-14.8z"/><path d="M1314.2,1108.6l7.4,14.1h-14.8z"/><path d="M1314.8,1106.0l7.4,14.1h-14.8z"/><path d="M1315.4,1103.6l7.4,14.1h-14.8z"/><path d="M1316.1,1101.3l7.4,14.1h-14.8z"/><path d="M1316.7,1099.1l7.4,14.1h-14.8z"/><path d="M1317.3,1097.0l7.4,14.1h-14.8z"/><path d="M1317.9,1095.1l7.4,14.1h-14.8z"/><path d="M1318.5,1093.3l7.4,14.1h-14.8z"/><path d="M1319.2,1091.6l7.4,14.1h-14.8z"/><path d="M1319.8,1090.0l7.4,14.1h-14.8z"/><path d="M1320.4,1088.5l7.4,14.1h-14.8z"/><path d="M1321.0,1087.0l7.4,14.1h-14.8z"/><path d="M1321.6,1085.6l7.4,14.1h-14.8z"/><path d="M1322.3,1084.3l7.4,14.1h-14.8z"/><path d="M1322.9,1083.0l7.4,14.1h-14.8z"/><path d="M1323.5,1081.8l7.4,14.1h-14.8z"/><path d="M1324.1,1080.6l7.4,14.1h-14.8z"/><path d="M1324.7,1079.5l7.4,14.1h-14.8z"/><path d="M1325.4,1078.4l7.4,14.1h-14.8z"/><path d="M1326.0,1077.4l7.4,14.1h-14.8z"/><path d="M1326.6,1076.5l7.4,14.1h-14.8z"/><path d="M1327.2,1075.5l7.4,14.1h-14.8z"/><path d="M1327.8,1074.7l7.4,14.1h-14.8z"/><path d="M1328.5,1073.8l7.4,14.1h-14.8z"/><path d="M1329.1,1073.0l7.4,14.1h-14.8z"/><path d="M1329.7,1072.2l7.4,14.1h-14.8z"/><path d="M1330.3,1071.5l7.4,14.1h-14.8z"/><path d="M1330.9,1070.8l7.4,14.1h-14.8z"/><path d="M1331.6,1070.1l7.4,14.1h-14.8z"/><path d="M1332.2,1069.4l7.4,14.1h-14.8z"/><path d="M1332.8,1068.8l7.4,14.1h-14.8z"/><path d="M1333.4,1068.2l7.4,14.1h-14.8z"/><path d="M1334.0,1067.7l7.4,14.1h-14.8z"/><path d="M1334.7,1067.1l7.4,14.1h-14.8z"/><path d="M1335.3,1066.6l7.4,14.1h-14.8z"/><path d="M1335.9,1066.1l7.4,14.1h-14.8z"/><path d="M1336.5,1065.7l7.4,14.1h-14.8z"/><path d="M1337.1,1065.2l7.4,14.1h-14.8z"/><path d="M1337.8,1064.8l7.4,14.1h-14.8z"/><path d="M1338.4,1064.3l7.4,14.1h-14.8z"/><path d="M1339.0,1063.9l7.4,14.1h-14.8z"/><path d="M1339.6,1063.6l7.4,14.1h-14.8z"/><path d="M1340.2,1063.2l7.4,14.1h-14.8z"/><path d="M1340.9,1062.9l7.4,14.1h-14.8z"/><path d="M1341.5,1062.6l7.4,14.1h-14.8z"/></g>
<g fill="#10e8f0"><path d="M1326.8,1432.0l8.2,-15.6h-16.4z"/><path d="M1327.1,1426.1l8.2,-15.6h-16.4z"/><path d="M1327.4,1420.2l8.2,-15.6h-16.4z"/><path d="M1327.7,1414.3l8.2,-15.6h-16.4z"/><path d="M1328.0,1408.5l8.2,-15.6h-16.4z"/><path d="M1328.3,1402.8l8.2,-15.6h-16.4z"/><path d="M1328.6,1397.1l8.2,-15.6h-16.4z"/><path d="M1328.9,1391.6l8.2,-15.6h-16.4z"/><path d="M1329.2,1386.2l8.2,-15.6h-16.4z"/><path d="M1329.5,1380.8l8.2,-15.6h-16.4z"/><path d="M1329.8,1375.4l8.2,-15.6h-16.4z"/><path d="M1330.1,1370.0l8.2,-15.6h-16.4z"/><path d="M1330.4,1364.5l8.2,-15.6h-16.4z"/><path d="M1330.7,1358.9l8.2,-15.6h-16.4z"/><path d="M1331.0,1353.2l8.2,-15.6h-16.4z"/><path d="M1331.3,1347.4l8.2,-15.6h-16.4z"/><path d="M1331.6,1341.5l8.2,-15.6h-16.4z"/><path d="M1331.9,1335.6l8.2,-15.6h-16.4z"/><path d="M1332.2,1329.6l8.2,-15.6h-16.4z"/><path d="M1332.5,1323.6l8.2,-15.6h-16.4z"/><path d="M1332.8,1317.5l8.2,-15.6h-16.4z"/><path d="M1333.1,1311.5l8.2,-15.6h-16.4z"/><path d="M1333.4,1305.4l8.2,-15.6h-16.4z"/><path d="M1333.7,1299.3l8.2,-15.6h-16.4z"/><path d="M1334.0,1293.2l8.2,-15.6h-16.4z"/><path d="M1334.3,1287.1l8.2,-15.6h-16.4z"/><path d="M1334.6,1281.0l8.2,-15.6h-16.4z"/><path d="M1334.9,1274.9l8.2,-15.6h-16.4z"/><path d="M1335.2,1268.9l8.2,-15.6h-16.4z"/><path d="M1335.5,1262.9l8.2,-15.6h-16.4z"/><path d="M1335.8,1257.0l8.2,-15.6h-16.4z"/><path d="M1336.1,1251.0l8.2,-15.6h-16.4z"/><path d="M1336.4,1245.0l8.2,-15.6h-16.4z"/><path d="M1336.7,1239.1l8.2,-15.6h-16.4z"/><path d="M1337.0,1233.1l8.2,-15.6h-16.4z"/><path d="M1337.3,1227.2l8.2,-15.6h-16.4z"/><path d="M1337.6,1221.2l8.2,-15.6h-16.4z"/><path d="M1337.9,1215.3l8.2,-15.6h-16.4z"/><path d="M1338.2,1209.3l8.2,-15.6h-16.4z"/><path d="M1338.5,1203.3l8.2,-15.6h-16.4z"/><path d="M1338.8,1197.2l8.2,-15.6h-16.4z"/><path d="M1339.1,1191.2l8.2,-15.6h-16.4z"/><path d="M1339.4,1185.1l8.2,-15.6h-16.4z"/><path d="M1339.7,1179.0l8.2,-15.6h-16.4z"/><path d="M1340.0,1172.8l8.2,-15.6h-16.4z"/><path d="M1340.3,1166.2l8.2,-15.6h-16.4z"/><path d="M1340.6,1159.6l8.2,-15.6h-16.4z"/><path d="M1340.9,1152.8l8.2,-15.6h-16.4z"/><path d="M1341.2,1146.0l8.2,-15.6h-16.4z"/><path d="M1341.5,1139.2l8.2,-15.6h-16.4z"/><path d="M1341.8,1132.6l8.2,-15.6h-16.4z"/><path d="M1342.1,1126.2l8.2,-15.6h-16.4z"/><path d="M1342.4,1120.1l8.2,-15.6h-16.4z"/><path d="M1342.7,1114.3l8.2,-15.6h-16.4z"/><path d="M1343.0,1108.9l8.2,-15.6h-16.4z"/><path d="M1343.3,1104.0l8.2,-15.6h-16.4z"/><path d="M1343.6,1099.5l8.2,-15.6h-16.4z"/><path d="M1343.9,1095.3l8.2,-15.6h-16.4z"/><path d="M1344.2,1091.3l8.2,-15.6h-16.4z"/><path d="M1344.5,1087.6l8.2,-15.6h-16.4z"/><path d="M1344.8,1084.2l8.2,-15.6h-16.4z"/><path d="M1345.1,1081.0l8.2,-15.6h-16.4z"/></g>
</g>
<rect x="893.9" y="1069.5" width="451.8" height="351.7" fill="none" stroke="#0d0d0d" stroke-width="4.4" />
<line x1="884.9" y1="1069.5" x2="893.9" y2="1069.5" stroke="#0d0d0d" stroke-width="3.4" />
<line x1="887.9" y1="1104.7" x2="893.9" y2="1104.7" stroke="#0d0d0d" stroke-width="3.4" />
<line x1="884.9" y1="1139.8" x2="893.9" y2="1139.8" stroke="#0d0d0d" stroke-width="3.4" />
<line x1="887.9" y1="1175.0" x2="893.9" y2="1175.0" stroke="#0d0d0d" stroke-width="3.4" />
<line x1="884.9" y1="1210.2" x2="893.9" y2="1210.2" stroke="#0d0d0d" stroke-width="3.4" />
<line x1="887.9" y1="1245.3" x2="893.9" y2="1245.3" stroke="#0d0d0d" stroke-width="3.4" />
<line x1="884.9" y1="1280.5" x2="893.9" y2="1280.5" stroke="#0d0d0d" stroke-width="3.4" />
<line x1="887.9" y1="1315.7" x2="893.9" y2="1315.7" stroke="#0d0d0d" stroke-width="3.4" />
<line x1="884.9" y1="1350.9" x2="893.9" y2="1350.9" stroke="#0d0d0d" stroke-width="3.4" />
<line x1="887.9" y1="1386.0" x2="893.9" y2="1386.0" stroke="#0d0d0d" stroke-width="3.4" />
<line x1="884.9" y1="1421.2" x2="893.9" y2="1421.2" stroke="#0d0d0d" stroke-width="3.4" />
<line x1="893.9" y1="1421.2" x2="893.9" y2="1430.2" stroke="#0d0d0d" stroke-width="3.4" />
<line x1="950.4" y1="1421.2" x2="950.4" y2="1427.2" stroke="#0d0d0d" stroke-width="3.4" />
<line x1="1006.9" y1="1421.2" x2="1006.9" y2="1430.2" stroke="#0d0d0d" stroke-width="3.4" />
<line x1="1063.3" y1="1421.2" x2="1063.3" y2="1427.2" stroke="#0d0d0d" stroke-width="3.4" />
<line x1="1119.8" y1="1421.2" x2="1119.8" y2="1430.2" stroke="#0d0d0d" stroke-width="3.4" />
<line x1="1176.3" y1="1421.2" x2="1176.3" y2="1427.2" stroke="#0d0d0d" stroke-width="3.4" />
<line x1="1232.8" y1="1421.2" x2="1232.8" y2="1430.2" stroke="#0d0d0d" stroke-width="3.4" />
<line x1="1289.2" y1="1421.2" x2="1289.2" y2="1427.2" stroke="#0d0d0d" stroke-width="3.4" />
<line x1="1345.7" y1="1421.2" x2="1345.7" y2="1430.2" stroke="#0d0d0d" stroke-width="3.4" />
<text class="sa" font-size="26" font-weight="bold" fill="#222" text-anchor="end" x="881.0" y="1079.0">0</text>
<text class="sa" font-size="26" font-weight="bold" fill="#222" text-anchor="end" x="881.0" y="1149.3">−2</text>
<text class="sa" font-size="26" font-weight="bold" fill="#222" text-anchor="end" x="881.0" y="1219.7">−4</text>
<text class="sa" font-size="26" font-weight="bold" fill="#222" text-anchor="end" x="881.0" y="1290.0">−6</text>
<text class="sa" font-size="26" font-weight="bold" fill="#222" text-anchor="end" x="881.0" y="1360.4">−8</text>
<text class="sa" font-size="26" font-weight="bold" fill="#222" text-anchor="end" x="881.0" y="1430.7">−10</text>
<text class="sa" font-size="25.2" font-weight="bold" fill="#222" text-anchor="middle" x="886.4" y="1452.0">−0.8</text>
<text class="sa" font-size="25.2" font-weight="bold" fill="#222" text-anchor="middle" x="999.4" y="1452.0">−0.6</text>
<text class="sa" font-size="25.2" font-weight="bold" fill="#222" text-anchor="middle" x="1112.3" y="1452.0">−0.4</text>
<text class="sa" font-size="25.2" font-weight="bold" fill="#222" text-anchor="middle" x="1225.3" y="1452.0">−0.2</text>
<text class="sa" font-size="25.2" font-weight="bold" fill="#222" text-anchor="middle" x="1345.7" y="1452.0">0</text>
<text class="sa" font-size="31" font-weight="bold" fill="#222" text-anchor="middle" textLength="296" lengthAdjust="spacingAndGlyphs" x="1118.5" y="1481.0">Potential (V vs RHE)</text>
<text class="sa" font-size="30.5" font-weight="bold" fill="#262626" text-anchor="middle" textLength="357" lengthAdjust="spacingAndGlyphs" transform="translate(838.0 1253.5) rotate(-90)">Current density (mA/cm<tspan dy="-11.59" font-size="18.91">2</tspan><tspan dy="11.59">&#8203;</tspan>)</text>
<text class="sa" font-size="59" font-weight="bold" x="910.5" y="1120.5">h</text>
<g fill="#0a0a0a"><rect x="903.8" y="1168.8" width="8.4" height="8.4"/></g>
<text class="sa" font-size="24" font-weight="bold" fill="#2b2b2b" x="923.0" y="1179.5">MoO<tspan dy="6.00" font-size="14.88">2</tspan><tspan dy="-6.00">&#8203;</tspan> sheets</text>
<g fill="#0a0af5"><circle cx="908.0" cy="1207.4" r="5.2"/></g>
<text class="sa" font-size="24" font-weight="bold" fill="#2b2b2b" x="923.0" y="1213.9">Mo<tspan dy="6.00" font-size="14.88">2</tspan><tspan dy="-6.00">&#8203;</tspan>C sheets</text>
<g fill="#10f020"><path d="M908.0,1237.2l5.2,6.2l-5.2,6.2l-5.2,-6.2z"/></g>
<text class="sa" font-size="24" font-weight="bold" fill="#2b2b2b" x="923.0" y="1249.9">N-Mo<tspan dy="6.00" font-size="14.88">2</tspan><tspan dy="-6.00">&#8203;</tspan>C particles</text>
<g fill="#f50a0a"><path d="M908.0,1273.4l5.0,9.5h-10.0z"/></g>
<text class="sa" font-size="24" font-weight="bold" fill="#2b2b2b" x="923.0" y="1284.4">N-Mo<tspan dy="6.00" font-size="14.88">2</tspan><tspan dy="-6.00">&#8203;</tspan>C sheets</text>
<g fill="#10e8f0"><path d="M908.0,1320.0l6.0,-11.4h-12.0z"/></g>
<text class="sa" font-size="24" font-weight="bold" fill="#2b2b2b" x="920.0" y="1318.9">20 wt% Pt/C</text></g>
<g id="pi_"><g clip-path="url(#clipi)">
<g fill="#0a0af5"><circle cx="1695.8" cy="1173.4" r="4.9"/><circle cx="1704.6" cy="1170.2" r="4.9"/><circle cx="1712.9" cy="1167.0" r="4.9"/><circle cx="1720.7" cy="1163.8" r="4.9"/><circle cx="1728.1" cy="1160.8" r="4.9"/><circle cx="1735.0" cy="1157.9" r="4.9"/><circle cx="1741.5" cy="1155.0" r="4.9"/><circle cx="1747.5" cy="1152.2" r="4.9"/><circle cx="1753.2" cy="1149.5" r="4.9"/><circle cx="1758.4" cy="1146.8" r="4.9"/><circle cx="1763.4" cy="1144.2" r="4.9"/><circle cx="1768.0" cy="1141.6" r="4.9"/><circle cx="1772.3" cy="1139.2" r="4.9"/><circle cx="1776.4" cy="1136.9" r="4.9"/><circle cx="1780.3" cy="1134.7" r="4.9"/><circle cx="1783.9" cy="1132.5" r="4.9"/><circle cx="1787.4" cy="1130.5" r="4.9"/><circle cx="1790.6" cy="1128.6" r="4.9"/><circle cx="1793.8" cy="1126.8" r="4.9"/><circle cx="1796.7" cy="1125.1" r="4.9"/><circle cx="1799.5" cy="1123.4" r="4.9"/><circle cx="1802.2" cy="1121.8" r="4.9"/><circle cx="1804.8" cy="1120.2" r="4.9"/><circle cx="1807.2" cy="1118.8" r="4.9"/><circle cx="1809.5" cy="1117.3" r="4.9"/><circle cx="1811.8" cy="1116.0" r="4.9"/><circle cx="1813.9" cy="1114.6" r="4.9"/><circle cx="1816.0" cy="1113.4" r="4.9"/><circle cx="1817.9" cy="1112.1" r="4.9"/><circle cx="1819.8" cy="1110.9" r="4.9"/><circle cx="1821.6" cy="1109.8" r="4.9"/><circle cx="1823.4" cy="1108.7" r="4.9"/></g>
<g fill="#7fb0ff" stroke="#0a0af5" stroke-width="3.0"><circle cx="1524.0" cy="1230.2" r="3.1"/><circle cx="1536.3" cy="1226.1" r="3.1"/><circle cx="1548.7" cy="1222.0" r="3.1"/><circle cx="1561.0" cy="1217.9" r="3.1"/><circle cx="1573.3" cy="1213.9" r="3.1"/><circle cx="1585.6" cy="1209.8" r="3.1"/><circle cx="1597.7" cy="1205.8" r="3.1"/><circle cx="1609.7" cy="1201.8" r="3.1"/><circle cx="1621.6" cy="1198.0" r="3.1"/><circle cx="1633.3" cy="1194.2" r="3.1"/><circle cx="1644.7" cy="1190.6" r="3.1"/><circle cx="1655.7" cy="1187.0" r="3.1"/><circle cx="1666.4" cy="1183.6" r="3.1"/><circle cx="1676.7" cy="1180.1" r="3.1"/><circle cx="1686.5" cy="1176.7" r="3.1"/><circle cx="1695.8" cy="1173.4" r="3.1"/></g>
<line x1="1524.0" y1="1230.5" x2="1781.4" y2="1146.7" stroke="#30e0ff" stroke-width="2.2" stroke-dasharray="2.2 2.6"/>
<g fill="#10f020"><path d="M1524.0,1274.7l6.1,7.2l-6.1,7.2l-6.1,-7.2z"/><path d="M1539.6,1270.9l6.1,7.2l-6.1,7.2l-6.1,-7.2z"/><path d="M1555.1,1267.2l6.1,7.2l-6.1,7.2l-6.1,-7.2z"/><path d="M1570.6,1263.5l6.1,7.2l-6.1,7.2l-6.1,-7.2z"/><path d="M1586.1,1259.8l6.1,7.2l-6.1,7.2l-6.1,-7.2z"/><path d="M1601.3,1256.2l6.1,7.2l-6.1,7.2l-6.1,-7.2z"/><path d="M1616.4,1252.6l6.1,7.2l-6.1,7.2l-6.1,-7.2z"/><path d="M1631.2,1249.1l6.1,7.2l-6.1,7.2l-6.1,-7.2z"/><path d="M1645.6,1245.8l6.1,7.2l-6.1,7.2l-6.1,-7.2z"/><path d="M1659.6,1242.6l6.1,7.2l-6.1,7.2l-6.1,-7.2z"/><path d="M1673.2,1239.5l6.1,7.2l-6.1,7.2l-6.1,-7.2z"/><path d="M1686.1,1236.3l6.1,7.2l-6.1,7.2l-6.1,-7.2z"/><path d="M1698.5,1233.1l6.1,7.2l-6.1,7.2l-6.1,-7.2z"/><path d="M1710.3,1230.0l6.1,7.2l-6.1,7.2l-6.1,-7.2z"/><path d="M1721.4,1226.8l6.1,7.2l-6.1,7.2l-6.1,-7.2z"/><path d="M1731.9,1223.7l6.1,7.2l-6.1,7.2l-6.1,-7.2z"/><path d="M1741.9,1220.7l6.1,7.2l-6.1,7.2l-6.1,-7.2z"/><path d="M1751.2,1217.7l6.1,7.2l-6.1,7.2l-6.1,-7.2z"/><path d="M1760.0,1214.8l6.1,7.2l-6.1,7.2l-6.1,-7.2z"/><path d="M1768.2,1211.9l6.1,7.2l-6.1,7.2l-6.1,-7.2z"/><path d="M1775.9,1209.0l6.1,7.2l-6.1,7.2l-6.1,-7.2z"/><path d="M1783.2,1206.2l6.1,7.2l-6.1,7.2l-6.1,-7.2z"/><path d="M1790.0,1203.5l6.1,7.2l-6.1,7.2l-6.1,-7.2z"/><path d="M1796.5,1200.9l6.1,7.2l-6.1,7.2l-6.1,-7.2z"/><path d="M1802.5,1198.3l6.1,7.2l-6.1,7.2l-6.1,-7.2z"/><path d="M1808.2,1195.9l6.1,7.2l-6.1,7.2l-6.1,-7.2z"/><path d="M1813.7,1193.5l6.1,7.2l-6.1,7.2l-6.1,-7.2z"/><path d="M1818.8,1191.3l6.1,7.2l-6.1,7.2l-6.1,-7.2z"/><path d="M1823.6,1189.1l6.1,7.2l-6.1,7.2l-6.1,-7.2z"/><path d="M1828.2,1187.0l6.1,7.2l-6.1,7.2l-6.1,-7.2z"/><path d="M1832.6,1185.0l6.1,7.2l-6.1,7.2l-6.1,-7.2z"/><path d="M1836.7,1183.1l6.1,7.2l-6.1,7.2l-6.1,-7.2z"/><path d="M1840.7,1181.2l6.1,7.2l-6.1,7.2l-6.1,-7.2z"/><path d="M1844.4,1179.4l6.1,7.2l-6.1,7.2l-6.1,-7.2z"/><path d="M1848.0,1177.6l6.1,7.2l-6.1,7.2l-6.1,-7.2z"/><path d="M1851.4,1175.9l6.1,7.2l-6.1,7.2l-6.1,-7.2z"/><path d="M1854.7,1174.2l6.1,7.2l-6.1,7.2l-6.1,-7.2z"/><path d="M1857.8,1172.6l6.1,7.2l-6.1,7.2l-6.1,-7.2z"/><path d="M1860.8,1171.0l6.1,7.2l-6.1,7.2l-6.1,-7.2z"/><path d="M1863.7,1169.5l6.1,7.2l-6.1,7.2l-6.1,-7.2z"/><path d="M1866.4,1168.0l6.1,7.2l-6.1,7.2l-6.1,-7.2z"/><path d="M1869.1,1166.5l6.1,7.2l-6.1,7.2l-6.1,-7.2z"/><path d="M1871.6,1165.1l6.1,7.2l-6.1,7.2l-6.1,-7.2z"/><path d="M1874.0,1163.7l6.1,7.2l-6.1,7.2l-6.1,-7.2z"/><path d="M1876.4,1162.4l6.1,7.2l-6.1,7.2l-6.1,-7.2z"/><path d="M1878.6,1161.0l6.1,7.2l-6.1,7.2l-6.1,-7.2z"/><path d="M1880.8,1159.7l6.1,7.2l-6.1,7.2l-6.1,-7.2z"/><path d="M1882.9,1158.5l6.1,7.2l-6.1,7.2l-6.1,-7.2z"/><path d="M1884.9,1157.3l6.1,7.2l-6.1,7.2l-6.1,-7.2z"/><path d="M1886.9,1156.1l6.1,7.2l-6.1,7.2l-6.1,-7.2z"/><path d="M1888.8,1154.9l6.1,7.2l-6.1,7.2l-6.1,-7.2z"/><path d="M1890.6,1153.7l6.1,7.2l-6.1,7.2l-6.1,-7.2z"/><path d="M1892.4,1152.6l6.1,7.2l-6.1,7.2l-6.1,-7.2z"/><path d="M1894.1,1151.5l6.1,7.2l-6.1,7.2l-6.1,-7.2z"/><path d="M1895.8,1150.5l6.1,7.2l-6.1,7.2l-6.1,-7.2z"/><path d="M1897.4,1149.4l6.1,7.2l-6.1,7.2l-6.1,-7.2z"/><path d="M1899.0,1148.4l6.1,7.2l-6.1,7.2l-6.1,-7.2z"/></g>
<line x1="1524.0" y1="1282.0" x2="1831.0" y2="1210.7" stroke="#ff3030" stroke-width="2.2" stroke-dasharray="2.2 2.6"/>
<g fill="#f50a0a"><path d="M1524.0,1390.5l5.9,11.2h-11.8z"/><path d="M1537.9,1388.7l5.9,11.2h-11.8z"/><path d="M1551.7,1386.9l5.9,11.2h-11.8z"/><path d="M1565.6,1385.0l5.9,11.2h-11.8z"/><path d="M1579.3,1383.2l5.9,11.2h-11.8z"/><path d="M1592.9,1381.3l5.9,11.2h-11.8z"/><path d="M1606.4,1379.5l5.9,11.2h-11.8z"/><path d="M1619.6,1377.7l5.9,11.2h-11.8z"/><path d="M1632.7,1375.9l5.9,11.2h-11.8z"/><path d="M1645.4,1374.1l5.9,11.2h-11.8z"/><path d="M1657.9,1372.4l5.9,11.2h-11.8z"/><path d="M1670.0,1370.7l5.9,11.2h-11.8z"/><path d="M1681.8,1369.1l5.9,11.2h-11.8z"/><path d="M1693.3,1367.5l5.9,11.2h-11.8z"/><path d="M1704.4,1365.9l5.9,11.2h-11.8z"/><path d="M1715.2,1364.4l5.9,11.2h-11.8z"/><path d="M1725.6,1362.9l5.9,11.2h-11.8z"/><path d="M1735.6,1361.5l5.9,11.2h-11.8z"/><path d="M1745.2,1360.1l5.9,11.2h-11.8z"/><path d="M1754.5,1358.7l5.9,11.2h-11.8z"/><path d="M1763.5,1357.4l5.9,11.2h-11.8z"/><path d="M1772.1,1356.2l5.9,11.2h-11.8z"/><path d="M1780.4,1354.9l5.9,11.2h-11.8z"/><path d="M1788.4,1353.8l5.9,11.2h-11.8z"/><path d="M1796.0,1352.6l5.9,11.2h-11.8z"/><path d="M1803.4,1351.5l5.9,11.2h-11.8z"/><path d="M1810.5,1350.4l5.9,11.2h-11.8z"/><path d="M1817.4,1349.4l5.9,11.2h-11.8z"/><path d="M1823.9,1348.4l5.9,11.2h-11.8z"/><path d="M1830.3,1347.4l5.9,11.2h-11.8z"/><path d="M1836.4,1346.5l5.9,11.2h-11.8z"/><path d="M1842.3,1345.6l5.9,11.2h-11.8z"/><path d="M1848.0,1344.7l5.9,11.2h-11.8z"/><path d="M1853.5,1343.8l5.9,11.2h-11.8z"/><path d="M1858.8,1343.0l5.9,11.2h-11.8z"/><path d="M1863.9,1342.1l5.9,11.2h-11.8z"/><path d="M1868.8,1341.3l5.9,11.2h-11.8z"/><path d="M1873.6,1340.6l5.9,11.2h-11.8z"/><path d="M1878.3,1339.8l5.9,11.2h-11.8z"/><path d="M1882.7,1339.1l5.9,11.2h-11.8z"/><path d="M1887.1,1338.3l5.9,11.2h-11.8z"/><path d="M1891.3,1337.6l5.9,11.2h-11.8z"/><path d="M1895.4,1336.9l5.9,11.2h-11.8z"/><path d="M1899.3,1336.2l5.9,11.2h-11.8z"/><path d="M1903.2,1335.5l5.9,11.2h-11.8z"/><path d="M1906.9,1334.8l5.9,11.2h-11.8z"/><path d="M1910.5,1334.2l5.9,11.2h-11.8z"/><path d="M1914.0,1333.5l5.9,11.2h-11.8z"/><path d="M1917.5,1332.9l5.9,11.2h-11.8z"/><path d="M1920.8,1332.3l5.9,11.2h-11.8z"/><path d="M1924.0,1331.8l5.9,11.2h-11.8z"/><path d="M1927.2,1331.2l5.9,11.2h-11.8z"/><path d="M1930.3,1330.7l5.9,11.2h-11.8z"/><path d="M1933.3,1330.1l5.9,11.2h-11.8z"/><path d="M1936.2,1329.6l5.9,11.2h-11.8z"/><path d="M1939.1,1329.2l5.9,11.2h-11.8z"/><path d="M1941.9,1328.7l5.9,11.2h-11.8z"/><path d="M1944.6,1328.3l5.9,11.2h-11.8z"/><path d="M1947.3,1327.8l5.9,11.2h-11.8z"/><path d="M1949.9,1327.4l5.9,11.2h-11.8z"/><path d="M1952.4,1327.0l5.9,11.2h-11.8z"/><path d="M1954.9,1326.6l5.9,11.2h-11.8z"/><path d="M1957.4,1326.2l5.9,11.2h-11.8z"/><path d="M1959.8,1325.8l5.9,11.2h-11.8z"/><path d="M1962.1,1325.5l5.9,11.2h-11.8z"/><path d="M1964.4,1325.1l5.9,11.2h-11.8z"/><path d="M1966.6,1324.8l5.9,11.2h-11.8z"/><path d="M1968.8,1324.4l5.9,11.2h-11.8z"/><path d="M1971.0,1324.1l5.9,11.2h-11.8z"/><path d="M1973.1,1323.8l5.9,11.2h-11.8z"/><path d="M1975.2,1323.4l5.9,11.2h-11.8z"/><path d="M1977.2,1323.1l5.9,11.2h-11.8z"/></g>
<line x1="1524.0" y1="1398.5" x2="1961.6" y2="1349.0" stroke="#222" stroke-width="2.2" stroke-dasharray="2.2 2.6"/>
<g fill="#10d8f5"><path d="M1750.0,1428.6l5.6,-10.6h-11.2z"/><path d="M1763.0,1428.0l5.6,-10.6h-11.2z"/><path d="M1775.1,1427.5l5.6,-10.6h-11.2z"/><path d="M1786.5,1427.0l5.6,-10.6h-11.2z"/><path d="M1797.3,1426.5l5.6,-10.6h-11.2z"/><path d="M1807.5,1426.1l5.6,-10.6h-11.2z"/><path d="M1817.1,1425.6l5.6,-10.6h-11.2z"/><path d="M1826.3,1425.2l5.6,-10.6h-11.2z"/><path d="M1835.0,1424.8l5.6,-10.6h-11.2z"/><path d="M1843.4,1424.5l5.6,-10.6h-11.2z"/><path d="M1851.4,1424.1l5.6,-10.6h-11.2z"/><path d="M1859.1,1423.7l5.6,-10.6h-11.2z"/><path d="M1866.5,1423.4l5.6,-10.6h-11.2z"/><path d="M1873.6,1423.1l5.6,-10.6h-11.2z"/><path d="M1880.5,1422.8l5.6,-10.6h-11.2z"/><path d="M1887.1,1422.5l5.6,-10.6h-11.2z"/><path d="M1893.5,1422.2l5.6,-10.6h-11.2z"/><path d="M1899.7,1421.9l5.6,-10.6h-11.2z"/><path d="M1905.7,1421.6l5.6,-10.6h-11.2z"/><path d="M1911.5,1421.3l5.6,-10.6h-11.2z"/><path d="M1917.1,1421.1l5.6,-10.6h-11.2z"/><path d="M1922.6,1420.8l5.6,-10.6h-11.2z"/><path d="M1927.9,1420.6l5.6,-10.6h-11.2z"/><path d="M1933.1,1420.3l5.6,-10.6h-11.2z"/><path d="M1938.1,1420.1l5.6,-10.6h-11.2z"/><path d="M1943.0,1419.8l5.6,-10.6h-11.2z"/><path d="M1947.8,1419.6l5.6,-10.6h-11.2z"/><path d="M1952.5,1419.4l5.6,-10.6h-11.2z"/><path d="M1957.0,1419.2l5.6,-10.6h-11.2z"/><path d="M1961.5,1419.0l5.6,-10.6h-11.2z"/><path d="M1965.8,1418.7l5.6,-10.6h-11.2z"/><path d="M1970.1,1418.5l5.6,-10.6h-11.2z"/><path d="M1974.3,1418.3l5.6,-10.6h-11.2z"/></g>
<line x1="1750.0" y1="1421.0" x2="1978.0" y2="1411.0" stroke="#2a50ff" stroke-width="2" stroke-dasharray="2.2 2.6"/>
</g>
<rect x="1524.0" y="1079.1" width="454.2" height="347.8" fill="none" stroke="#0d0d0d" stroke-width="4" />
<line x1="1513.0" y1="1079.1" x2="1524.0" y2="1079.1" stroke="#0d0d0d" stroke-width="3.4" />
<line x1="1517.0" y1="1113.9" x2="1524.0" y2="1113.9" stroke="#0d0d0d" stroke-width="3.4" />
<line x1="1513.0" y1="1148.7" x2="1524.0" y2="1148.7" stroke="#0d0d0d" stroke-width="3.4" />
<line x1="1517.0" y1="1183.4" x2="1524.0" y2="1183.4" stroke="#0d0d0d" stroke-width="3.4" />
<line x1="1513.0" y1="1218.2" x2="1524.0" y2="1218.2" stroke="#0d0d0d" stroke-width="3.4" />
<line x1="1517.0" y1="1253.0" x2="1524.0" y2="1253.0" stroke="#0d0d0d" stroke-width="3.4" />
<line x1="1513.0" y1="1287.8" x2="1524.0" y2="1287.8" stroke="#0d0d0d" stroke-width="3.4" />
<line x1="1517.0" y1="1322.6" x2="1524.0" y2="1322.6" stroke="#0d0d0d" stroke-width="3.4" />
<line x1="1513.0" y1="1357.3" x2="1524.0" y2="1357.3" stroke="#0d0d0d" stroke-width="3.4" />
<line x1="1517.0" y1="1392.1" x2="1524.0" y2="1392.1" stroke="#0d0d0d" stroke-width="3.4" />
<line x1="1513.0" y1="1426.9" x2="1524.0" y2="1426.9" stroke="#0d0d0d" stroke-width="3.4" />
<line x1="1524.0" y1="1426.9" x2="1524.0" y2="1437.9" stroke="#0d0d0d" stroke-width="3.4" />
<line x1="1569.4" y1="1426.9" x2="1569.4" y2="1433.9" stroke="#0d0d0d" stroke-width="3.4" />
<line x1="1614.8" y1="1426.9" x2="1614.8" y2="1437.9" stroke="#0d0d0d" stroke-width="3.4" />
<line x1="1660.3" y1="1426.9" x2="1660.3" y2="1433.9" stroke="#0d0d0d" stroke-width="3.4" />
<line x1="1705.7" y1="1426.9" x2="1705.7" y2="1437.9" stroke="#0d0d0d" stroke-width="3.4" />
<line x1="1751.1" y1="1426.9" x2="1751.1" y2="1433.9" stroke="#0d0d0d" stroke-width="3.4" />
<line x1="1796.5" y1="1426.9" x2="1796.5" y2="1437.9" stroke="#0d0d0d" stroke-width="3.4" />
<line x1="1841.9" y1="1426.9" x2="1841.9" y2="1433.9" stroke="#0d0d0d" stroke-width="3.4" />
<line x1="1887.4" y1="1426.9" x2="1887.4" y2="1437.9" stroke="#0d0d0d" stroke-width="3.4" />
<line x1="1932.8" y1="1426.9" x2="1932.8" y2="1433.9" stroke="#0d0d0d" stroke-width="3.4" />
<line x1="1978.2" y1="1426.9" x2="1978.2" y2="1437.9" stroke="#0d0d0d" stroke-width="3.4" />
<text class="sa" font-size="25.5" font-weight="bold" fill="#222" text-anchor="end" x="1510.5" y="1435.9">0.0</text>
<text class="sa" font-size="25.5" font-weight="bold" fill="#222" text-anchor="end" x="1510.5" y="1366.3">0.1</text>
<text class="sa" font-size="25.5" font-weight="bold" fill="#222" text-anchor="end" x="1510.5" y="1296.8">0.2</text>
<text class="sa" font-size="25.5" font-weight="bold" fill="#222" text-anchor="end" x="1510.5" y="1227.2">0.3</text>
<text class="sa" font-size="25.5" font-weight="bold" fill="#222" text-anchor="end" x="1510.5" y="1157.7">0.4</text>
<text class="sa" font-size="25.5" font-weight="bold" fill="#222" text-anchor="end" x="1510.5" y="1088.1">0.5</text>
<text class="sa" font-size="24.5" font-weight="bold" font-style="italic" fill="#222" text-anchor="middle" x="1525.0" y="1459.5">0.0</text>
<text class="sa" font-size="24.5" font-weight="bold" font-style="italic" fill="#222" text-anchor="middle" x="1615.8" y="1459.5">0.3</text>
<text class="sa" font-size="24.5" font-weight="bold" font-style="italic" fill="#222" text-anchor="middle" x="1706.7" y="1459.5">0.6</text>
<text class="sa" font-size="24.5" font-weight="bold" font-style="italic" fill="#222" text-anchor="middle" x="1797.5" y="1459.5">0.9</text>
<text class="sa" font-size="24.5" font-weight="bold" font-style="italic" fill="#222" text-anchor="middle" x="1888.4" y="1459.5">1.2</text>
<text class="sa" font-size="24.5" font-weight="bold" font-style="italic" fill="#222" text-anchor="middle" x="1978.2" y="1459.5">1.5</text>
<text class="sa" font-size="30.5" font-weight="bold" fill="#222" text-anchor="middle" textLength="234" lengthAdjust="spacingAndGlyphs" x="1751.5" y="1486.0">Log |j/(mA/cm<tspan dy="-11.59" font-size="18.91">2</tspan><tspan dy="11.59">&#8203;</tspan>)|</text>
<text class="sa" font-size="29.5" font-weight="bold" fill="#262626" text-anchor="middle" textLength="237" lengthAdjust="spacingAndGlyphs" transform="translate(1469.5 1254.0) rotate(-90)">Overpotential (V)</text>
<text class="sa" font-size="58" font-weight="bold" x="1548.0" y="1133.5">i</text>
<text class="sa" font-size="24" font-weight="bold" fill="#262626" transform="translate(1549.5 1204.0) rotate(-20.3)">144.4 mV dec<tspan dy="-10.08" font-size="14.88">-1</tspan><tspan dy="10.08">&#8203;</tspan></text>
<text class="sa" font-size="24" font-weight="bold" fill="#262626" transform="translate(1577.0 1260.0) rotate(-17.8)">101.7 mV dec<tspan dy="-10.08" font-size="14.88">-1</tspan><tspan dy="10.08">&#8203;</tspan></text>
<text class="sa" font-size="24" font-weight="bold" fill="#262626" transform="translate(1635.0 1366.5) rotate(-8)">44.5 mV dec<tspan dy="-10.08" font-size="14.88">-1</tspan><tspan dy="10.08">&#8203;</tspan></text>
<text class="sa" font-size="24" font-weight="bold" fill="#262626" transform="translate(1810.0 1410.0) rotate(-5)">31.2 mV dec<tspan dy="-10.08" font-size="14.88">-1</tspan><tspan dy="10.08">&#8203;</tspan></text></g>
</svg>
</body></html>
